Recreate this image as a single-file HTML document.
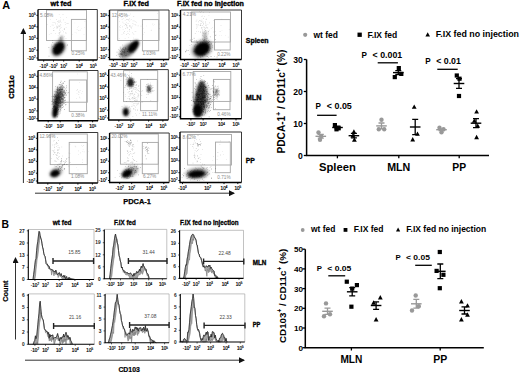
<!DOCTYPE html>
<html><head><meta charset="utf-8"><style>
html,body{margin:0;padding:0;background:#fff;width:520px;height:374px;overflow:hidden}
svg{display:block}
</style></head><body>
<svg width="520" height="374" viewBox="0 0 520 374" style="font-family:'Liberation Sans', sans-serif">
<defs>
<filter id="b1" x="-50%" y="-50%" width="200%" height="200%"><feGaussianBlur stdDeviation="0.6"/></filter>
<filter id="b2" x="-50%" y="-50%" width="200%" height="200%"><feGaussianBlur stdDeviation="1.0"/></filter>
<filter id="b3" x="-50%" y="-50%" width="200%" height="200%"><feGaussianBlur stdDeviation="1.6"/></filter>
<filter id="b4" x="-50%" y="-50%" width="200%" height="200%"><feGaussianBlur stdDeviation="2.4"/></filter>
<marker id="ah" markerWidth="6" markerHeight="6" refX="5" refY="3" orient="auto" markerUnits="userSpaceOnUse"><path d="M0 0L6 3L0 6z" fill="#111"/></marker>
</defs>
<rect width="520" height="374" fill="#fff"/>
<text x="2.2" y="8.8" font-size="10.8" font-weight="bold" fill="#000" text-anchor="start" textLength="7.9" lengthAdjust="spacingAndGlyphs">A</text>
<text x="50.6" y="6.3" font-size="7.1" font-weight="bold" fill="#000" text-anchor="start" textLength="20.8" lengthAdjust="spacingAndGlyphs" stroke="#000" stroke-width="0.35">wt fed</text>
<text x="123.6" y="6.3" font-size="7.1" font-weight="bold" fill="#000" text-anchor="start" textLength="25.2" lengthAdjust="spacingAndGlyphs" stroke="#000" stroke-width="0.35">F.IX fed</text>
<text x="177.1" y="6.3" font-size="7.1" font-weight="bold" fill="#000" text-anchor="start" textLength="66.8" lengthAdjust="spacingAndGlyphs" stroke="#000" stroke-width="0.35">F.IX fed no injection</text>
<text x="245.8" y="43.2" font-size="7.6" font-weight="bold" fill="#000" text-anchor="start" textLength="22.8" lengthAdjust="spacingAndGlyphs" stroke="#000" stroke-width="0.35">Spleen</text>
<text x="245.8" y="99.7" font-size="7.6" font-weight="bold" fill="#000" text-anchor="start" textLength="15.7" lengthAdjust="spacingAndGlyphs" stroke="#000" stroke-width="0.35">MLN</text>
<text x="245.8" y="163.1" font-size="7.6" font-weight="bold" fill="#000" text-anchor="start" textLength="9.1" lengthAdjust="spacingAndGlyphs" stroke="#000" stroke-width="0.35">PP</text>
<text transform="translate(14.3 87) rotate(-90)" font-size="7.7" font-weight="bold" text-anchor="middle" stroke="#000" stroke-width="0.35" textLength="23.3" lengthAdjust="spacingAndGlyphs">CD11c</text>
<line x1="23.4" y1="183" x2="23.4" y2="29" stroke="#333" stroke-width="1" marker-end="url(#ah)"/>
<line x1="35" y1="193.2" x2="234" y2="193.2" stroke="#333" stroke-width="1" marker-end="url(#ah)"/>
<text x="123.2" y="204.2" font-size="7.4" font-weight="bold" fill="#000" text-anchor="start" textLength="27.7" lengthAdjust="spacingAndGlyphs" stroke="#000" stroke-width="0.25">PDCA-1</text>
<rect x="46.5" y="10" width="40" height="30.5" fill="none" stroke="#a6a6a6" stroke-width="0.9"/>
<rect x="71.4" y="19.4" width="14.9" height="31.4" fill="none" stroke="#a6a6a6" stroke-width="0.9"/>
<path d="M59.5 30.1h0.6v0.6h-0.6zM58.1 21.8h0.6v0.6h-0.6zM57.2 21.1h0.6v0.6h-0.6zM59.8 37.4h0.6v0.6h-0.6zM57 23.7h0.6v0.6h-0.6zM61.9 30.5h0.6v0.6h-0.6zM60 21.5h0.6v0.6h-0.6zM59.4 32.9h0.6v0.6h-0.6zM52.8 24.8h0.6v0.6h-0.6zM50 19h0.6v0.6h-0.6zM50.3 26.4h0.6v0.6h-0.6zM53.2 29.9h0.6v0.6h-0.6zM60.3 26.7h0.6v0.6h-0.6zM46.9 24.2h0.6v0.6h-0.6zM59.3 28.8h0.6v0.6h-0.6zM51.8 24.7h0.6v0.6h-0.6zM54.6 22.3h0.6v0.6h-0.6zM64.8 22.3h0.6v0.6h-0.6zM59.3 34.2h0.6v0.6h-0.6zM56.6 27.2h0.6v0.6h-0.6zM60.1 28.4h0.6v0.6h-0.6zM53.4 28.5h0.6v0.6h-0.6zM66.3 17.2h0.6v0.6h-0.6zM63.8 28.8h0.6v0.6h-0.6zM56.3 42h0.6v0.6h-0.6zM63.3 19.6h0.6v0.6h-0.6zM59.9 32h0.6v0.6h-0.6zM58.6 32.8h0.6v0.6h-0.6zM59.2 32.7h0.6v0.6h-0.6zM66.7 23.3h0.6v0.6h-0.6zM60.5 24.8h0.6v0.6h-0.6zM60.1 19.7h0.6v0.6h-0.6zM56.6 26.6h0.6v0.6h-0.6zM64 36h0.6v0.6h-0.6zM52.9 22.4h0.6v0.6h-0.6zM62.7 14.1h0.6v0.6h-0.6zM57.2 27.3h0.6v0.6h-0.6zM65.8 32.8h0.6v0.6h-0.6zM57.9 25.4h0.6v0.6h-0.6zM58.2 38.7h0.6v0.6h-0.6zM57.4 25.9h0.6v0.6h-0.6zM61.3 27.2h0.6v0.6h-0.6zM58.5 20.2h0.6v0.6h-0.6zM59.4 24.9h0.6v0.6h-0.6zM65.3 32.6h0.6v0.6h-0.6zM59.4 32.7h0.6v0.6h-0.6zM57.8 35.4h0.6v0.6h-0.6zM59.5 32.1h0.6v0.6h-0.6zM53 30.4h0.6v0.6h-0.6zM51.1 13.8h0.6v0.6h-0.6zM58 21.7h0.6v0.6h-0.6zM60.3 43.7h0.6v0.6h-0.6zM55.3 23.6h0.6v0.6h-0.6zM60.5 31.5h0.6v0.6h-0.6zM58.6 26.6h0.6v0.6h-0.6zM63 31.6h0.6v0.6h-0.6zM54.3 27.4h0.6v0.6h-0.6zM59.7 20.6h0.6v0.6h-0.6zM60.8 22h0.6v0.6h-0.6zM64.4 29.3h0.6v0.6h-0.6zM59.9 23.9h0.6v0.6h-0.6zM58.9 14h0.6v0.6h-0.6zM53.8 30.5h0.6v0.6h-0.6zM48.9 33.9h0.6v0.6h-0.6zM50.8 33.3h0.6v0.6h-0.6zM55.3 33.5h0.6v0.6h-0.6zM60.2 17.2h0.6v0.6h-0.6zM65.7 38.1h0.6v0.6h-0.6zM59.2 26.1h0.6v0.6h-0.6zM58.7 21.2h0.6v0.6h-0.6zM65 24.2h0.6v0.6h-0.6zM59.2 22.4h0.6v0.6h-0.6zM56.4 19.1h0.6v0.6h-0.6zM65.8 26.9h0.6v0.6h-0.6zM64.3 28.1h0.6v0.6h-0.6zM56 25.7h0.6v0.6h-0.6zM56.7 28.1h0.6v0.6h-0.6zM57.6 25.9h0.6v0.6h-0.6zM52.6 22.4h0.6v0.6h-0.6zM67.8 23.3h0.6v0.6h-0.6z" fill="#000" fill-opacity="0.22"/>
<path d="M74.8 32h0.6v0.6h-0.6zM84.6 21.3h0.6v0.6h-0.6zM78.2 26.2h0.6v0.6h-0.6zM72 34.4h0.6v0.6h-0.6zM78.9 30.4h0.6v0.6h-0.6zM76 32.7h0.6v0.6h-0.6zM76.8 29.1h0.6v0.6h-0.6zM74.6 22.7h0.6v0.6h-0.6zM84.3 27h0.6v0.6h-0.6zM80.2 29.8h0.6v0.6h-0.6zM77.2 27h0.6v0.6h-0.6zM81.5 28.2h0.6v0.6h-0.6zM78.4 30.1h0.6v0.6h-0.6zM83.7 34.1h0.6v0.6h-0.6z" fill="#000" fill-opacity="0.15"/>
<path d="M58 44.6h0.6v0.6h-0.6zM57.5 53.4h0.6v0.6h-0.6zM60.6 43.7h0.6v0.6h-0.6zM62 47.1h0.6v0.6h-0.6zM63.1 46.5h0.6v0.6h-0.6zM61.4 51.8h0.6v0.6h-0.6zM57.6 52.8h0.6v0.6h-0.6zM62.1 47.5h0.6v0.6h-0.6zM67.3 44.6h0.6v0.6h-0.6zM51 46.7h0.6v0.6h-0.6zM57.9 42.2h0.6v0.6h-0.6zM60.7 48.9h0.6v0.6h-0.6zM48.6 47.3h0.6v0.6h-0.6zM59.3 46.3h0.6v0.6h-0.6zM58 47.8h0.6v0.6h-0.6zM52.2 46.2h0.6v0.6h-0.6zM55.5 45.3h0.6v0.6h-0.6zM55.6 53.2h0.6v0.6h-0.6zM59.4 48.1h0.6v0.6h-0.6zM54.2 48.6h0.6v0.6h-0.6zM53.6 48.1h0.6v0.6h-0.6zM56.9 44.6h0.6v0.6h-0.6zM60.3 46.7h0.6v0.6h-0.6zM60 37.7h0.6v0.6h-0.6zM60.5 44.1h0.6v0.6h-0.6zM54.6 43.8h0.6v0.6h-0.6zM59.3 50.1h0.6v0.6h-0.6zM58.5 47.4h0.6v0.6h-0.6zM60.8 50.5h0.6v0.6h-0.6zM52.5 42.1h0.6v0.6h-0.6zM51.4 44.7h0.6v0.6h-0.6zM48.7 55.8h0.6v0.6h-0.6zM62.1 43h0.6v0.6h-0.6zM53 48.5h0.6v0.6h-0.6zM61.8 43.9h0.6v0.6h-0.6zM58.5 46.7h0.6v0.6h-0.6zM60.8 48.7h0.6v0.6h-0.6zM60.5 45.8h0.6v0.6h-0.6zM57.2 51.3h0.6v0.6h-0.6zM59.7 51.6h0.6v0.6h-0.6zM54.9 50.6h0.6v0.6h-0.6zM54.9 44h0.6v0.6h-0.6zM66.8 45h0.6v0.6h-0.6zM59.4 50.2h0.6v0.6h-0.6zM52.5 40h0.6v0.6h-0.6zM59 46.1h0.6v0.6h-0.6zM55.8 44.3h0.6v0.6h-0.6zM57.3 47.4h0.6v0.6h-0.6zM62.5 44.1h0.6v0.6h-0.6zM62.6 50.5h0.6v0.6h-0.6z" fill="#000" fill-opacity="0.45"/>
<ellipse cx="58.5" cy="48.5" rx="9" ry="6.5" transform="rotate(-55 58.5 48.5)" fill="#000" fill-opacity="0.4" filter="url(#b3)"/>
<ellipse cx="58.5" cy="48.5" rx="7.2" ry="4.8" transform="rotate(-55 58.5 48.5)" fill="#000" fill-opacity="1" filter="url(#b2)"/>
<ellipse cx="61" cy="39" rx="3.5" ry="1.8" transform="rotate(-70 61 39)" fill="#000" fill-opacity="0.4" filter="url(#b2)"/>
<path d="M38 9.5H97.3V60" fill="none" stroke="#222" stroke-width="0.9"/>
<path d="M38 9.5V60H97.3" fill="none" stroke="#000" stroke-width="1.4"/>
<text x="40" y="17" font-size="4.7" font-weight="normal" fill="#8c8c8c" text-anchor="start" >5.08%</text>
<text x="71.4" y="55.1" font-size="4.7" font-weight="normal" fill="#8c8c8c" text-anchor="start" >0.25%</text>
<line x1="36.4" y1="15.3" x2="38" y2="15.3" stroke="#000" stroke-width="0.9"/>
<text x="35.6" y="16.9" font-size="4.7" font-weight="normal" fill="#000" stroke="#000" stroke-width="0.18" text-anchor="end">10<tspan font-size="2.9" dy="-1.7">5</tspan></text>
<line x1="36.4" y1="26.9" x2="38" y2="26.9" stroke="#000" stroke-width="0.9"/>
<text x="35.6" y="28.5" font-size="4.7" font-weight="normal" fill="#000" stroke="#000" stroke-width="0.18" text-anchor="end">10<tspan font-size="2.9" dy="-1.7">4</tspan></text>
<line x1="36.4" y1="38.3" x2="38" y2="38.3" stroke="#000" stroke-width="0.9"/>
<text x="35.6" y="39.9" font-size="4.7" font-weight="normal" fill="#000" stroke="#000" stroke-width="0.18" text-anchor="end">10<tspan font-size="2.9" dy="-1.7">3</tspan></text>
<line x1="36.4" y1="50.2" x2="38" y2="50.2" stroke="#000" stroke-width="0.9"/>
<text x="35.6" y="51.8" font-size="4.7" font-weight="normal" fill="#000" stroke="#000" stroke-width="0.18" text-anchor="end">10<tspan font-size="2.9" dy="-1.7">2</tspan></text>
<line x1="36.4" y1="58" x2="38" y2="58" stroke="#000" stroke-width="0.9"/>
<text x="35.6" y="59.6" font-size="4.7" font-weight="normal" fill="#000" stroke="#000" stroke-width="0.18" text-anchor="end">-10<tspan font-size="2.9" dy="-1.7">2</tspan></text>
<line x1="43.7" y1="60" x2="43.7" y2="61.6" stroke="#000" stroke-width="0.9"/>
<text x="43.7" y="67.6" font-size="4.7" font-weight="normal" fill="#000" stroke="#000" stroke-width="0.18" text-anchor="middle">-10<tspan font-size="2.9" dy="-1.7">3</tspan></text>
<line x1="53.5" y1="60" x2="53.5" y2="61.6" stroke="#000" stroke-width="0.9"/>
<text x="53.5" y="67.6" font-size="4.7" font-weight="normal" fill="#000" stroke="#000" stroke-width="0.18" text-anchor="middle">-10<tspan font-size="2.9" dy="-1.7">2</tspan></text>
<line x1="63.7" y1="60" x2="63.7" y2="61.6" stroke="#000" stroke-width="0.9"/>
<text x="63.7" y="67.6" font-size="4.7" font-weight="normal" fill="#000" stroke="#000" stroke-width="0.18" text-anchor="middle">10<tspan font-size="2.9" dy="-1.7">2</tspan></text>
<line x1="79.2" y1="60" x2="79.2" y2="61.6" stroke="#000" stroke-width="0.9"/>
<text x="79.2" y="67.6" font-size="4.7" font-weight="normal" fill="#000" stroke="#000" stroke-width="0.18" text-anchor="middle">10<tspan font-size="2.9" dy="-1.7">4</tspan></text>
<line x1="93.1" y1="60" x2="93.1" y2="61.6" stroke="#000" stroke-width="0.9"/>
<text x="93.1" y="67.6" font-size="4.7" font-weight="normal" fill="#000" stroke="#000" stroke-width="0.18" text-anchor="middle">10<tspan font-size="2.9" dy="-1.7">5</tspan></text>
<rect x="117.7" y="10.8" width="41.3" height="29.7" fill="none" stroke="#a6a6a6" stroke-width="0.9"/>
<rect x="142.4" y="19.6" width="16.3" height="31.2" fill="none" stroke="#a6a6a6" stroke-width="0.9"/>
<path d="M125.2 24.3h0.6v0.6h-0.6zM118.9 38h0.6v0.6h-0.6zM132.8 33.4h0.6v0.6h-0.6zM131.3 27.8h0.6v0.6h-0.6zM129.1 25.2h0.6v0.6h-0.6zM127 27.4h0.6v0.6h-0.6zM135.6 30.9h0.6v0.6h-0.6zM127.7 22.9h0.6v0.6h-0.6zM124.8 38.2h0.6v0.6h-0.6zM130.5 27.5h0.6v0.6h-0.6zM126.3 19.2h0.6v0.6h-0.6zM127.7 33.1h0.6v0.6h-0.6zM126 25.4h0.6v0.6h-0.6zM126.9 27.8h0.6v0.6h-0.6zM120 25.4h0.6v0.6h-0.6zM123.7 33.2h0.6v0.6h-0.6zM124.1 31h0.6v0.6h-0.6zM135.6 24.8h0.6v0.6h-0.6zM125 28.3h0.6v0.6h-0.6zM128 20h0.6v0.6h-0.6zM130.3 41.1h0.6v0.6h-0.6zM126.7 25.6h0.6v0.6h-0.6zM122.8 29.2h0.6v0.6h-0.6zM121.8 19.3h0.6v0.6h-0.6zM134.4 20.7h0.6v0.6h-0.6zM133.4 37.7h0.6v0.6h-0.6zM129.3 30.9h0.6v0.6h-0.6zM137.8 25.6h0.6v0.6h-0.6zM125 17.5h0.6v0.6h-0.6zM128.2 37.4h0.6v0.6h-0.6zM132.8 20.4h0.6v0.6h-0.6zM123.7 23.5h0.6v0.6h-0.6zM129.5 25.6h0.6v0.6h-0.6zM129.1 29.1h0.6v0.6h-0.6zM126.5 26.7h0.6v0.6h-0.6zM129 26.4h0.6v0.6h-0.6zM130.5 40.1h0.6v0.6h-0.6zM131 27.4h0.6v0.6h-0.6zM119.6 29.7h0.6v0.6h-0.6zM118.3 17.1h0.6v0.6h-0.6zM132.3 31.9h0.6v0.6h-0.6zM127.3 15h0.6v0.6h-0.6zM126.1 22.2h0.6v0.6h-0.6zM131.2 42.8h0.6v0.6h-0.6zM129.1 21.5h0.6v0.6h-0.6zM122.1 26.6h0.6v0.6h-0.6zM127.1 18.9h0.6v0.6h-0.6zM128.6 18.9h0.6v0.6h-0.6zM133.6 34.4h0.6v0.6h-0.6zM133.4 23.7h0.6v0.6h-0.6zM130.6 26.1h0.6v0.6h-0.6zM126.1 24.6h0.6v0.6h-0.6zM121.5 16.9h0.6v0.6h-0.6zM132 25.7h0.6v0.6h-0.6zM129.1 34h0.6v0.6h-0.6zM119.3 21.5h0.6v0.6h-0.6zM128.9 29.7h0.6v0.6h-0.6zM126.1 34.2h0.6v0.6h-0.6zM129.1 18.5h0.6v0.6h-0.6zM123.3 32.6h0.6v0.6h-0.6zM130.3 13.7h0.6v0.6h-0.6zM134.7 31.2h0.6v0.6h-0.6zM134.7 24.3h0.6v0.6h-0.6zM126.5 19.1h0.6v0.6h-0.6zM140.7 25.8h0.6v0.6h-0.6zM135.9 22.5h0.6v0.6h-0.6zM128.8 15.3h0.6v0.6h-0.6zM126.1 33.9h0.6v0.6h-0.6zM121.7 34.5h0.6v0.6h-0.6zM129.7 19.7h0.6v0.6h-0.6zM125.5 23.8h0.6v0.6h-0.6zM127.8 23.2h0.6v0.6h-0.6zM123.9 24.9h0.6v0.6h-0.6zM122.9 18h0.6v0.6h-0.6zM127.8 33.2h0.6v0.6h-0.6zM120.4 27h0.6v0.6h-0.6zM124.8 20.2h0.6v0.6h-0.6zM132.3 23.4h0.6v0.6h-0.6zM135.5 21.5h0.6v0.6h-0.6zM129.9 25.4h0.6v0.6h-0.6zM124.2 31.1h0.6v0.6h-0.6zM127.2 31.2h0.6v0.6h-0.6zM127.8 19.4h0.6v0.6h-0.6zM127.5 27.4h0.6v0.6h-0.6zM132.8 20.7h0.6v0.6h-0.6zM127.8 14.9h0.6v0.6h-0.6zM131.3 19.4h0.6v0.6h-0.6zM119 26.6h0.6v0.6h-0.6zM133.5 16.3h0.6v0.6h-0.6zM122.6 21.8h0.6v0.6h-0.6z" fill="#000" fill-opacity="0.22"/>
<path d="M144.4 32.3h0.6v0.6h-0.6zM146 25.7h0.6v0.6h-0.6zM152.9 25.5h0.6v0.6h-0.6zM152.2 24.2h0.6v0.6h-0.6zM143.9 19h0.6v0.6h-0.6zM159.3 28.1h0.6v0.6h-0.6zM151.2 29.8h0.6v0.6h-0.6zM150.8 30.3h0.6v0.6h-0.6zM159.5 23.8h0.6v0.6h-0.6zM142.2 23.9h0.6v0.6h-0.6zM143.3 34.5h0.6v0.6h-0.6zM154.1 24.2h0.6v0.6h-0.6zM143 27.9h0.6v0.6h-0.6zM157 13.1h0.6v0.6h-0.6zM152.6 23.5h0.6v0.6h-0.6z" fill="#000" fill-opacity="0.15"/>
<path d="M125.3 47.8h0.6v0.6h-0.6zM120.8 49.2h0.6v0.6h-0.6zM122.3 56.7h0.6v0.6h-0.6zM125.5 49.7h0.6v0.6h-0.6zM118.5 49.4h0.6v0.6h-0.6zM122.3 52.6h0.6v0.6h-0.6zM123.1 51.9h0.6v0.6h-0.6zM120 53.8h0.6v0.6h-0.6zM125 54.9h0.6v0.6h-0.6zM129 48.4h0.6v0.6h-0.6zM121.1 53.2h0.6v0.6h-0.6zM120.7 51.5h0.6v0.6h-0.6zM122 49.8h0.6v0.6h-0.6zM125.2 50.7h0.6v0.6h-0.6zM124 51.2h0.6v0.6h-0.6zM120.1 51.2h0.6v0.6h-0.6zM122.1 51.2h0.6v0.6h-0.6zM124.2 51.6h0.6v0.6h-0.6zM119.5 54.5h0.6v0.6h-0.6zM118.7 53h0.6v0.6h-0.6zM120 48h0.6v0.6h-0.6zM124 52.2h0.6v0.6h-0.6zM122.5 51.4h0.6v0.6h-0.6zM121.1 50.5h0.6v0.6h-0.6zM122 51.3h0.6v0.6h-0.6zM122.3 49.2h0.6v0.6h-0.6zM124.4 51.9h0.6v0.6h-0.6zM122.5 51.3h0.6v0.6h-0.6zM123.1 47.4h0.6v0.6h-0.6zM125.2 51.7h0.6v0.6h-0.6zM124.8 52.3h0.6v0.6h-0.6zM121.2 52.6h0.6v0.6h-0.6zM126 51.8h0.6v0.6h-0.6zM122.2 48.4h0.6v0.6h-0.6zM126.6 53.6h0.6v0.6h-0.6zM126.9 50.7h0.6v0.6h-0.6zM120 56.8h0.6v0.6h-0.6zM119.9 46.8h0.6v0.6h-0.6zM122.8 48.1h0.6v0.6h-0.6zM118.8 52.9h0.6v0.6h-0.6zM126.9 49h0.6v0.6h-0.6zM126.5 55.3h0.6v0.6h-0.6zM128.2 49h0.6v0.6h-0.6zM121.2 49.7h0.6v0.6h-0.6zM121.9 54.1h0.6v0.6h-0.6zM124.8 51.5h0.6v0.6h-0.6zM125.5 48.6h0.6v0.6h-0.6zM124.2 53.7h0.6v0.6h-0.6zM126.6 53.3h0.6v0.6h-0.6zM124.3 50.6h0.6v0.6h-0.6zM123.3 49.2h0.6v0.6h-0.6zM119.3 56.1h0.6v0.6h-0.6zM123.7 52.8h0.6v0.6h-0.6zM117.9 54.2h0.6v0.6h-0.6zM120.6 51.2h0.6v0.6h-0.6zM116.2 55.2h0.6v0.6h-0.6zM126.7 51.3h0.6v0.6h-0.6zM121.7 53h0.6v0.6h-0.6zM122.3 44.7h0.6v0.6h-0.6zM123.8 53.4h0.6v0.6h-0.6zM127.7 54.5h0.6v0.6h-0.6zM127.3 50.7h0.6v0.6h-0.6zM125.4 53.2h0.6v0.6h-0.6zM121.8 52.9h0.6v0.6h-0.6zM128.7 54.7h0.6v0.6h-0.6zM123 52.2h0.6v0.6h-0.6zM125.8 54.6h0.6v0.6h-0.6zM125.2 55.2h0.6v0.6h-0.6zM120.3 53.3h0.6v0.6h-0.6zM123.9 54h0.6v0.6h-0.6zM124.8 46.9h0.6v0.6h-0.6zM121.1 54.3h0.6v0.6h-0.6zM119.6 49.9h0.6v0.6h-0.6zM127.3 51.3h0.6v0.6h-0.6zM124.4 50.1h0.6v0.6h-0.6zM126.3 49.7h0.6v0.6h-0.6zM125.7 48.1h0.6v0.6h-0.6zM121.2 53.9h0.6v0.6h-0.6zM122.2 54.7h0.6v0.6h-0.6zM123.1 49.5h0.6v0.6h-0.6zM123.3 51.1h0.6v0.6h-0.6zM125.5 49h0.6v0.6h-0.6zM123.7 55.4h0.6v0.6h-0.6zM132.8 52.4h0.6v0.6h-0.6zM124 52.4h0.6v0.6h-0.6zM128 49h0.6v0.6h-0.6zM120.7 54h0.6v0.6h-0.6zM123.8 49.4h0.6v0.6h-0.6zM116.7 51.8h0.6v0.6h-0.6zM124.6 49.2h0.6v0.6h-0.6z" fill="#000" fill-opacity="0.45"/>
<ellipse cx="128" cy="50.5" rx="10" ry="5.5" transform="rotate(-40 128 50.5)" fill="#000" fill-opacity="0.55" filter="url(#b3)"/>
<ellipse cx="133.5" cy="46.5" rx="7.5" ry="3.8" transform="rotate(-50 133.5 46.5)" fill="#000" fill-opacity="1" filter="url(#b2)"/>
<path d="M109.5 10H169V59.5" fill="none" stroke="#222" stroke-width="0.9"/>
<path d="M109.5 10V59.5H169" fill="none" stroke="#000" stroke-width="1.4"/>
<text x="111.7" y="17" font-size="4.7" font-weight="normal" fill="#8c8c8c" text-anchor="start" >12.45%</text>
<text x="142.4" y="55.1" font-size="4.7" font-weight="normal" fill="#8c8c8c" text-anchor="start" >1.03%</text>
<line x1="107.9" y1="15.7" x2="109.5" y2="15.7" stroke="#000" stroke-width="0.9"/>
<text x="107.1" y="17.3" font-size="4.7" font-weight="normal" fill="#000" stroke="#000" stroke-width="0.18" text-anchor="end">10<tspan font-size="2.9" dy="-1.7">5</tspan></text>
<line x1="107.9" y1="27.1" x2="109.5" y2="27.1" stroke="#000" stroke-width="0.9"/>
<text x="107.1" y="28.7" font-size="4.7" font-weight="normal" fill="#000" stroke="#000" stroke-width="0.18" text-anchor="end">10<tspan font-size="2.9" dy="-1.7">4</tspan></text>
<line x1="107.9" y1="38.2" x2="109.5" y2="38.2" stroke="#000" stroke-width="0.9"/>
<text x="107.1" y="39.8" font-size="4.7" font-weight="normal" fill="#000" stroke="#000" stroke-width="0.18" text-anchor="end">10<tspan font-size="2.9" dy="-1.7">3</tspan></text>
<line x1="107.9" y1="49.8" x2="109.5" y2="49.8" stroke="#000" stroke-width="0.9"/>
<text x="107.1" y="51.4" font-size="4.7" font-weight="normal" fill="#000" stroke="#000" stroke-width="0.18" text-anchor="end">10<tspan font-size="2.9" dy="-1.7">2</tspan></text>
<line x1="107.9" y1="57.5" x2="109.5" y2="57.5" stroke="#000" stroke-width="0.9"/>
<text x="107.1" y="59.1" font-size="4.7" font-weight="normal" fill="#000" stroke="#000" stroke-width="0.18" text-anchor="end">-10<tspan font-size="2.9" dy="-1.7">2</tspan></text>
<line x1="113.4" y1="59.5" x2="113.4" y2="61.1" stroke="#000" stroke-width="0.9"/>
<text x="113.4" y="67.1" font-size="4.7" font-weight="normal" fill="#000" stroke="#000" stroke-width="0.18" text-anchor="middle">-10<tspan font-size="2.9" dy="-1.7">3</tspan></text>
<line x1="123.8" y1="59.5" x2="123.8" y2="61.1" stroke="#000" stroke-width="0.9"/>
<text x="123.8" y="67.1" font-size="4.7" font-weight="normal" fill="#000" stroke="#000" stroke-width="0.18" text-anchor="middle">-10<tspan font-size="2.9" dy="-1.7">2</tspan></text>
<line x1="133.9" y1="59.5" x2="133.9" y2="61.1" stroke="#000" stroke-width="0.9"/>
<text x="133.9" y="67.1" font-size="4.7" font-weight="normal" fill="#000" stroke="#000" stroke-width="0.18" text-anchor="middle">10<tspan font-size="2.9" dy="-1.7">2</tspan></text>
<line x1="150" y1="59.5" x2="150" y2="61.1" stroke="#000" stroke-width="0.9"/>
<text x="150" y="67.1" font-size="4.7" font-weight="normal" fill="#000" stroke="#000" stroke-width="0.18" text-anchor="middle">10<tspan font-size="2.9" dy="-1.7">4</tspan></text>
<line x1="163.6" y1="59.5" x2="163.6" y2="61.1" stroke="#000" stroke-width="0.9"/>
<text x="163.6" y="67.1" font-size="4.7" font-weight="normal" fill="#000" stroke="#000" stroke-width="0.18" text-anchor="middle">10<tspan font-size="2.9" dy="-1.7">5</tspan></text>
<rect x="191.4" y="12" width="39.1" height="30" fill="none" stroke="#a6a6a6" stroke-width="0.9"/>
<rect x="214.5" y="19.6" width="15.7" height="30.4" fill="none" stroke="#a6a6a6" stroke-width="0.9"/>
<path d="M202.4 29.7h0.6v0.6h-0.6zM205.5 25.3h0.6v0.6h-0.6zM205 20.9h0.6v0.6h-0.6zM201.6 19.8h0.6v0.6h-0.6zM207.5 27.8h0.6v0.6h-0.6zM200 25.2h0.6v0.6h-0.6zM202.1 33.6h0.6v0.6h-0.6zM196.6 19.7h0.6v0.6h-0.6zM201.5 48.3h0.6v0.6h-0.6zM206.8 27.1h0.6v0.6h-0.6zM205.8 44.5h0.6v0.6h-0.6zM202.1 25.1h0.6v0.6h-0.6zM207.8 32h0.6v0.6h-0.6zM205.7 23.9h0.6v0.6h-0.6zM210.7 41.7h0.6v0.6h-0.6zM205.3 33.5h0.6v0.6h-0.6zM194.9 33.1h0.6v0.6h-0.6zM202.2 31.5h0.6v0.6h-0.6zM205.7 25.3h0.6v0.6h-0.6zM196.2 30.9h0.6v0.6h-0.6zM200 25.4h0.6v0.6h-0.6zM200.6 25.3h0.6v0.6h-0.6zM193.8 37.7h0.6v0.6h-0.6zM204 36.9h0.6v0.6h-0.6zM210.9 28.2h0.6v0.6h-0.6zM195.8 20.8h0.6v0.6h-0.6zM198.2 24h0.6v0.6h-0.6zM203.3 12h0.6v0.6h-0.6zM204.4 15.9h0.6v0.6h-0.6zM204.2 27.1h0.6v0.6h-0.6zM201.7 27.4h0.6v0.6h-0.6zM200.8 23.1h0.6v0.6h-0.6zM196.3 27.8h0.6v0.6h-0.6zM210.4 43.8h0.6v0.6h-0.6zM208.3 33.6h0.6v0.6h-0.6zM200.3 39.5h0.6v0.6h-0.6zM202.8 27.4h0.6v0.6h-0.6zM201.8 28.7h0.6v0.6h-0.6zM201.3 27.3h0.6v0.6h-0.6zM198.7 25h0.6v0.6h-0.6zM212.1 27.4h0.6v0.6h-0.6zM202 32.3h0.6v0.6h-0.6zM205.8 19.1h0.6v0.6h-0.6zM202.2 35.3h0.6v0.6h-0.6zM204.1 29h0.6v0.6h-0.6zM209.2 22.6h0.6v0.6h-0.6zM203.3 23.8h0.6v0.6h-0.6zM209 12.4h0.6v0.6h-0.6zM200.3 23.8h0.6v0.6h-0.6zM205.7 32.9h0.6v0.6h-0.6zM208.6 15.4h0.6v0.6h-0.6zM206 25.7h0.6v0.6h-0.6zM200.3 32.3h0.6v0.6h-0.6zM199.3 11.4h0.6v0.6h-0.6zM201.5 16h0.6v0.6h-0.6zM200.4 31h0.6v0.6h-0.6zM204.2 40.7h0.6v0.6h-0.6zM202.2 15.7h0.6v0.6h-0.6zM200 20.6h0.6v0.6h-0.6zM198.1 31.5h0.6v0.6h-0.6zM200.4 12.2h0.6v0.6h-0.6zM205.8 27.1h0.6v0.6h-0.6zM204.4 28.8h0.6v0.6h-0.6zM205.5 28.3h0.6v0.6h-0.6zM207.9 31.4h0.6v0.6h-0.6zM204.6 31.3h0.6v0.6h-0.6zM197.2 26.7h0.6v0.6h-0.6zM202 29.7h0.6v0.6h-0.6zM197.6 41.1h0.6v0.6h-0.6zM203.4 18.3h0.6v0.6h-0.6zM196.2 25.7h0.6v0.6h-0.6zM202.6 22.3h0.6v0.6h-0.6zM203.4 22.9h0.6v0.6h-0.6zM205.2 22.2h0.6v0.6h-0.6zM202.8 35.8h0.6v0.6h-0.6zM213.3 19.9h0.6v0.6h-0.6zM201.1 21.3h0.6v0.6h-0.6zM206.1 18.8h0.6v0.6h-0.6zM201.1 27.8h0.6v0.6h-0.6zM199.1 20.3h0.6v0.6h-0.6zM201.1 11.2h0.6v0.6h-0.6zM197.2 24.7h0.6v0.6h-0.6zM203.6 26.5h0.6v0.6h-0.6zM195.9 24.3h0.6v0.6h-0.6zM206.2 32.4h0.6v0.6h-0.6zM202.7 20.9h0.6v0.6h-0.6zM205.5 23.4h0.6v0.6h-0.6zM198.3 21.6h0.6v0.6h-0.6zM208.8 29.8h0.6v0.6h-0.6zM207.6 24.2h0.6v0.6h-0.6z" fill="#000" fill-opacity="0.25"/>
<path d="M206.7 41.6h0.6v0.6h-0.6zM205.8 42.8h0.6v0.6h-0.6zM202.4 50.5h0.6v0.6h-0.6zM208.9 41.1h0.6v0.6h-0.6zM189.1 54h0.6v0.6h-0.6zM202.4 49h0.6v0.6h-0.6zM212.1 44.9h0.6v0.6h-0.6zM204.3 39.5h0.6v0.6h-0.6zM214.3 55.9h0.6v0.6h-0.6zM208.1 46.7h0.6v0.6h-0.6zM208.4 57.2h0.6v0.6h-0.6zM195.2 51.6h0.6v0.6h-0.6zM207.4 50.5h0.6v0.6h-0.6zM199.9 51.8h0.6v0.6h-0.6zM200.4 50.2h0.6v0.6h-0.6zM197.7 43.1h0.6v0.6h-0.6zM204.5 53.1h0.6v0.6h-0.6zM194.6 51.1h0.6v0.6h-0.6zM203.4 40.3h0.6v0.6h-0.6zM200.1 42.3h0.6v0.6h-0.6zM216.8 56h0.6v0.6h-0.6zM215.4 39.3h0.6v0.6h-0.6zM207.5 46.2h0.6v0.6h-0.6zM207.4 56.1h0.6v0.6h-0.6zM205.9 56h0.6v0.6h-0.6zM201.3 44.3h0.6v0.6h-0.6zM206.1 51.2h0.6v0.6h-0.6zM203.7 50.9h0.6v0.6h-0.6zM192 39.5h0.6v0.6h-0.6zM210.3 48.5h0.6v0.6h-0.6zM203.2 48.3h0.6v0.6h-0.6zM207.8 42h0.6v0.6h-0.6zM196.5 50.3h0.6v0.6h-0.6zM206.1 36.5h0.6v0.6h-0.6zM208.3 40.4h0.6v0.6h-0.6zM197.4 42.1h0.6v0.6h-0.6zM202.3 54.8h0.6v0.6h-0.6zM209 41.5h0.6v0.6h-0.6zM207 50.6h0.6v0.6h-0.6zM198.6 52.9h0.6v0.6h-0.6zM200.2 45.8h0.6v0.6h-0.6zM198.8 50.8h0.6v0.6h-0.6zM200.5 45.4h0.6v0.6h-0.6zM202.4 56h0.6v0.6h-0.6zM206.1 52.2h0.6v0.6h-0.6zM212.1 46.8h0.6v0.6h-0.6zM215.3 35.1h0.6v0.6h-0.6zM206.6 43.6h0.6v0.6h-0.6zM220 49.9h0.6v0.6h-0.6zM185.6 51.3h0.6v0.6h-0.6zM209 49.9h0.6v0.6h-0.6zM206.9 45.2h0.6v0.6h-0.6zM207.1 50.1h0.6v0.6h-0.6zM204.5 54.1h0.6v0.6h-0.6zM197.7 57.6h0.6v0.6h-0.6zM197.7 44.8h0.6v0.6h-0.6zM201.9 42.3h0.6v0.6h-0.6zM191 44h0.6v0.6h-0.6zM203.3 51.2h0.6v0.6h-0.6zM208.7 43.7h0.6v0.6h-0.6zM209.3 44.4h0.6v0.6h-0.6zM203.1 51.9h0.6v0.6h-0.6zM208.3 42.5h0.6v0.6h-0.6zM199.8 48.6h0.6v0.6h-0.6zM199.9 43.5h0.6v0.6h-0.6zM207.9 42.3h0.6v0.6h-0.6zM202.7 42.4h0.6v0.6h-0.6zM205.7 49.1h0.6v0.6h-0.6zM209.9 56.2h0.6v0.6h-0.6zM206.7 41.2h0.6v0.6h-0.6zM200.7 52.3h0.6v0.6h-0.6zM202.6 48.5h0.6v0.6h-0.6zM194.6 40.2h0.6v0.6h-0.6zM193.8 37.9h0.6v0.6h-0.6zM202.4 43.2h0.6v0.6h-0.6zM196.4 50.2h0.6v0.6h-0.6zM199.6 40h0.6v0.6h-0.6zM186.7 50h0.6v0.6h-0.6zM185 51.6h0.6v0.6h-0.6zM209.9 36.6h0.6v0.6h-0.6zM202.4 38.8h0.6v0.6h-0.6zM203.1 45.6h0.6v0.6h-0.6zM203.3 51.7h0.6v0.6h-0.6zM214.8 42.5h0.6v0.6h-0.6zM199.9 42.9h0.6v0.6h-0.6zM205.3 44.9h0.6v0.6h-0.6zM207.6 44.9h0.6v0.6h-0.6zM208.1 31.2h0.6v0.6h-0.6zM202.6 54.3h0.6v0.6h-0.6zM197.2 45.8h0.6v0.6h-0.6zM196 42.4h0.6v0.6h-0.6zM206.6 38.2h0.6v0.6h-0.6zM194.7 49.9h0.6v0.6h-0.6zM206.5 40.2h0.6v0.6h-0.6zM199.9 55.9h0.6v0.6h-0.6zM206.9 43.1h0.6v0.6h-0.6zM189.6 44.9h0.6v0.6h-0.6zM190.5 39.7h0.6v0.6h-0.6zM205.3 42.2h0.6v0.6h-0.6zM210.9 56.3h0.6v0.6h-0.6zM206.7 37.8h0.6v0.6h-0.6zM211.5 51h0.6v0.6h-0.6zM194 46.5h0.6v0.6h-0.6zM196.4 40.6h0.6v0.6h-0.6zM205 30.1h0.6v0.6h-0.6zM193.5 51.5h0.6v0.6h-0.6zM200.9 50.3h0.6v0.6h-0.6zM203.2 46.3h0.6v0.6h-0.6zM203.5 32.8h0.6v0.6h-0.6zM199.9 44.8h0.6v0.6h-0.6zM203.6 49.1h0.6v0.6h-0.6zM193.8 48.8h0.6v0.6h-0.6zM208.5 47.1h0.6v0.6h-0.6zM213.6 31.7h0.6v0.6h-0.6zM208.1 46.5h0.6v0.6h-0.6zM198.9 46.5h0.6v0.6h-0.6zM198.9 46.5h0.6v0.6h-0.6zM206 43.5h0.6v0.6h-0.6zM195.3 44h0.6v0.6h-0.6zM199 44.1h0.6v0.6h-0.6zM203.9 54.6h0.6v0.6h-0.6zM206 49.7h0.6v0.6h-0.6zM204.6 47.4h0.6v0.6h-0.6zM200.2 47.4h0.6v0.6h-0.6zM204 39.8h0.6v0.6h-0.6zM211.4 43.3h0.6v0.6h-0.6zM195.3 49h0.6v0.6h-0.6zM197.8 52h0.6v0.6h-0.6zM200.5 57.3h0.6v0.6h-0.6zM189.8 39.8h0.6v0.6h-0.6zM190.9 41h0.6v0.6h-0.6zM204.9 54.2h0.6v0.6h-0.6zM202.5 39h0.6v0.6h-0.6zM204.2 47.2h0.6v0.6h-0.6zM216.7 57h0.6v0.6h-0.6zM211.4 44h0.6v0.6h-0.6zM206.3 50.3h0.6v0.6h-0.6zM194.6 45.4h0.6v0.6h-0.6zM199.5 43.4h0.6v0.6h-0.6zM201.9 49.2h0.6v0.6h-0.6zM215.7 34.7h0.6v0.6h-0.6zM200.7 48.1h0.6v0.6h-0.6zM208.2 52.2h0.6v0.6h-0.6zM196.1 46.2h0.6v0.6h-0.6zM187.9 50.3h0.6v0.6h-0.6zM205.9 46.6h0.6v0.6h-0.6zM193.8 50.6h0.6v0.6h-0.6zM203.7 51h0.6v0.6h-0.6zM197.1 49.6h0.6v0.6h-0.6zM185.9 49.8h0.6v0.6h-0.6zM206.6 30.7h0.6v0.6h-0.6z" fill="#000" fill-opacity="0.45"/>
<path d="M220.3 31.3h0.6v0.6h-0.6zM220.1 25.2h0.6v0.6h-0.6zM221.7 30h0.6v0.6h-0.6zM221.6 18.7h0.6v0.6h-0.6zM221.3 24.9h0.6v0.6h-0.6zM219.3 31.4h0.6v0.6h-0.6zM225.2 35.4h0.6v0.6h-0.6zM219.5 35.5h0.6v0.6h-0.6zM227.9 36.8h0.6v0.6h-0.6zM228.9 29.1h0.6v0.6h-0.6zM221.1 35h0.6v0.6h-0.6zM215.2 31.3h0.6v0.6h-0.6z" fill="#000" fill-opacity="0.15"/>
<ellipse cx="202" cy="49" rx="11" ry="8.5" transform="rotate(-30 202 49)" fill="#000" fill-opacity="0.4" filter="url(#b3)"/>
<ellipse cx="202" cy="49" rx="8.3" ry="6.3" transform="rotate(-35 202 49)" fill="#000" fill-opacity="1" filter="url(#b2)"/>
<ellipse cx="205" cy="37" rx="2" ry="6" transform="rotate(0 205 37)" fill="#000" fill-opacity="0.3" filter="url(#b2)"/>
<path d="M180.5 10H241.5V59.5" fill="none" stroke="#222" stroke-width="0.9"/>
<path d="M180.5 10V59.5H241.5" fill="none" stroke="#000" stroke-width="1.4"/>
<text x="182.7" y="16.4" font-size="4.7" font-weight="normal" fill="#8c8c8c" text-anchor="start" >4.21%</text>
<text x="217.2" y="55.7" font-size="4.7" font-weight="normal" fill="#8c8c8c" text-anchor="start" >0.22%</text>
<line x1="178.9" y1="15.7" x2="180.5" y2="15.7" stroke="#000" stroke-width="0.9"/>
<text x="178.1" y="17.3" font-size="4.7" font-weight="normal" fill="#000" stroke="#000" stroke-width="0.18" text-anchor="end">10<tspan font-size="2.9" dy="-1.7">5</tspan></text>
<line x1="178.9" y1="27.1" x2="180.5" y2="27.1" stroke="#000" stroke-width="0.9"/>
<text x="178.1" y="28.7" font-size="4.7" font-weight="normal" fill="#000" stroke="#000" stroke-width="0.18" text-anchor="end">10<tspan font-size="2.9" dy="-1.7">4</tspan></text>
<line x1="178.9" y1="38.2" x2="180.5" y2="38.2" stroke="#000" stroke-width="0.9"/>
<text x="178.1" y="39.8" font-size="4.7" font-weight="normal" fill="#000" stroke="#000" stroke-width="0.18" text-anchor="end">10<tspan font-size="2.9" dy="-1.7">3</tspan></text>
<line x1="178.9" y1="49.8" x2="180.5" y2="49.8" stroke="#000" stroke-width="0.9"/>
<text x="178.1" y="51.4" font-size="4.7" font-weight="normal" fill="#000" stroke="#000" stroke-width="0.18" text-anchor="end">10<tspan font-size="2.9" dy="-1.7">2</tspan></text>
<line x1="178.9" y1="57.5" x2="180.5" y2="57.5" stroke="#000" stroke-width="0.9"/>
<text x="178.1" y="59.1" font-size="4.7" font-weight="normal" fill="#000" stroke="#000" stroke-width="0.18" text-anchor="end">-10<tspan font-size="2.9" dy="-1.7">2</tspan></text>
<line x1="184.5" y1="59.5" x2="184.5" y2="61.1" stroke="#000" stroke-width="0.9"/>
<text x="184.5" y="67.1" font-size="4.7" font-weight="normal" fill="#000" stroke="#000" stroke-width="0.18" text-anchor="middle">-10<tspan font-size="2.9" dy="-1.7">3</tspan></text>
<line x1="195.1" y1="59.5" x2="195.1" y2="61.1" stroke="#000" stroke-width="0.9"/>
<text x="195.1" y="67.1" font-size="4.7" font-weight="normal" fill="#000" stroke="#000" stroke-width="0.18" text-anchor="middle">-10<tspan font-size="2.9" dy="-1.7">2</tspan></text>
<line x1="205.5" y1="59.5" x2="205.5" y2="61.1" stroke="#000" stroke-width="0.9"/>
<text x="205.5" y="67.1" font-size="4.7" font-weight="normal" fill="#000" stroke="#000" stroke-width="0.18" text-anchor="middle">10<tspan font-size="2.9" dy="-1.7">2</tspan></text>
<line x1="222" y1="59.5" x2="222" y2="61.1" stroke="#000" stroke-width="0.9"/>
<text x="222" y="67.1" font-size="4.7" font-weight="normal" fill="#000" stroke="#000" stroke-width="0.18" text-anchor="middle">10<tspan font-size="2.9" dy="-1.7">4</tspan></text>
<line x1="236" y1="59.5" x2="236" y2="61.1" stroke="#000" stroke-width="0.9"/>
<text x="236" y="67.1" font-size="4.7" font-weight="normal" fill="#000" stroke="#000" stroke-width="0.18" text-anchor="middle">10<tspan font-size="2.9" dy="-1.7">5</tspan></text>
<rect x="52.6" y="71.8" width="34.7" height="30.4" fill="none" stroke="#a6a6a6" stroke-width="0.9"/>
<rect x="69.3" y="80" width="17.3" height="31.4" fill="none" stroke="#a6a6a6" stroke-width="0.9"/>
<path d="M58 95.5h0.6v0.6h-0.6zM55.4 91.6h0.6v0.6h-0.6zM57.8 103.4h0.6v0.6h-0.6zM61.8 98.1h0.6v0.6h-0.6zM59.6 92.9h0.6v0.6h-0.6zM60.4 96.7h0.6v0.6h-0.6zM58.4 109h0.6v0.6h-0.6zM60.8 88.9h0.6v0.6h-0.6zM58.5 88.7h0.6v0.6h-0.6zM54 105.2h0.6v0.6h-0.6zM61.6 88.9h0.6v0.6h-0.6zM59.2 106h0.6v0.6h-0.6zM58.9 93.7h0.6v0.6h-0.6zM57.7 99.5h0.6v0.6h-0.6zM59.2 105.5h0.6v0.6h-0.6zM60.8 105.9h0.6v0.6h-0.6zM61.9 102.8h0.6v0.6h-0.6zM55 96.3h0.6v0.6h-0.6zM60.4 95.9h0.6v0.6h-0.6zM62 96.3h0.6v0.6h-0.6zM54.6 106.2h0.6v0.6h-0.6zM60.5 99.7h0.6v0.6h-0.6zM60.2 105h0.6v0.6h-0.6zM63.1 83.3h0.6v0.6h-0.6zM57.7 94.8h0.6v0.6h-0.6zM56 98.6h0.6v0.6h-0.6zM62.9 95.8h0.6v0.6h-0.6zM53.3 109.6h0.6v0.6h-0.6zM59.4 90.3h0.6v0.6h-0.6zM59.1 100.7h0.6v0.6h-0.6zM56.1 102.4h0.6v0.6h-0.6zM58.9 92.1h0.6v0.6h-0.6zM58.5 102.8h0.6v0.6h-0.6zM56.8 99.6h0.6v0.6h-0.6zM55.1 115.1h0.6v0.6h-0.6zM55.3 106h0.6v0.6h-0.6zM59 97.2h0.6v0.6h-0.6zM59.8 103.8h0.6v0.6h-0.6zM62 100.7h0.6v0.6h-0.6zM58 94.4h0.6v0.6h-0.6zM59.6 101.8h0.6v0.6h-0.6zM62.3 101.4h0.6v0.6h-0.6zM59.9 107.8h0.6v0.6h-0.6zM61.4 89.1h0.6v0.6h-0.6zM57.6 88.6h0.6v0.6h-0.6zM64.5 93.8h0.6v0.6h-0.6zM61.6 102.3h0.6v0.6h-0.6zM62.4 105.1h0.6v0.6h-0.6zM59 96.7h0.6v0.6h-0.6zM59 99.1h0.6v0.6h-0.6zM57.6 97.5h0.6v0.6h-0.6zM65.6 88.6h0.6v0.6h-0.6zM60.9 92.7h0.6v0.6h-0.6zM58.4 103.2h0.6v0.6h-0.6zM57.8 102.7h0.6v0.6h-0.6zM53.2 103.8h0.6v0.6h-0.6zM56.5 101.4h0.6v0.6h-0.6zM62.8 82.4h0.6v0.6h-0.6zM56.6 98.9h0.6v0.6h-0.6zM62.9 100.6h0.6v0.6h-0.6zM61.5 89.6h0.6v0.6h-0.6zM60.6 109.8h0.6v0.6h-0.6zM59.4 96.7h0.6v0.6h-0.6zM53.4 102.4h0.6v0.6h-0.6zM65.5 103.9h0.6v0.6h-0.6zM61.8 102h0.6v0.6h-0.6zM54.6 105.5h0.6v0.6h-0.6zM55.9 96h0.6v0.6h-0.6zM58.6 103.5h0.6v0.6h-0.6zM59.6 100.6h0.6v0.6h-0.6zM58.6 89.7h0.6v0.6h-0.6zM60.1 93.7h0.6v0.6h-0.6zM57.1 89.6h0.6v0.6h-0.6zM60 86.5h0.6v0.6h-0.6zM57.4 87.3h0.6v0.6h-0.6zM59 100.6h0.6v0.6h-0.6zM66.4 90.1h0.6v0.6h-0.6zM56 103.1h0.6v0.6h-0.6zM58.8 95.9h0.6v0.6h-0.6zM64.1 96.9h0.6v0.6h-0.6zM57.5 89.3h0.6v0.6h-0.6zM59.5 100h0.6v0.6h-0.6zM56.5 91.2h0.6v0.6h-0.6zM59.7 101.8h0.6v0.6h-0.6zM56.4 101.4h0.6v0.6h-0.6zM62.9 87.5h0.6v0.6h-0.6zM57.6 100.3h0.6v0.6h-0.6zM60.2 84.7h0.6v0.6h-0.6zM57.3 102.4h0.6v0.6h-0.6zM66.2 85.6h0.6v0.6h-0.6zM67.6 92.7h0.6v0.6h-0.6zM60 106h0.6v0.6h-0.6zM61.5 99.5h0.6v0.6h-0.6zM55 101.1h0.6v0.6h-0.6zM60.3 82.3h0.6v0.6h-0.6zM65.8 103.9h0.6v0.6h-0.6zM65.2 93.5h0.6v0.6h-0.6zM61 108.5h0.6v0.6h-0.6zM63.3 98.8h0.6v0.6h-0.6zM55.9 96.2h0.6v0.6h-0.6zM55.2 86.4h0.6v0.6h-0.6zM60.5 92h0.6v0.6h-0.6zM58.7 97.2h0.6v0.6h-0.6zM62.6 107h0.6v0.6h-0.6zM57.3 105.3h0.6v0.6h-0.6zM57.3 95.5h0.6v0.6h-0.6zM63.1 91h0.6v0.6h-0.6zM59.9 89.8h0.6v0.6h-0.6zM57.2 108h0.6v0.6h-0.6zM56.6 98.9h0.6v0.6h-0.6zM58 90.5h0.6v0.6h-0.6zM53.7 106.1h0.6v0.6h-0.6zM64.8 102.3h0.6v0.6h-0.6zM56.1 101.9h0.6v0.6h-0.6zM57.1 102.7h0.6v0.6h-0.6zM59.4 99.9h0.6v0.6h-0.6zM61.4 94.8h0.6v0.6h-0.6zM60.1 87.3h0.6v0.6h-0.6zM59.6 89.1h0.6v0.6h-0.6zM59.8 92.1h0.6v0.6h-0.6zM58.7 100.8h0.6v0.6h-0.6zM56.2 92.2h0.6v0.6h-0.6zM55.5 102h0.6v0.6h-0.6zM62.6 104.2h0.6v0.6h-0.6zM56.2 106.7h0.6v0.6h-0.6zM52.9 106.2h0.6v0.6h-0.6zM60.8 80.8h0.6v0.6h-0.6zM64.2 109.1h0.6v0.6h-0.6zM56 98.4h0.6v0.6h-0.6zM58.3 98.5h0.6v0.6h-0.6zM55.8 93h0.6v0.6h-0.6zM60 99.6h0.6v0.6h-0.6zM62.2 99.2h0.6v0.6h-0.6zM66.4 95h0.6v0.6h-0.6zM62.2 86.5h0.6v0.6h-0.6zM53.9 105.3h0.6v0.6h-0.6zM55.7 100.7h0.6v0.6h-0.6zM60.2 91.6h0.6v0.6h-0.6zM58.7 94.7h0.6v0.6h-0.6zM56.7 102.3h0.6v0.6h-0.6zM61.5 94.9h0.6v0.6h-0.6zM56.2 99.2h0.6v0.6h-0.6zM57.4 104.2h0.6v0.6h-0.6zM65.2 104.7h0.6v0.6h-0.6zM59.1 96.9h0.6v0.6h-0.6zM57.8 92h0.6v0.6h-0.6zM56.8 95h0.6v0.6h-0.6zM56.9 102.3h0.6v0.6h-0.6zM58.2 96.6h0.6v0.6h-0.6zM53.5 107.3h0.6v0.6h-0.6zM58.1 109.1h0.6v0.6h-0.6zM59.3 107.5h0.6v0.6h-0.6zM57.4 102.2h0.6v0.6h-0.6zM68 92.2h0.6v0.6h-0.6zM60 109h0.6v0.6h-0.6zM59.2 102.9h0.6v0.6h-0.6zM63.4 94.7h0.6v0.6h-0.6zM61.3 92.9h0.6v0.6h-0.6zM57.9 93.8h0.6v0.6h-0.6zM58.4 98.8h0.6v0.6h-0.6zM62.1 89.5h0.6v0.6h-0.6zM63 106.4h0.6v0.6h-0.6zM61.5 96.2h0.6v0.6h-0.6zM58 101.4h0.6v0.6h-0.6zM62.4 87.8h0.6v0.6h-0.6zM57.2 116.6h0.6v0.6h-0.6zM52.5 103.1h0.6v0.6h-0.6zM60.2 97.5h0.6v0.6h-0.6zM64.4 91.5h0.6v0.6h-0.6zM57.5 107.2h0.6v0.6h-0.6zM59 95.3h0.6v0.6h-0.6zM59.9 95.3h0.6v0.6h-0.6zM64.6 93.3h0.6v0.6h-0.6zM63.1 90.7h0.6v0.6h-0.6zM61 97.7h0.6v0.6h-0.6zM51.7 96.4h0.6v0.6h-0.6zM56.6 94.6h0.6v0.6h-0.6zM64.8 92h0.6v0.6h-0.6zM54.1 106.3h0.6v0.6h-0.6zM57.3 107.7h0.6v0.6h-0.6zM61.1 92.7h0.6v0.6h-0.6zM57.2 105.6h0.6v0.6h-0.6zM61.6 98.6h0.6v0.6h-0.6zM59.3 97.3h0.6v0.6h-0.6zM54.8 109.7h0.6v0.6h-0.6zM60.5 91h0.6v0.6h-0.6zM56.7 102.2h0.6v0.6h-0.6zM61 97.5h0.6v0.6h-0.6zM57.1 97.7h0.6v0.6h-0.6zM56 88.9h0.6v0.6h-0.6zM61.9 95.5h0.6v0.6h-0.6zM58.4 105.8h0.6v0.6h-0.6zM60.8 98.5h0.6v0.6h-0.6zM64.1 103.4h0.6v0.6h-0.6zM57 102.4h0.6v0.6h-0.6zM61.3 92.9h0.6v0.6h-0.6zM59.4 97h0.6v0.6h-0.6zM53.7 95.7h0.6v0.6h-0.6zM58.8 95.1h0.6v0.6h-0.6zM54.8 94.8h0.6v0.6h-0.6zM58.8 98.6h0.6v0.6h-0.6zM55 101.3h0.6v0.6h-0.6zM55.9 95.9h0.6v0.6h-0.6zM63.6 94.5h0.6v0.6h-0.6zM56.1 104.4h0.6v0.6h-0.6zM58.3 95.9h0.6v0.6h-0.6zM58.2 104.7h0.6v0.6h-0.6zM53.9 91.5h0.6v0.6h-0.6zM57.6 90.6h0.6v0.6h-0.6zM57.7 92.3h0.6v0.6h-0.6zM61 92.6h0.6v0.6h-0.6zM58.8 100.6h0.6v0.6h-0.6zM56.8 98.4h0.6v0.6h-0.6zM63.2 101h0.6v0.6h-0.6zM57.3 97.2h0.6v0.6h-0.6zM56.1 99.1h0.6v0.6h-0.6zM62.5 93.4h0.6v0.6h-0.6zM56.9 104.8h0.6v0.6h-0.6zM57.4 98.9h0.6v0.6h-0.6zM57.2 92.3h0.6v0.6h-0.6zM54.8 110.9h0.6v0.6h-0.6zM58.6 94.5h0.6v0.6h-0.6zM57.7 96.7h0.6v0.6h-0.6zM60.6 99.5h0.6v0.6h-0.6zM64.4 100.5h0.6v0.6h-0.6zM62.6 100.5h0.6v0.6h-0.6zM62.5 89.6h0.6v0.6h-0.6zM58.7 97.5h0.6v0.6h-0.6zM61.1 84.8h0.6v0.6h-0.6zM61.9 96.2h0.6v0.6h-0.6zM58.1 96.2h0.6v0.6h-0.6zM57.9 100.3h0.6v0.6h-0.6zM56.7 91.6h0.6v0.6h-0.6zM59.6 99.1h0.6v0.6h-0.6zM58.7 94.3h0.6v0.6h-0.6zM56.8 97.2h0.6v0.6h-0.6zM63.6 92.3h0.6v0.6h-0.6zM62.1 104h0.6v0.6h-0.6zM56.7 102.5h0.6v0.6h-0.6zM57.2 86.6h0.6v0.6h-0.6zM56 94.8h0.6v0.6h-0.6zM58.8 94.7h0.6v0.6h-0.6zM62 85.1h0.6v0.6h-0.6zM62.2 89.7h0.6v0.6h-0.6zM57.7 95.1h0.6v0.6h-0.6zM57.6 89h0.6v0.6h-0.6zM56.3 97.3h0.6v0.6h-0.6zM59.9 101.8h0.6v0.6h-0.6zM57.3 92.6h0.6v0.6h-0.6zM55.9 100.2h0.6v0.6h-0.6zM51.8 104.3h0.6v0.6h-0.6zM58.7 93h0.6v0.6h-0.6zM58.6 104.5h0.6v0.6h-0.6zM58.6 104.6h0.6v0.6h-0.6zM57.8 105.5h0.6v0.6h-0.6zM62.5 98.1h0.6v0.6h-0.6zM62.7 99.8h0.6v0.6h-0.6zM60.4 92.5h0.6v0.6h-0.6zM57.2 102.5h0.6v0.6h-0.6zM54.6 101.2h0.6v0.6h-0.6zM59.6 99.9h0.6v0.6h-0.6zM53.1 96.1h0.6v0.6h-0.6zM61.8 93.8h0.6v0.6h-0.6zM62.3 83.6h0.6v0.6h-0.6zM61.7 94.4h0.6v0.6h-0.6zM63.8 87.3h0.6v0.6h-0.6zM61.2 97h0.6v0.6h-0.6zM62.4 92.9h0.6v0.6h-0.6zM54.4 111.2h0.6v0.6h-0.6zM57.6 93.2h0.6v0.6h-0.6zM59.6 91.6h0.6v0.6h-0.6zM60 109.2h0.6v0.6h-0.6zM59.3 87.1h0.6v0.6h-0.6zM60.8 105.4h0.6v0.6h-0.6zM59.8 105.5h0.6v0.6h-0.6zM56.8 96.5h0.6v0.6h-0.6zM57 88.6h0.6v0.6h-0.6zM62.6 94.5h0.6v0.6h-0.6zM65.1 99.8h0.6v0.6h-0.6zM56.2 102.5h0.6v0.6h-0.6zM63.3 102h0.6v0.6h-0.6zM55.2 99.5h0.6v0.6h-0.6zM63.4 95.8h0.6v0.6h-0.6zM55.6 103.7h0.6v0.6h-0.6zM60.8 91.4h0.6v0.6h-0.6zM58.9 93.2h0.6v0.6h-0.6zM59.7 98.8h0.6v0.6h-0.6zM61.2 103h0.6v0.6h-0.6zM54.2 99.6h0.6v0.6h-0.6zM60.9 101.3h0.6v0.6h-0.6zM62.5 95.3h0.6v0.6h-0.6zM55.2 103.1h0.6v0.6h-0.6zM58.9 84.3h0.6v0.6h-0.6zM62.7 94.2h0.6v0.6h-0.6zM60 89.3h0.6v0.6h-0.6zM56.9 90.2h0.6v0.6h-0.6zM57.5 100h0.6v0.6h-0.6zM51.7 101.2h0.6v0.6h-0.6zM57.1 90.8h0.6v0.6h-0.6zM61 97.9h0.6v0.6h-0.6zM52.4 108.3h0.6v0.6h-0.6zM56.3 99h0.6v0.6h-0.6zM57.7 106.7h0.6v0.6h-0.6zM56.5 103.8h0.6v0.6h-0.6zM55.5 104.4h0.6v0.6h-0.6zM57.4 95.4h0.6v0.6h-0.6zM63.8 101h0.6v0.6h-0.6zM56.4 111.7h0.6v0.6h-0.6zM61 93.3h0.6v0.6h-0.6zM62.5 91.3h0.6v0.6h-0.6zM60.5 106h0.6v0.6h-0.6zM58.2 93.9h0.6v0.6h-0.6zM59.5 98.2h0.6v0.6h-0.6zM55.6 100.9h0.6v0.6h-0.6zM54 94.2h0.6v0.6h-0.6zM58.2 96.1h0.6v0.6h-0.6zM61.4 90.7h0.6v0.6h-0.6zM60.8 97.3h0.6v0.6h-0.6zM59 89.3h0.6v0.6h-0.6zM55.3 99.5h0.6v0.6h-0.6zM56.3 97.8h0.6v0.6h-0.6zM60.6 104.9h0.6v0.6h-0.6zM63.7 97.1h0.6v0.6h-0.6zM54.7 103.6h0.6v0.6h-0.6zM58.4 105h0.6v0.6h-0.6zM57.5 105.3h0.6v0.6h-0.6zM60.4 102.8h0.6v0.6h-0.6zM59.9 100.7h0.6v0.6h-0.6zM59.3 99.5h0.6v0.6h-0.6zM62.4 95.5h0.6v0.6h-0.6zM63.9 98.4h0.6v0.6h-0.6zM61.8 98h0.6v0.6h-0.6zM55.7 110.2h0.6v0.6h-0.6zM59.8 90.1h0.6v0.6h-0.6zM57.5 95.7h0.6v0.6h-0.6zM64.6 100.5h0.6v0.6h-0.6zM62.9 92.5h0.6v0.6h-0.6zM59.1 102.3h0.6v0.6h-0.6zM64.8 94.8h0.6v0.6h-0.6zM60.3 100.2h0.6v0.6h-0.6zM56.2 97.3h0.6v0.6h-0.6zM61.3 83.7h0.6v0.6h-0.6zM59.9 101.6h0.6v0.6h-0.6zM59.5 89.6h0.6v0.6h-0.6zM62.7 100.5h0.6v0.6h-0.6zM60 107.1h0.6v0.6h-0.6zM56.5 102.6h0.6v0.6h-0.6zM58.4 97.5h0.6v0.6h-0.6zM58.8 97.9h0.6v0.6h-0.6zM61.9 99.4h0.6v0.6h-0.6zM58.9 96.2h0.6v0.6h-0.6zM61.1 92.8h0.6v0.6h-0.6zM57.7 97.4h0.6v0.6h-0.6zM57.6 97h0.6v0.6h-0.6zM54.7 109.8h0.6v0.6h-0.6zM62.1 101.5h0.6v0.6h-0.6zM56 111.3h0.6v0.6h-0.6zM60 97.7h0.6v0.6h-0.6zM59.4 100h0.6v0.6h-0.6zM62.9 98.7h0.6v0.6h-0.6zM65.9 93.9h0.6v0.6h-0.6zM62.2 92.3h0.6v0.6h-0.6zM64.4 97.1h0.6v0.6h-0.6zM57.6 103.6h0.6v0.6h-0.6zM63.9 92h0.6v0.6h-0.6zM59.9 89.3h0.6v0.6h-0.6zM59.5 97.5h0.6v0.6h-0.6zM58.9 93.6h0.6v0.6h-0.6zM58.9 93.2h0.6v0.6h-0.6zM58.5 107.5h0.6v0.6h-0.6zM53.9 96.2h0.6v0.6h-0.6zM57.2 100.7h0.6v0.6h-0.6zM56.6 96.6h0.6v0.6h-0.6zM55.3 101.6h0.6v0.6h-0.6zM59.5 97.1h0.6v0.6h-0.6zM60.3 96.7h0.6v0.6h-0.6zM54 100.7h0.6v0.6h-0.6zM60 97.2h0.6v0.6h-0.6zM60.1 106h0.6v0.6h-0.6zM57 92.6h0.6v0.6h-0.6zM61.4 107.5h0.6v0.6h-0.6zM58.5 90.4h0.6v0.6h-0.6zM57.9 94.6h0.6v0.6h-0.6zM54.6 97.3h0.6v0.6h-0.6zM57.1 89.9h0.6v0.6h-0.6zM62.4 94.4h0.6v0.6h-0.6zM58 101.8h0.6v0.6h-0.6zM61.7 96.4h0.6v0.6h-0.6zM60.2 93h0.6v0.6h-0.6zM62.9 103h0.6v0.6h-0.6zM56 97.4h0.6v0.6h-0.6zM60.3 101.3h0.6v0.6h-0.6zM62.2 107.4h0.6v0.6h-0.6zM57.6 97.1h0.6v0.6h-0.6zM55.2 98.8h0.6v0.6h-0.6zM55.9 114.5h0.6v0.6h-0.6zM62 85.4h0.6v0.6h-0.6zM57 98.3h0.6v0.6h-0.6zM56.7 92h0.6v0.6h-0.6zM57.6 99.9h0.6v0.6h-0.6zM59.7 92.5h0.6v0.6h-0.6zM61.9 95.2h0.6v0.6h-0.6zM59.4 89.3h0.6v0.6h-0.6zM56 101.5h0.6v0.6h-0.6zM54.7 96.6h0.6v0.6h-0.6zM61.5 96.1h0.6v0.6h-0.6zM61.1 91.4h0.6v0.6h-0.6zM61.2 105.4h0.6v0.6h-0.6zM61.9 87.5h0.6v0.6h-0.6zM54.9 103.3h0.6v0.6h-0.6zM63.3 100.8h0.6v0.6h-0.6zM63.2 95h0.6v0.6h-0.6zM58.5 97.9h0.6v0.6h-0.6zM62.1 89h0.6v0.6h-0.6zM59.9 106.6h0.6v0.6h-0.6zM57.6 89.1h0.6v0.6h-0.6zM60.8 94.2h0.6v0.6h-0.6zM51.5 101.5h0.6v0.6h-0.6zM60 95.2h0.6v0.6h-0.6zM64.6 100.1h0.6v0.6h-0.6zM56.8 98.2h0.6v0.6h-0.6zM57.1 92.8h0.6v0.6h-0.6zM60.8 94.9h0.6v0.6h-0.6zM55.6 107.9h0.6v0.6h-0.6zM60.3 103.4h0.6v0.6h-0.6zM59.8 101.2h0.6v0.6h-0.6zM63 98.7h0.6v0.6h-0.6zM65.3 93.3h0.6v0.6h-0.6zM60.1 89.5h0.6v0.6h-0.6zM57.4 100.9h0.6v0.6h-0.6zM63.8 94.8h0.6v0.6h-0.6zM59.5 95.8h0.6v0.6h-0.6zM58.5 90.4h0.6v0.6h-0.6zM61.4 87.5h0.6v0.6h-0.6zM59.3 98.2h0.6v0.6h-0.6zM58.5 91.5h0.6v0.6h-0.6zM52.8 108.5h0.6v0.6h-0.6zM53.3 106.7h0.6v0.6h-0.6zM61.1 96.1h0.6v0.6h-0.6zM54.5 103.6h0.6v0.6h-0.6zM64.9 93.3h0.6v0.6h-0.6zM56.8 104.2h0.6v0.6h-0.6zM57.3 110.3h0.6v0.6h-0.6zM56.7 101h0.6v0.6h-0.6zM52.9 110h0.6v0.6h-0.6zM59.8 84.2h0.6v0.6h-0.6zM58.8 97.1h0.6v0.6h-0.6zM64.7 97.1h0.6v0.6h-0.6zM58.2 101.6h0.6v0.6h-0.6zM63.4 98.5h0.6v0.6h-0.6zM61.2 101.7h0.6v0.6h-0.6zM58.1 98.3h0.6v0.6h-0.6zM60.3 92.5h0.6v0.6h-0.6zM64.1 90.3h0.6v0.6h-0.6zM61 104.5h0.6v0.6h-0.6zM59.7 93.3h0.6v0.6h-0.6zM57.8 100.7h0.6v0.6h-0.6zM60.7 100.2h0.6v0.6h-0.6zM62.4 95.2h0.6v0.6h-0.6zM61.7 88.6h0.6v0.6h-0.6zM60.9 99.4h0.6v0.6h-0.6zM56.4 104.8h0.6v0.6h-0.6zM64.5 81.3h0.6v0.6h-0.6zM61 89.2h0.6v0.6h-0.6zM58.7 113.7h0.6v0.6h-0.6zM57.5 98.2h0.6v0.6h-0.6zM57.9 100h0.6v0.6h-0.6zM59.1 106.2h0.6v0.6h-0.6zM54.3 107h0.6v0.6h-0.6zM56.1 99.1h0.6v0.6h-0.6zM61.3 103h0.6v0.6h-0.6zM57.3 93.2h0.6v0.6h-0.6zM57.8 97.4h0.6v0.6h-0.6zM63.8 90.8h0.6v0.6h-0.6zM59.5 102h0.6v0.6h-0.6zM59.9 101.2h0.6v0.6h-0.6zM62.5 101.8h0.6v0.6h-0.6zM60.6 101.9h0.6v0.6h-0.6zM66.4 87.5h0.6v0.6h-0.6zM62.8 97.2h0.6v0.6h-0.6zM59.5 92h0.6v0.6h-0.6zM54.4 94.6h0.6v0.6h-0.6zM56.5 100.6h0.6v0.6h-0.6zM53.1 105.8h0.6v0.6h-0.6zM60.1 96.7h0.6v0.6h-0.6zM58.1 92.8h0.6v0.6h-0.6zM56.6 94h0.6v0.6h-0.6zM59.2 96.9h0.6v0.6h-0.6zM55.5 95.6h0.6v0.6h-0.6zM56.3 98.4h0.6v0.6h-0.6zM63.3 102.9h0.6v0.6h-0.6zM60.2 88h0.6v0.6h-0.6zM57.3 86.9h0.6v0.6h-0.6zM62 93.8h0.6v0.6h-0.6zM60 94.3h0.6v0.6h-0.6zM57.4 106.6h0.6v0.6h-0.6zM57.6 95.5h0.6v0.6h-0.6zM55.7 102.8h0.6v0.6h-0.6zM57.7 90.5h0.6v0.6h-0.6zM57 88.7h0.6v0.6h-0.6zM57 113.9h0.6v0.6h-0.6zM55 103.2h0.6v0.6h-0.6zM61.1 91.5h0.6v0.6h-0.6zM58.5 96.4h0.6v0.6h-0.6zM54.6 109.3h0.6v0.6h-0.6zM53.3 99.2h0.6v0.6h-0.6zM60.7 94.7h0.6v0.6h-0.6zM58.3 103.4h0.6v0.6h-0.6zM58.9 100.6h0.6v0.6h-0.6zM63.5 86.1h0.6v0.6h-0.6zM60.1 112.7h0.6v0.6h-0.6zM60.4 104.7h0.6v0.6h-0.6zM55.3 96.5h0.6v0.6h-0.6zM57.5 94h0.6v0.6h-0.6zM62.7 93.7h0.6v0.6h-0.6zM61.1 86.3h0.6v0.6h-0.6zM58.5 98.5h0.6v0.6h-0.6zM58 93.2h0.6v0.6h-0.6zM65.7 91.8h0.6v0.6h-0.6zM57.2 92.5h0.6v0.6h-0.6zM59.6 111.4h0.6v0.6h-0.6zM60.8 93.8h0.6v0.6h-0.6zM56.5 104.2h0.6v0.6h-0.6zM54.6 106.3h0.6v0.6h-0.6zM62.8 99.3h0.6v0.6h-0.6zM59.8 102.9h0.6v0.6h-0.6zM64.6 92.5h0.6v0.6h-0.6zM62.7 96.4h0.6v0.6h-0.6zM56.8 98.2h0.6v0.6h-0.6zM59.7 91.9h0.6v0.6h-0.6zM55.8 91.4h0.6v0.6h-0.6zM60.4 110.7h0.6v0.6h-0.6zM59.3 105.6h0.6v0.6h-0.6zM57.7 97.2h0.6v0.6h-0.6zM61.2 91.6h0.6v0.6h-0.6zM56.2 98h0.6v0.6h-0.6zM59.5 91.4h0.6v0.6h-0.6zM60.4 96.6h0.6v0.6h-0.6zM61.8 98.6h0.6v0.6h-0.6zM58 98.6h0.6v0.6h-0.6zM59.4 93.8h0.6v0.6h-0.6zM56.9 102.3h0.6v0.6h-0.6zM59.1 106.2h0.6v0.6h-0.6zM54.9 94.6h0.6v0.6h-0.6zM57.6 98.8h0.6v0.6h-0.6zM58.4 94.6h0.6v0.6h-0.6zM60.9 99.5h0.6v0.6h-0.6zM54.1 105.4h0.6v0.6h-0.6zM62.5 95.1h0.6v0.6h-0.6zM62.2 94h0.6v0.6h-0.6z" fill="#000" fill-opacity="0.55"/>
<path d="M82.4 90.9h0.6v0.6h-0.6zM76.6 90.1h0.6v0.6h-0.6zM76.7 93h0.6v0.6h-0.6zM79.5 92.2h0.6v0.6h-0.6zM77.3 73.7h0.6v0.6h-0.6zM79.3 82.5h0.6v0.6h-0.6zM79.7 97.7h0.6v0.6h-0.6zM79.8 90.1h0.6v0.6h-0.6zM78.5 91.3h0.6v0.6h-0.6zM77.4 89.1h0.6v0.6h-0.6zM76.2 97.9h0.6v0.6h-0.6zM79 96.8h0.6v0.6h-0.6zM78.2 92.4h0.6v0.6h-0.6zM78.5 94.3h0.6v0.6h-0.6zM81.5 93.2h0.6v0.6h-0.6z" fill="#000" fill-opacity="0.2"/>
<ellipse cx="58.5" cy="98" rx="4.5" ry="12" transform="rotate(12 58.5 98)" fill="#000" fill-opacity="0.5" filter="url(#b3)"/>
<ellipse cx="56.5" cy="102" rx="2.5" ry="8" transform="rotate(12 56.5 102)" fill="#000" fill-opacity="0.6" filter="url(#b2)"/>
<ellipse cx="55.3" cy="112" rx="3" ry="6" transform="rotate(10 55.3 112)" fill="#000" fill-opacity="1" filter="url(#b2)"/>
<path d="M38 70.5H98V120.7" fill="none" stroke="#222" stroke-width="0.9"/>
<path d="M38 70.5V120.7H98" fill="none" stroke="#000" stroke-width="1.4"/>
<text x="39.4" y="76.6" font-size="4.7" font-weight="normal" fill="#8c8c8c" text-anchor="start" >4.86%</text>
<text x="71.3" y="116.7" font-size="4.7" font-weight="normal" fill="#8c8c8c" text-anchor="start" >0.38%</text>
<line x1="36.4" y1="76.3" x2="38" y2="76.3" stroke="#000" stroke-width="0.9"/>
<text x="35.6" y="77.9" font-size="4.7" font-weight="normal" fill="#000" stroke="#000" stroke-width="0.18" text-anchor="end">10<tspan font-size="2.9" dy="-1.7">5</tspan></text>
<line x1="36.4" y1="87.8" x2="38" y2="87.8" stroke="#000" stroke-width="0.9"/>
<text x="35.6" y="89.4" font-size="4.7" font-weight="normal" fill="#000" stroke="#000" stroke-width="0.18" text-anchor="end">10<tspan font-size="2.9" dy="-1.7">4</tspan></text>
<line x1="36.4" y1="99.1" x2="38" y2="99.1" stroke="#000" stroke-width="0.9"/>
<text x="35.6" y="100.7" font-size="4.7" font-weight="normal" fill="#000" stroke="#000" stroke-width="0.18" text-anchor="end">10<tspan font-size="2.9" dy="-1.7">3</tspan></text>
<line x1="36.4" y1="110.9" x2="38" y2="110.9" stroke="#000" stroke-width="0.9"/>
<text x="35.6" y="112.5" font-size="4.7" font-weight="normal" fill="#000" stroke="#000" stroke-width="0.18" text-anchor="end">10<tspan font-size="2.9" dy="-1.7">2</tspan></text>
<line x1="36.4" y1="118.7" x2="38" y2="118.7" stroke="#000" stroke-width="0.9"/>
<text x="35.6" y="120.3" font-size="4.7" font-weight="normal" fill="#000" stroke="#000" stroke-width="0.18" text-anchor="end">-10<tspan font-size="2.9" dy="-1.7">2</tspan></text>
<line x1="48.2" y1="120.7" x2="48.2" y2="122.3" stroke="#000" stroke-width="0.9"/>
<text x="48.2" y="128.3" font-size="4.7" font-weight="normal" fill="#000" stroke="#000" stroke-width="0.18" text-anchor="middle">-10<tspan font-size="2.9" dy="-1.7">2</tspan></text>
<line x1="60.2" y1="120.7" x2="60.2" y2="122.3" stroke="#000" stroke-width="0.9"/>
<text x="60.2" y="128.3" font-size="4.7" font-weight="normal" fill="#000" stroke="#000" stroke-width="0.18" text-anchor="middle">10<tspan font-size="2.9" dy="-1.7">2</tspan></text>
<line x1="78.2" y1="120.7" x2="78.2" y2="122.3" stroke="#000" stroke-width="0.9"/>
<text x="78.2" y="128.3" font-size="4.7" font-weight="normal" fill="#000" stroke="#000" stroke-width="0.18" text-anchor="middle">10<tspan font-size="2.9" dy="-1.7">4</tspan></text>
<line x1="92.6" y1="120.7" x2="92.6" y2="122.3" stroke="#000" stroke-width="0.9"/>
<text x="92.6" y="128.3" font-size="4.7" font-weight="normal" fill="#000" stroke="#000" stroke-width="0.18" text-anchor="middle">10<tspan font-size="2.9" dy="-1.7">5</tspan></text>
<rect x="123.6" y="70.6" width="34.1" height="31" fill="none" stroke="#a6a6a6" stroke-width="0.9"/>
<rect x="140.6" y="79.4" width="16.7" height="31.3" fill="none" stroke="#a6a6a6" stroke-width="0.9"/>
<path d="M128.4 79.7h0.6v0.6h-0.6zM134.9 81.5h0.6v0.6h-0.6zM129.5 87.8h0.6v0.6h-0.6zM133.3 84.4h0.6v0.6h-0.6zM129.2 91h0.6v0.6h-0.6zM131.4 84.5h0.6v0.6h-0.6zM129.8 77.4h0.6v0.6h-0.6zM126.6 84h0.6v0.6h-0.6zM131.4 81.6h0.6v0.6h-0.6zM127 77.3h0.6v0.6h-0.6zM129.4 77.3h0.6v0.6h-0.6zM132.8 86.6h0.6v0.6h-0.6zM138.2 85.7h0.6v0.6h-0.6zM128.6 79.4h0.6v0.6h-0.6zM120.6 80.4h0.6v0.6h-0.6zM129.8 86h0.6v0.6h-0.6zM132 84.6h0.6v0.6h-0.6zM130.9 84.9h0.6v0.6h-0.6zM134.4 78.7h0.6v0.6h-0.6zM129 77.5h0.6v0.6h-0.6zM134.8 87.2h0.6v0.6h-0.6zM132.4 78.2h0.6v0.6h-0.6zM130.8 81.7h0.6v0.6h-0.6zM130.5 81.8h0.6v0.6h-0.6zM131.8 81.1h0.6v0.6h-0.6zM132.7 83.4h0.6v0.6h-0.6zM129.5 82.1h0.6v0.6h-0.6zM129.1 85.4h0.6v0.6h-0.6zM129.5 83.6h0.6v0.6h-0.6zM129.2 77.2h0.6v0.6h-0.6zM132.8 78.7h0.6v0.6h-0.6zM132.2 84h0.6v0.6h-0.6zM125.7 79.1h0.6v0.6h-0.6zM128.9 79.5h0.6v0.6h-0.6zM127 85.2h0.6v0.6h-0.6zM129.6 83.9h0.6v0.6h-0.6zM129.1 83.6h0.6v0.6h-0.6zM128.2 82.4h0.6v0.6h-0.6zM131.9 82.7h0.6v0.6h-0.6zM129 78.6h0.6v0.6h-0.6zM130.8 83.7h0.6v0.6h-0.6zM129.6 79.7h0.6v0.6h-0.6zM131.8 91.4h0.6v0.6h-0.6zM129.5 83.7h0.6v0.6h-0.6zM131.4 73.3h0.6v0.6h-0.6zM130.6 80h0.6v0.6h-0.6zM134.2 81.6h0.6v0.6h-0.6zM128.1 81.7h0.6v0.6h-0.6zM130.8 80.5h0.6v0.6h-0.6zM130.2 77.6h0.6v0.6h-0.6zM129.7 85.3h0.6v0.6h-0.6zM135.8 85h0.6v0.6h-0.6zM131.1 86.8h0.6v0.6h-0.6zM133.2 88.5h0.6v0.6h-0.6zM133.3 82.1h0.6v0.6h-0.6zM131 83.1h0.6v0.6h-0.6zM131.1 83.2h0.6v0.6h-0.6zM128.1 74.9h0.6v0.6h-0.6zM128.4 75.2h0.6v0.6h-0.6zM130.5 82.5h0.6v0.6h-0.6zM125.6 85h0.6v0.6h-0.6zM132.7 82.8h0.6v0.6h-0.6zM135 89.2h0.6v0.6h-0.6zM126.9 86.2h0.6v0.6h-0.6zM131.5 84h0.6v0.6h-0.6zM132.9 79.9h0.6v0.6h-0.6zM128.6 79.5h0.6v0.6h-0.6zM128.2 82.1h0.6v0.6h-0.6zM126.2 78.7h0.6v0.6h-0.6zM131.9 82.2h0.6v0.6h-0.6zM131.4 75.7h0.6v0.6h-0.6zM128.1 80.5h0.6v0.6h-0.6zM130.4 80.4h0.6v0.6h-0.6zM132.9 82.3h0.6v0.6h-0.6zM130.3 82.5h0.6v0.6h-0.6zM132.3 80.8h0.6v0.6h-0.6zM133.4 84.2h0.6v0.6h-0.6zM130.7 82.7h0.6v0.6h-0.6zM131.8 86.2h0.6v0.6h-0.6zM132.9 83.9h0.6v0.6h-0.6zM132.8 82.9h0.6v0.6h-0.6zM133.8 82.4h0.6v0.6h-0.6zM124.5 87.3h0.6v0.6h-0.6zM130.6 78.3h0.6v0.6h-0.6zM129.7 79.3h0.6v0.6h-0.6zM136.2 84.3h0.6v0.6h-0.6zM125.9 84.5h0.6v0.6h-0.6zM129.2 89.4h0.6v0.6h-0.6zM127.4 74.4h0.6v0.6h-0.6zM130.5 81.2h0.6v0.6h-0.6zM129.1 74.8h0.6v0.6h-0.6zM131.5 88.5h0.6v0.6h-0.6zM125 86.7h0.6v0.6h-0.6zM128.7 91h0.6v0.6h-0.6zM131.5 81.8h0.6v0.6h-0.6zM133.4 84.4h0.6v0.6h-0.6zM128.6 85.1h0.6v0.6h-0.6zM128.9 76.1h0.6v0.6h-0.6zM136 81.2h0.6v0.6h-0.6zM128.6 83.7h0.6v0.6h-0.6zM125.9 77.6h0.6v0.6h-0.6zM128.9 80.6h0.6v0.6h-0.6zM130.5 86.5h0.6v0.6h-0.6zM129 84.3h0.6v0.6h-0.6zM132 78.6h0.6v0.6h-0.6zM130.9 79.1h0.6v0.6h-0.6zM133.3 84.1h0.6v0.6h-0.6zM130.3 77.7h0.6v0.6h-0.6zM130.6 79.7h0.6v0.6h-0.6zM132.3 82.1h0.6v0.6h-0.6zM128 85.8h0.6v0.6h-0.6zM132.3 80.4h0.6v0.6h-0.6zM133.6 81.4h0.6v0.6h-0.6zM129.4 82.9h0.6v0.6h-0.6zM128.2 80.9h0.6v0.6h-0.6zM129.9 88h0.6v0.6h-0.6zM134.5 81.6h0.6v0.6h-0.6zM134.8 82.3h0.6v0.6h-0.6zM131.4 85.7h0.6v0.6h-0.6zM131.1 91.2h0.6v0.6h-0.6zM131 78.2h0.6v0.6h-0.6zM134 81h0.6v0.6h-0.6zM129.4 71.7h0.6v0.6h-0.6zM133.1 85.4h0.6v0.6h-0.6zM132.5 86h0.6v0.6h-0.6zM135 82.3h0.6v0.6h-0.6zM132.9 79.8h0.6v0.6h-0.6zM129.3 86.3h0.6v0.6h-0.6zM131.4 77.7h0.6v0.6h-0.6zM131.3 81.8h0.6v0.6h-0.6zM128 84.1h0.6v0.6h-0.6zM129.2 76.8h0.6v0.6h-0.6zM127.2 88.9h0.6v0.6h-0.6zM126.1 83.3h0.6v0.6h-0.6zM132 84.8h0.6v0.6h-0.6zM126.9 81.3h0.6v0.6h-0.6zM130.7 85.4h0.6v0.6h-0.6zM128.5 78.3h0.6v0.6h-0.6zM133.1 86.5h0.6v0.6h-0.6zM131.3 80.3h0.6v0.6h-0.6zM131.4 82.9h0.6v0.6h-0.6zM132.6 78h0.6v0.6h-0.6zM130.6 81.9h0.6v0.6h-0.6zM127.2 83.3h0.6v0.6h-0.6zM130.4 81h0.6v0.6h-0.6zM131.4 77.4h0.6v0.6h-0.6zM130.1 84.1h0.6v0.6h-0.6zM131.1 86.4h0.6v0.6h-0.6zM126.9 77.1h0.6v0.6h-0.6zM131 84.1h0.6v0.6h-0.6z" fill="#000" fill-opacity="0.35"/>
<path d="M152.8 91.2h0.6v0.6h-0.6zM147.4 91.8h0.6v0.6h-0.6zM147.5 83.8h0.6v0.6h-0.6zM153.7 90.1h0.6v0.6h-0.6zM150.3 91h0.6v0.6h-0.6zM152.3 90h0.6v0.6h-0.6zM151.2 85.4h0.6v0.6h-0.6zM146.5 94h0.6v0.6h-0.6zM151.7 90.8h0.6v0.6h-0.6zM149.4 89.6h0.6v0.6h-0.6zM147.8 94.4h0.6v0.6h-0.6zM150.2 90.8h0.6v0.6h-0.6zM149.7 92.7h0.6v0.6h-0.6zM149.9 91.6h0.6v0.6h-0.6zM146.9 90.8h0.6v0.6h-0.6zM152.9 87.2h0.6v0.6h-0.6zM148.8 92.1h0.6v0.6h-0.6zM150.7 91.2h0.6v0.6h-0.6zM146.1 90.8h0.6v0.6h-0.6zM146.9 86.1h0.6v0.6h-0.6zM150 88h0.6v0.6h-0.6zM150.5 100h0.6v0.6h-0.6zM150.4 91.5h0.6v0.6h-0.6zM147.4 86.7h0.6v0.6h-0.6zM147.1 87.1h0.6v0.6h-0.6zM147 86.7h0.6v0.6h-0.6zM148.6 85.5h0.6v0.6h-0.6zM146.4 84.2h0.6v0.6h-0.6zM149.8 89.2h0.6v0.6h-0.6zM150.8 92.7h0.6v0.6h-0.6zM148.4 91.3h0.6v0.6h-0.6zM146.4 97h0.6v0.6h-0.6zM151.2 88.2h0.6v0.6h-0.6zM146.9 90.3h0.6v0.6h-0.6zM145.6 86.3h0.6v0.6h-0.6zM150.3 89.3h0.6v0.6h-0.6zM148.1 92.3h0.6v0.6h-0.6zM147.1 90h0.6v0.6h-0.6zM148.1 86h0.6v0.6h-0.6zM149.8 85.5h0.6v0.6h-0.6zM152.4 87h0.6v0.6h-0.6zM152.6 85.2h0.6v0.6h-0.6zM150.1 84.8h0.6v0.6h-0.6zM146.6 89.6h0.6v0.6h-0.6zM150.2 84.5h0.6v0.6h-0.6zM151.1 86.2h0.6v0.6h-0.6zM149.2 90.3h0.6v0.6h-0.6zM150.1 82.7h0.6v0.6h-0.6zM151.9 91h0.6v0.6h-0.6zM148.2 85.4h0.6v0.6h-0.6zM146 84.2h0.6v0.6h-0.6zM150 87.8h0.6v0.6h-0.6zM147 87.2h0.6v0.6h-0.6zM151.8 87.8h0.6v0.6h-0.6zM147.9 93.7h0.6v0.6h-0.6zM149.8 89.2h0.6v0.6h-0.6zM147.9 83.6h0.6v0.6h-0.6zM146.9 87.3h0.6v0.6h-0.6zM148.6 90.2h0.6v0.6h-0.6zM150 89.8h0.6v0.6h-0.6z" fill="#000" fill-opacity="0.35"/>
<path d="M135.4 91.2h0.6v0.6h-0.6zM125.3 93.9h0.6v0.6h-0.6zM130.3 93.6h0.6v0.6h-0.6zM133.9 88.8h0.6v0.6h-0.6zM128.8 98.3h0.6v0.6h-0.6zM134.5 94.3h0.6v0.6h-0.6zM135.3 98.4h0.6v0.6h-0.6zM128.9 99.7h0.6v0.6h-0.6zM141.5 95.3h0.6v0.6h-0.6zM135.4 113h0.6v0.6h-0.6zM140.2 93.7h0.6v0.6h-0.6zM140.8 102.4h0.6v0.6h-0.6zM132.4 97.8h0.6v0.6h-0.6zM135.3 100.9h0.6v0.6h-0.6zM130.3 111.3h0.6v0.6h-0.6zM131.8 90.3h0.6v0.6h-0.6zM135 106.8h0.6v0.6h-0.6zM139 91.3h0.6v0.6h-0.6zM136.5 105h0.6v0.6h-0.6zM141.9 90.2h0.6v0.6h-0.6zM134.3 97.7h0.6v0.6h-0.6zM127.9 92.6h0.6v0.6h-0.6zM138.2 96.6h0.6v0.6h-0.6zM128.8 107.2h0.6v0.6h-0.6zM135.4 109.4h0.6v0.6h-0.6zM130 98.9h0.6v0.6h-0.6zM138.1 94.9h0.6v0.6h-0.6zM128.8 106.8h0.6v0.6h-0.6zM141 90.9h0.6v0.6h-0.6zM125 85.3h0.6v0.6h-0.6zM129.2 98.1h0.6v0.6h-0.6zM135.7 99.1h0.6v0.6h-0.6zM130 100.9h0.6v0.6h-0.6zM129.3 98.9h0.6v0.6h-0.6zM137.5 93.2h0.6v0.6h-0.6zM129.8 95.4h0.6v0.6h-0.6zM127.7 92.4h0.6v0.6h-0.6zM128.7 107.3h0.6v0.6h-0.6zM132.6 92.7h0.6v0.6h-0.6zM129.6 88.6h0.6v0.6h-0.6zM133.1 98h0.6v0.6h-0.6zM138.5 95.2h0.6v0.6h-0.6zM136.8 103h0.6v0.6h-0.6zM136.1 82.2h0.6v0.6h-0.6zM126.8 105.7h0.6v0.6h-0.6zM138.2 102.8h0.6v0.6h-0.6zM136.6 96.9h0.6v0.6h-0.6zM132.6 93.9h0.6v0.6h-0.6zM136.3 103.7h0.6v0.6h-0.6zM132.6 96.9h0.6v0.6h-0.6zM134.7 103.3h0.6v0.6h-0.6zM127 114.6h0.6v0.6h-0.6zM134 100.3h0.6v0.6h-0.6zM137.2 110.1h0.6v0.6h-0.6zM131.8 104.7h0.6v0.6h-0.6zM129.8 93.6h0.6v0.6h-0.6zM122.2 109.2h0.6v0.6h-0.6zM124.5 104.7h0.6v0.6h-0.6zM131.3 90.7h0.6v0.6h-0.6zM131.8 102.2h0.6v0.6h-0.6zM132.6 116.1h0.6v0.6h-0.6zM133 108.1h0.6v0.6h-0.6zM129.5 105.9h0.6v0.6h-0.6zM134.3 96h0.6v0.6h-0.6zM132.7 99.4h0.6v0.6h-0.6zM133.1 103.7h0.6v0.6h-0.6zM132.2 93.1h0.6v0.6h-0.6zM138.6 85.5h0.6v0.6h-0.6zM128.1 113.3h0.6v0.6h-0.6zM123.4 92h0.6v0.6h-0.6zM138.3 85.9h0.6v0.6h-0.6zM147.3 78.9h0.6v0.6h-0.6zM136.2 114.8h0.6v0.6h-0.6zM137 98.7h0.6v0.6h-0.6zM135.8 92.3h0.6v0.6h-0.6zM137.9 90.6h0.6v0.6h-0.6zM130.4 108.6h0.6v0.6h-0.6zM129.2 96h0.6v0.6h-0.6zM135.7 88.2h0.6v0.6h-0.6zM137.1 103.8h0.6v0.6h-0.6zM127.1 98.5h0.6v0.6h-0.6zM131 93.6h0.6v0.6h-0.6zM134.4 93.8h0.6v0.6h-0.6zM137.9 94.4h0.6v0.6h-0.6zM136.9 100.3h0.6v0.6h-0.6zM137.2 95.8h0.6v0.6h-0.6zM132.8 89.4h0.6v0.6h-0.6zM133.8 108.7h0.6v0.6h-0.6zM139.3 112.9h0.6v0.6h-0.6zM134.3 98.3h0.6v0.6h-0.6zM134.6 100h0.6v0.6h-0.6zM137.3 109.4h0.6v0.6h-0.6zM130.8 93.3h0.6v0.6h-0.6zM137.9 103.7h0.6v0.6h-0.6zM130.2 110.4h0.6v0.6h-0.6zM131.9 97.3h0.6v0.6h-0.6zM134.2 82.3h0.6v0.6h-0.6zM138.3 89.9h0.6v0.6h-0.6zM131.9 93h0.6v0.6h-0.6zM136 99.9h0.6v0.6h-0.6zM135.7 85.1h0.6v0.6h-0.6zM135 86.9h0.6v0.6h-0.6zM133.6 103.5h0.6v0.6h-0.6zM129.7 118.1h0.6v0.6h-0.6zM134.1 105.6h0.6v0.6h-0.6zM133.9 98.4h0.6v0.6h-0.6zM135.1 110.4h0.6v0.6h-0.6zM126.2 108.4h0.6v0.6h-0.6zM133.5 108.9h0.6v0.6h-0.6zM136.8 89.3h0.6v0.6h-0.6zM125.5 115.4h0.6v0.6h-0.6zM136.2 87.6h0.6v0.6h-0.6zM134.9 97h0.6v0.6h-0.6zM129.3 78.4h0.6v0.6h-0.6zM126.3 101.3h0.6v0.6h-0.6zM133.2 97.8h0.6v0.6h-0.6zM133.2 105.5h0.6v0.6h-0.6zM125.2 95.9h0.6v0.6h-0.6zM131.7 88.5h0.6v0.6h-0.6zM131 98.5h0.6v0.6h-0.6zM134.2 86.9h0.6v0.6h-0.6zM127.9 117.5h0.6v0.6h-0.6zM131.5 84.3h0.6v0.6h-0.6zM133.2 105.5h0.6v0.6h-0.6zM136.6 90.4h0.6v0.6h-0.6zM138.2 93.7h0.6v0.6h-0.6zM129.5 93.8h0.6v0.6h-0.6zM131.5 106.3h0.6v0.6h-0.6zM135.5 100.2h0.6v0.6h-0.6zM136.5 101.4h0.6v0.6h-0.6zM138.7 88.2h0.6v0.6h-0.6zM125.6 105.8h0.6v0.6h-0.6zM128 96.4h0.6v0.6h-0.6zM133.4 95.6h0.6v0.6h-0.6zM129 112h0.6v0.6h-0.6zM121.7 106.1h0.6v0.6h-0.6zM142 101.8h0.6v0.6h-0.6zM131.8 106.4h0.6v0.6h-0.6zM142.1 90.7h0.6v0.6h-0.6z" fill="#000" fill-opacity="0.25"/>
<ellipse cx="130.5" cy="82.5" rx="3.3" ry="4.3" transform="rotate(0 130.5 82.5)" fill="#000" fill-opacity="0.85" filter="url(#b2)"/>
<ellipse cx="149" cy="88.8" rx="1.7" ry="3.3" transform="rotate(0 149 88.8)" fill="#000" fill-opacity="0.85" filter="url(#b2)"/>
<ellipse cx="125.8" cy="112" rx="3.6" ry="5" transform="rotate(0 125.8 112)" fill="#000" fill-opacity="0.35" filter="url(#b3)"/>
<ellipse cx="125.8" cy="112" rx="2.6" ry="3.8" transform="rotate(0 125.8 112)" fill="#000" fill-opacity="1" filter="url(#b2)"/>
<path d="M108.7 69.6H168.3V120" fill="none" stroke="#222" stroke-width="0.9"/>
<path d="M108.7 69.6V120H168.3" fill="none" stroke="#000" stroke-width="1.4"/>
<text x="110.5" y="77" font-size="4.7" font-weight="normal" fill="#8c8c8c" text-anchor="start" >43.46%</text>
<text x="142" y="115.8" font-size="4.7" font-weight="normal" fill="#8c8c8c" text-anchor="start" >11.11%</text>
<line x1="107.1" y1="75.4" x2="108.7" y2="75.4" stroke="#000" stroke-width="0.9"/>
<text x="106.3" y="77" font-size="4.7" font-weight="normal" fill="#000" stroke="#000" stroke-width="0.18" text-anchor="end">10<tspan font-size="2.9" dy="-1.7">5</tspan></text>
<line x1="107.1" y1="87" x2="108.7" y2="87" stroke="#000" stroke-width="0.9"/>
<text x="106.3" y="88.6" font-size="4.7" font-weight="normal" fill="#000" stroke="#000" stroke-width="0.18" text-anchor="end">10<tspan font-size="2.9" dy="-1.7">4</tspan></text>
<line x1="107.1" y1="98.3" x2="108.7" y2="98.3" stroke="#000" stroke-width="0.9"/>
<text x="106.3" y="99.9" font-size="4.7" font-weight="normal" fill="#000" stroke="#000" stroke-width="0.18" text-anchor="end">10<tspan font-size="2.9" dy="-1.7">3</tspan></text>
<line x1="107.1" y1="110.2" x2="108.7" y2="110.2" stroke="#000" stroke-width="0.9"/>
<text x="106.3" y="111.8" font-size="4.7" font-weight="normal" fill="#000" stroke="#000" stroke-width="0.18" text-anchor="end">10<tspan font-size="2.9" dy="-1.7">2</tspan></text>
<line x1="107.1" y1="118" x2="108.7" y2="118" stroke="#000" stroke-width="0.9"/>
<text x="106.3" y="119.6" font-size="4.7" font-weight="normal" fill="#000" stroke="#000" stroke-width="0.18" text-anchor="end">-10<tspan font-size="2.9" dy="-1.7">2</tspan></text>
<line x1="118.8" y1="120" x2="118.8" y2="121.6" stroke="#000" stroke-width="0.9"/>
<text x="118.8" y="127.6" font-size="4.7" font-weight="normal" fill="#000" stroke="#000" stroke-width="0.18" text-anchor="middle">-10<tspan font-size="2.9" dy="-1.7">2</tspan></text>
<line x1="130.8" y1="120" x2="130.8" y2="121.6" stroke="#000" stroke-width="0.9"/>
<text x="130.8" y="127.6" font-size="4.7" font-weight="normal" fill="#000" stroke="#000" stroke-width="0.18" text-anchor="middle">10<tspan font-size="2.9" dy="-1.7">2</tspan></text>
<line x1="148.6" y1="120" x2="148.6" y2="121.6" stroke="#000" stroke-width="0.9"/>
<text x="148.6" y="127.6" font-size="4.7" font-weight="normal" fill="#000" stroke="#000" stroke-width="0.18" text-anchor="middle">10<tspan font-size="2.9" dy="-1.7">4</tspan></text>
<line x1="162.9" y1="120" x2="162.9" y2="121.6" stroke="#000" stroke-width="0.9"/>
<text x="162.9" y="127.6" font-size="4.7" font-weight="normal" fill="#000" stroke="#000" stroke-width="0.18" text-anchor="middle">10<tspan font-size="2.9" dy="-1.7">5</tspan></text>
<rect x="193.2" y="71.5" width="37.6" height="29.9" fill="none" stroke="#a6a6a6" stroke-width="0.9"/>
<rect x="213.4" y="79.4" width="16.6" height="30.3" fill="none" stroke="#a6a6a6" stroke-width="0.9"/>
<path d="M205.4 97.5h0.6v0.6h-0.6zM206.8 100.4h0.6v0.6h-0.6zM207.6 95.8h0.6v0.6h-0.6zM205.6 93.7h0.6v0.6h-0.6zM202.8 97.7h0.6v0.6h-0.6zM205.3 89.6h0.6v0.6h-0.6zM210.6 98.4h0.6v0.6h-0.6zM199.4 107.4h0.6v0.6h-0.6zM202 102.8h0.6v0.6h-0.6zM204.8 101h0.6v0.6h-0.6zM206 94.5h0.6v0.6h-0.6zM203.7 115.2h0.6v0.6h-0.6zM197.2 98.8h0.6v0.6h-0.6zM207.3 90.7h0.6v0.6h-0.6zM198.7 115.8h0.6v0.6h-0.6zM202.3 115.5h0.6v0.6h-0.6zM206.8 99.8h0.6v0.6h-0.6zM206.2 104.2h0.6v0.6h-0.6zM208.8 102.8h0.6v0.6h-0.6zM205.4 100.4h0.6v0.6h-0.6zM209.1 105.9h0.6v0.6h-0.6zM201.9 93.6h0.6v0.6h-0.6zM206.6 94.1h0.6v0.6h-0.6zM204.4 91.3h0.6v0.6h-0.6zM203.8 102.3h0.6v0.6h-0.6zM208.5 99.4h0.6v0.6h-0.6zM212.3 99h0.6v0.6h-0.6zM215.4 108h0.6v0.6h-0.6zM207.1 95.2h0.6v0.6h-0.6zM195.3 96.9h0.6v0.6h-0.6zM204.3 114.4h0.6v0.6h-0.6zM198.9 113.8h0.6v0.6h-0.6zM203.6 104.7h0.6v0.6h-0.6zM196 99.3h0.6v0.6h-0.6zM203.3 104.3h0.6v0.6h-0.6zM206.1 89.9h0.6v0.6h-0.6zM207.8 104.8h0.6v0.6h-0.6zM206.4 107.2h0.6v0.6h-0.6zM208.9 99.2h0.6v0.6h-0.6zM201.2 87.5h0.6v0.6h-0.6zM209.2 105.1h0.6v0.6h-0.6zM205.7 95.6h0.6v0.6h-0.6zM205.1 99.2h0.6v0.6h-0.6zM204.3 93.3h0.6v0.6h-0.6zM212.4 101.5h0.6v0.6h-0.6zM203.8 88.4h0.6v0.6h-0.6zM202 104.5h0.6v0.6h-0.6zM207.8 97.5h0.6v0.6h-0.6zM205.4 96.6h0.6v0.6h-0.6zM200.2 109h0.6v0.6h-0.6zM202.5 97.7h0.6v0.6h-0.6zM208.2 97.3h0.6v0.6h-0.6zM200.8 91h0.6v0.6h-0.6zM205.1 101.8h0.6v0.6h-0.6zM204 107h0.6v0.6h-0.6zM208.2 101.9h0.6v0.6h-0.6zM205.3 97h0.6v0.6h-0.6zM206.3 106.5h0.6v0.6h-0.6zM204.9 102.6h0.6v0.6h-0.6zM204.9 87.7h0.6v0.6h-0.6zM201 104.8h0.6v0.6h-0.6zM205.4 111.8h0.6v0.6h-0.6zM204.6 105.9h0.6v0.6h-0.6zM208.9 107.3h0.6v0.6h-0.6zM203 97.3h0.6v0.6h-0.6zM206.1 91.2h0.6v0.6h-0.6zM205.9 107.3h0.6v0.6h-0.6zM201.9 114.6h0.6v0.6h-0.6zM204.1 97.3h0.6v0.6h-0.6zM204.7 93.3h0.6v0.6h-0.6zM206.4 99.3h0.6v0.6h-0.6zM210.4 104.3h0.6v0.6h-0.6zM207 97.4h0.6v0.6h-0.6zM200.1 97.9h0.6v0.6h-0.6zM201.4 106.3h0.6v0.6h-0.6zM203.7 112.3h0.6v0.6h-0.6zM207 105.9h0.6v0.6h-0.6zM205.7 100.7h0.6v0.6h-0.6zM206.6 106.6h0.6v0.6h-0.6zM202.2 102.7h0.6v0.6h-0.6zM214.2 99.1h0.6v0.6h-0.6zM204.6 93.4h0.6v0.6h-0.6zM199.1 108h0.6v0.6h-0.6zM205 101.4h0.6v0.6h-0.6zM201.2 107.1h0.6v0.6h-0.6zM206.9 102.4h0.6v0.6h-0.6zM206.7 99h0.6v0.6h-0.6zM210.1 104.4h0.6v0.6h-0.6zM205.3 109.1h0.6v0.6h-0.6zM207.8 103h0.6v0.6h-0.6zM204.9 113.1h0.6v0.6h-0.6zM206.8 98.5h0.6v0.6h-0.6zM202.3 96h0.6v0.6h-0.6zM201.3 99.6h0.6v0.6h-0.6zM207.3 82.8h0.6v0.6h-0.6zM204.6 104.2h0.6v0.6h-0.6zM206.3 91.5h0.6v0.6h-0.6zM209.9 93.9h0.6v0.6h-0.6zM201.5 90h0.6v0.6h-0.6zM204.3 106.8h0.6v0.6h-0.6zM208.9 101h0.6v0.6h-0.6zM201.3 93.4h0.6v0.6h-0.6zM202 97.3h0.6v0.6h-0.6zM198.7 99.4h0.6v0.6h-0.6zM207.4 98h0.6v0.6h-0.6zM207.3 91.7h0.6v0.6h-0.6zM200.4 93.5h0.6v0.6h-0.6zM208.3 107.6h0.6v0.6h-0.6zM202.6 108.5h0.6v0.6h-0.6zM202.8 111h0.6v0.6h-0.6zM207 95.6h0.6v0.6h-0.6zM208.3 93.1h0.6v0.6h-0.6zM202.8 87.2h0.6v0.6h-0.6zM205.9 98.7h0.6v0.6h-0.6zM205 95.7h0.6v0.6h-0.6zM210.3 96.1h0.6v0.6h-0.6zM201.6 108.7h0.6v0.6h-0.6zM209.7 102.1h0.6v0.6h-0.6zM199.4 93.7h0.6v0.6h-0.6zM207.1 99.3h0.6v0.6h-0.6zM211.4 88.6h0.6v0.6h-0.6zM207.8 94.2h0.6v0.6h-0.6zM209.7 98.8h0.6v0.6h-0.6zM209 94.2h0.6v0.6h-0.6zM200.9 89.7h0.6v0.6h-0.6zM203.6 90.6h0.6v0.6h-0.6zM208.3 110h0.6v0.6h-0.6zM206.7 90.8h0.6v0.6h-0.6zM205.1 93.5h0.6v0.6h-0.6zM209.8 102h0.6v0.6h-0.6zM207 96h0.6v0.6h-0.6zM198.5 92.2h0.6v0.6h-0.6zM200.8 101.6h0.6v0.6h-0.6zM205.9 92.6h0.6v0.6h-0.6zM202.6 111.4h0.6v0.6h-0.6zM202.3 91.4h0.6v0.6h-0.6zM204.7 93.4h0.6v0.6h-0.6zM203.1 103.1h0.6v0.6h-0.6zM212.3 85.3h0.6v0.6h-0.6zM204.9 99.3h0.6v0.6h-0.6zM204.8 97.5h0.6v0.6h-0.6zM203.1 106.9h0.6v0.6h-0.6zM203.5 97.8h0.6v0.6h-0.6zM204.9 99.9h0.6v0.6h-0.6zM203.7 106.9h0.6v0.6h-0.6zM204.8 100.4h0.6v0.6h-0.6zM205.5 91h0.6v0.6h-0.6zM202.8 90.4h0.6v0.6h-0.6zM206.2 93.4h0.6v0.6h-0.6zM201.1 100.6h0.6v0.6h-0.6zM208.1 85.1h0.6v0.6h-0.6zM210.9 99.8h0.6v0.6h-0.6zM203.9 107.5h0.6v0.6h-0.6zM205.7 94.2h0.6v0.6h-0.6zM213.4 91.1h0.6v0.6h-0.6zM204.1 105.7h0.6v0.6h-0.6zM201.3 97.9h0.6v0.6h-0.6zM201.9 98.3h0.6v0.6h-0.6zM207.2 99.8h0.6v0.6h-0.6zM200.5 101.9h0.6v0.6h-0.6zM205.1 102.6h0.6v0.6h-0.6zM208.2 107.4h0.6v0.6h-0.6zM206.2 101.6h0.6v0.6h-0.6zM201.3 97.6h0.6v0.6h-0.6zM206 95.9h0.6v0.6h-0.6zM205.9 92.5h0.6v0.6h-0.6zM208.8 116.6h0.6v0.6h-0.6zM203.4 102.1h0.6v0.6h-0.6zM203.3 109h0.6v0.6h-0.6zM206.5 99.7h0.6v0.6h-0.6zM204.1 99.9h0.6v0.6h-0.6zM201 104.1h0.6v0.6h-0.6zM202.1 103h0.6v0.6h-0.6zM204.7 107.8h0.6v0.6h-0.6zM204.2 107.1h0.6v0.6h-0.6zM201.4 103.6h0.6v0.6h-0.6zM204.1 100.5h0.6v0.6h-0.6zM204.6 106.5h0.6v0.6h-0.6zM197.7 101h0.6v0.6h-0.6zM198.9 108.2h0.6v0.6h-0.6zM198.8 90.4h0.6v0.6h-0.6zM198 111.6h0.6v0.6h-0.6zM200.4 99.5h0.6v0.6h-0.6zM204.4 84.5h0.6v0.6h-0.6zM203.4 104.2h0.6v0.6h-0.6zM203.7 106.4h0.6v0.6h-0.6zM203.7 98.9h0.6v0.6h-0.6zM203.4 101.6h0.6v0.6h-0.6zM211.4 102.5h0.6v0.6h-0.6zM206.1 94.1h0.6v0.6h-0.6zM201.3 110.4h0.6v0.6h-0.6zM201.8 91.4h0.6v0.6h-0.6zM205 95.6h0.6v0.6h-0.6zM213.5 80.7h0.6v0.6h-0.6zM205.8 104.8h0.6v0.6h-0.6zM201.5 93.5h0.6v0.6h-0.6zM205.4 112.1h0.6v0.6h-0.6zM202.9 86.1h0.6v0.6h-0.6zM207.3 111.4h0.6v0.6h-0.6zM205.4 81.3h0.6v0.6h-0.6zM210.2 97.9h0.6v0.6h-0.6zM208.9 99h0.6v0.6h-0.6zM204 95.3h0.6v0.6h-0.6zM209.1 110.9h0.6v0.6h-0.6zM198.2 90.9h0.6v0.6h-0.6zM211.5 96.6h0.6v0.6h-0.6zM200.3 98.6h0.6v0.6h-0.6zM204.7 98.2h0.6v0.6h-0.6zM203.5 96.4h0.6v0.6h-0.6zM203.2 101.5h0.6v0.6h-0.6zM202.4 96.4h0.6v0.6h-0.6zM203.6 109.4h0.6v0.6h-0.6zM206.4 98.2h0.6v0.6h-0.6zM206.6 102.4h0.6v0.6h-0.6zM208.4 103.4h0.6v0.6h-0.6zM210.3 110.3h0.6v0.6h-0.6zM205.1 95.7h0.6v0.6h-0.6zM207.7 103.4h0.6v0.6h-0.6zM205.7 87.2h0.6v0.6h-0.6zM198.4 101.2h0.6v0.6h-0.6zM207.1 105.6h0.6v0.6h-0.6zM199.8 106.9h0.6v0.6h-0.6zM202.9 101.9h0.6v0.6h-0.6zM207 92.7h0.6v0.6h-0.6zM204.4 82.3h0.6v0.6h-0.6zM203.1 84.4h0.6v0.6h-0.6zM206.5 99.6h0.6v0.6h-0.6zM207.9 102.1h0.6v0.6h-0.6zM202.5 101.6h0.6v0.6h-0.6zM203.2 103.7h0.6v0.6h-0.6zM206.8 91.2h0.6v0.6h-0.6zM205 99.4h0.6v0.6h-0.6zM203.3 106h0.6v0.6h-0.6zM211.2 96.6h0.6v0.6h-0.6zM205.3 81h0.6v0.6h-0.6zM204.9 95.5h0.6v0.6h-0.6zM197.3 100.6h0.6v0.6h-0.6zM207.6 93.3h0.6v0.6h-0.6zM204.4 91.2h0.6v0.6h-0.6zM208.7 87.1h0.6v0.6h-0.6zM202.5 114.5h0.6v0.6h-0.6zM204.9 102.7h0.6v0.6h-0.6zM205.3 89.6h0.6v0.6h-0.6zM204.6 102.2h0.6v0.6h-0.6zM201.2 101.4h0.6v0.6h-0.6zM208.6 107.9h0.6v0.6h-0.6zM200.2 90.7h0.6v0.6h-0.6zM198.6 107h0.6v0.6h-0.6zM206.6 104.8h0.6v0.6h-0.6zM202.8 89.4h0.6v0.6h-0.6zM205.2 99.8h0.6v0.6h-0.6zM201.9 99.9h0.6v0.6h-0.6zM207.1 101h0.6v0.6h-0.6zM202.8 81.8h0.6v0.6h-0.6zM204 100.2h0.6v0.6h-0.6zM204.4 95.5h0.6v0.6h-0.6zM202.1 104.5h0.6v0.6h-0.6zM204.7 100h0.6v0.6h-0.6zM202 93.8h0.6v0.6h-0.6zM206.3 91h0.6v0.6h-0.6zM200.8 96h0.6v0.6h-0.6zM209.1 100.9h0.6v0.6h-0.6zM210.2 98.4h0.6v0.6h-0.6zM204.9 87.8h0.6v0.6h-0.6zM202 110.3h0.6v0.6h-0.6zM205.6 104.9h0.6v0.6h-0.6zM207.5 99.1h0.6v0.6h-0.6zM204.2 99.9h0.6v0.6h-0.6zM207 102.9h0.6v0.6h-0.6zM206.6 100.4h0.6v0.6h-0.6zM202.5 96.7h0.6v0.6h-0.6zM201 106.7h0.6v0.6h-0.6zM197.8 96.6h0.6v0.6h-0.6zM213.6 97h0.6v0.6h-0.6zM201.1 98.5h0.6v0.6h-0.6zM209.6 98.1h0.6v0.6h-0.6zM207.1 100h0.6v0.6h-0.6zM205.6 94.7h0.6v0.6h-0.6zM203 101.9h0.6v0.6h-0.6zM205.9 105.3h0.6v0.6h-0.6zM206.5 87.6h0.6v0.6h-0.6zM207.1 96.7h0.6v0.6h-0.6zM205 87.1h0.6v0.6h-0.6zM203.5 93h0.6v0.6h-0.6zM205.9 87.4h0.6v0.6h-0.6zM205.1 100h0.6v0.6h-0.6zM201.5 93.7h0.6v0.6h-0.6zM201.4 106h0.6v0.6h-0.6zM196.4 95.5h0.6v0.6h-0.6zM199.5 95.1h0.6v0.6h-0.6zM208.4 94.2h0.6v0.6h-0.6zM206.1 92.3h0.6v0.6h-0.6zM211.1 106.9h0.6v0.6h-0.6zM209.9 88.8h0.6v0.6h-0.6zM200.4 107.3h0.6v0.6h-0.6zM204.5 96.9h0.6v0.6h-0.6z" fill="#000" fill-opacity="0.5"/>
<path d="M201.5 87.8h0.6v0.6h-0.6zM201.8 99.4h0.6v0.6h-0.6zM201.5 93.1h0.6v0.6h-0.6zM201.6 92.8h0.6v0.6h-0.6zM201.5 109.4h0.6v0.6h-0.6zM201.8 103.9h0.6v0.6h-0.6zM203.5 74.9h0.6v0.6h-0.6zM202.2 96.8h0.6v0.6h-0.6zM200 96.5h0.6v0.6h-0.6zM195.8 93.8h0.6v0.6h-0.6zM200.4 111.9h0.6v0.6h-0.6zM198.3 90.7h0.6v0.6h-0.6zM204.5 91.5h0.6v0.6h-0.6zM205.7 100h0.6v0.6h-0.6zM196.1 107.6h0.6v0.6h-0.6zM205.7 86.6h0.6v0.6h-0.6zM204.4 96.9h0.6v0.6h-0.6zM204.2 96h0.6v0.6h-0.6zM194.4 103.1h0.6v0.6h-0.6zM204.1 105.7h0.6v0.6h-0.6zM199.2 94.3h0.6v0.6h-0.6zM199.3 91.5h0.6v0.6h-0.6zM200.7 76.1h0.6v0.6h-0.6zM200.1 98.8h0.6v0.6h-0.6zM206.6 106.5h0.6v0.6h-0.6zM197.6 103.9h0.6v0.6h-0.6zM196.3 93.3h0.6v0.6h-0.6zM192.8 111.4h0.6v0.6h-0.6zM202.2 88.6h0.6v0.6h-0.6zM198.6 107.5h0.6v0.6h-0.6zM200.7 102.6h0.6v0.6h-0.6zM197.4 93.1h0.6v0.6h-0.6zM199.1 107.3h0.6v0.6h-0.6zM197.9 88.7h0.6v0.6h-0.6zM203.6 91h0.6v0.6h-0.6zM202.5 101.5h0.6v0.6h-0.6zM200.8 114.9h0.6v0.6h-0.6zM200.9 106.1h0.6v0.6h-0.6zM197.3 92.5h0.6v0.6h-0.6zM200.2 112.9h0.6v0.6h-0.6zM200.3 100.9h0.6v0.6h-0.6zM202.5 99.4h0.6v0.6h-0.6zM200.1 89.6h0.6v0.6h-0.6zM203.3 89.6h0.6v0.6h-0.6zM202.1 86.4h0.6v0.6h-0.6zM203.6 90.1h0.6v0.6h-0.6zM203.3 85h0.6v0.6h-0.6zM197.3 109.4h0.6v0.6h-0.6zM197 99.4h0.6v0.6h-0.6zM199.9 78.2h0.6v0.6h-0.6zM200.1 103h0.6v0.6h-0.6zM195.7 103.9h0.6v0.6h-0.6zM197.9 89.8h0.6v0.6h-0.6zM200.1 92.9h0.6v0.6h-0.6zM207.6 85.7h0.6v0.6h-0.6zM200.9 108.1h0.6v0.6h-0.6zM194.9 82.9h0.6v0.6h-0.6zM201.6 94.8h0.6v0.6h-0.6zM199.8 109.3h0.6v0.6h-0.6zM199.2 89.4h0.6v0.6h-0.6zM191.2 100.1h0.6v0.6h-0.6zM196.5 101.6h0.6v0.6h-0.6zM201.3 86.6h0.6v0.6h-0.6zM203.8 109.2h0.6v0.6h-0.6zM203 88.6h0.6v0.6h-0.6zM198.7 94h0.6v0.6h-0.6zM199.1 88.8h0.6v0.6h-0.6zM200.6 101.2h0.6v0.6h-0.6zM201 94.6h0.6v0.6h-0.6zM203.2 101h0.6v0.6h-0.6zM191.8 92.5h0.6v0.6h-0.6zM198.6 107.6h0.6v0.6h-0.6zM198.8 96.7h0.6v0.6h-0.6zM197 104.8h0.6v0.6h-0.6zM198.6 93.5h0.6v0.6h-0.6zM196.8 103.8h0.6v0.6h-0.6zM199.2 83.8h0.6v0.6h-0.6zM201.9 92.9h0.6v0.6h-0.6zM200.3 102.4h0.6v0.6h-0.6zM202.3 108.7h0.6v0.6h-0.6zM197.9 97.4h0.6v0.6h-0.6zM194.3 113.7h0.6v0.6h-0.6zM199.7 111.6h0.6v0.6h-0.6zM200.2 80.5h0.6v0.6h-0.6zM204 100.2h0.6v0.6h-0.6zM199.9 99.5h0.6v0.6h-0.6zM201 103.9h0.6v0.6h-0.6zM193.9 108.3h0.6v0.6h-0.6zM198.3 94.7h0.6v0.6h-0.6zM203.9 107.7h0.6v0.6h-0.6zM199.9 82.3h0.6v0.6h-0.6zM199.6 103.9h0.6v0.6h-0.6zM200.2 87.8h0.6v0.6h-0.6zM198.1 87.5h0.6v0.6h-0.6zM199.5 106.4h0.6v0.6h-0.6zM203.1 92.7h0.6v0.6h-0.6zM199.8 104h0.6v0.6h-0.6zM198.1 97.5h0.6v0.6h-0.6zM205.7 101.4h0.6v0.6h-0.6zM202.5 95.3h0.6v0.6h-0.6zM201 83.6h0.6v0.6h-0.6zM198.5 109.7h0.6v0.6h-0.6zM204.8 110.3h0.6v0.6h-0.6zM201.5 99.7h0.6v0.6h-0.6zM197.8 97.4h0.6v0.6h-0.6zM201.9 92.1h0.6v0.6h-0.6zM203.1 90.4h0.6v0.6h-0.6zM195 89.5h0.6v0.6h-0.6zM195.6 86.3h0.6v0.6h-0.6zM203 97.5h0.6v0.6h-0.6zM199.2 109.4h0.6v0.6h-0.6zM203.7 94.8h0.6v0.6h-0.6zM203.2 102.8h0.6v0.6h-0.6zM199.2 103h0.6v0.6h-0.6zM195.9 91.6h0.6v0.6h-0.6zM198.7 104.4h0.6v0.6h-0.6zM198.5 97.8h0.6v0.6h-0.6zM201.3 111.9h0.6v0.6h-0.6zM200.8 110.6h0.6v0.6h-0.6zM198.5 96.1h0.6v0.6h-0.6zM200.7 96.4h0.6v0.6h-0.6zM196.7 113.7h0.6v0.6h-0.6zM199.7 90.3h0.6v0.6h-0.6zM199.5 115.6h0.6v0.6h-0.6zM198.8 110.1h0.6v0.6h-0.6zM198.6 94.5h0.6v0.6h-0.6zM197.6 97.5h0.6v0.6h-0.6zM205.9 89.1h0.6v0.6h-0.6zM205.2 90.4h0.6v0.6h-0.6zM198.1 106.4h0.6v0.6h-0.6zM201.2 101.7h0.6v0.6h-0.6zM194.3 101.8h0.6v0.6h-0.6zM198.7 100.6h0.6v0.6h-0.6zM196.4 94.4h0.6v0.6h-0.6zM194.9 107.5h0.6v0.6h-0.6zM198.3 104h0.6v0.6h-0.6zM197.8 94.3h0.6v0.6h-0.6zM204.1 90.6h0.6v0.6h-0.6zM193.8 102.2h0.6v0.6h-0.6zM196.4 94.8h0.6v0.6h-0.6zM202.9 91.9h0.6v0.6h-0.6zM202.7 93.1h0.6v0.6h-0.6zM202.9 111.3h0.6v0.6h-0.6zM198.3 97h0.6v0.6h-0.6zM196.9 100.6h0.6v0.6h-0.6zM204.1 86.3h0.6v0.6h-0.6zM203.3 87.4h0.6v0.6h-0.6zM198.3 82.7h0.6v0.6h-0.6zM205.7 100.1h0.6v0.6h-0.6zM200.8 93h0.6v0.6h-0.6zM204.3 80.4h0.6v0.6h-0.6zM198.3 99.1h0.6v0.6h-0.6zM202.1 91.9h0.6v0.6h-0.6zM198.8 107.6h0.6v0.6h-0.6zM199.8 102.4h0.6v0.6h-0.6zM198.2 101.7h0.6v0.6h-0.6zM198.5 112.1h0.6v0.6h-0.6zM201.9 97h0.6v0.6h-0.6zM191.6 104.8h0.6v0.6h-0.6zM202.5 91h0.6v0.6h-0.6zM194.4 88.2h0.6v0.6h-0.6zM203.1 89.7h0.6v0.6h-0.6zM198 100.9h0.6v0.6h-0.6zM203.2 99.2h0.6v0.6h-0.6zM199.6 94.1h0.6v0.6h-0.6zM203.5 109h0.6v0.6h-0.6zM200.3 86.5h0.6v0.6h-0.6zM196.7 104h0.6v0.6h-0.6zM196.6 106.8h0.6v0.6h-0.6zM200.4 101.7h0.6v0.6h-0.6zM201.1 103.6h0.6v0.6h-0.6zM197.2 95.9h0.6v0.6h-0.6zM207.4 88.8h0.6v0.6h-0.6zM197.2 108.4h0.6v0.6h-0.6zM199.7 91.7h0.6v0.6h-0.6zM195.1 103.5h0.6v0.6h-0.6zM201.4 111.8h0.6v0.6h-0.6zM198.8 108.4h0.6v0.6h-0.6zM196.3 100.2h0.6v0.6h-0.6zM197.3 100.4h0.6v0.6h-0.6zM200.9 108.8h0.6v0.6h-0.6zM195.5 110.1h0.6v0.6h-0.6zM198.9 89.7h0.6v0.6h-0.6zM200.1 85.8h0.6v0.6h-0.6zM199.3 101.6h0.6v0.6h-0.6zM198.5 103.8h0.6v0.6h-0.6zM198.6 99h0.6v0.6h-0.6zM195.2 99h0.6v0.6h-0.6zM197.3 94.7h0.6v0.6h-0.6zM199.1 100.7h0.6v0.6h-0.6zM195.8 84.6h0.6v0.6h-0.6zM198.2 103.2h0.6v0.6h-0.6zM199.9 107.1h0.6v0.6h-0.6zM203 103.8h0.6v0.6h-0.6zM200.2 89.7h0.6v0.6h-0.6zM197 94.6h0.6v0.6h-0.6zM200.1 101h0.6v0.6h-0.6zM199.6 97.6h0.6v0.6h-0.6zM201.2 101h0.6v0.6h-0.6zM200.1 101.8h0.6v0.6h-0.6zM198.7 89.6h0.6v0.6h-0.6zM200.6 102.9h0.6v0.6h-0.6zM199.2 95.2h0.6v0.6h-0.6zM206.9 92.8h0.6v0.6h-0.6zM198.6 101.3h0.6v0.6h-0.6zM196 99.7h0.6v0.6h-0.6zM204.1 107.8h0.6v0.6h-0.6zM200.9 104.5h0.6v0.6h-0.6zM199.1 107.6h0.6v0.6h-0.6zM199.4 95.2h0.6v0.6h-0.6zM199.1 107.1h0.6v0.6h-0.6zM200 105.1h0.6v0.6h-0.6zM192.5 109.2h0.6v0.6h-0.6zM205.4 111.6h0.6v0.6h-0.6zM199.2 91.3h0.6v0.6h-0.6zM201.1 90.2h0.6v0.6h-0.6zM202.1 94.5h0.6v0.6h-0.6zM201.3 111.5h0.6v0.6h-0.6zM193.2 101.1h0.6v0.6h-0.6zM198.5 86.2h0.6v0.6h-0.6zM197.8 96.9h0.6v0.6h-0.6zM203.8 85.6h0.6v0.6h-0.6zM201.1 117.4h0.6v0.6h-0.6zM200.9 104.1h0.6v0.6h-0.6zM200.4 88.5h0.6v0.6h-0.6zM200.8 102.6h0.6v0.6h-0.6zM201.3 103h0.6v0.6h-0.6zM205.2 87.3h0.6v0.6h-0.6zM196.4 95.3h0.6v0.6h-0.6zM197 105.1h0.6v0.6h-0.6zM197.2 114.5h0.6v0.6h-0.6zM203.4 106.3h0.6v0.6h-0.6zM197.9 104.4h0.6v0.6h-0.6zM202.8 89.6h0.6v0.6h-0.6zM200 105.4h0.6v0.6h-0.6zM198.9 113.1h0.6v0.6h-0.6zM203.8 91.9h0.6v0.6h-0.6zM200.5 91.5h0.6v0.6h-0.6zM201.9 91.4h0.6v0.6h-0.6zM202 102.7h0.6v0.6h-0.6zM202.5 98h0.6v0.6h-0.6zM193.8 114.5h0.6v0.6h-0.6zM197.9 111.3h0.6v0.6h-0.6zM200.3 105.2h0.6v0.6h-0.6zM204.7 102.5h0.6v0.6h-0.6zM204.8 86.1h0.6v0.6h-0.6zM202.3 97.1h0.6v0.6h-0.6zM199.1 99h0.6v0.6h-0.6zM199.2 113.9h0.6v0.6h-0.6zM193.9 98.9h0.6v0.6h-0.6zM196.4 109.3h0.6v0.6h-0.6zM197.9 103h0.6v0.6h-0.6zM197.8 104.9h0.6v0.6h-0.6zM202.8 95.7h0.6v0.6h-0.6zM200.8 86.3h0.6v0.6h-0.6zM199.7 106.8h0.6v0.6h-0.6zM197 108.9h0.6v0.6h-0.6zM194.8 81.9h0.6v0.6h-0.6zM195.7 94.3h0.6v0.6h-0.6zM199.6 98.3h0.6v0.6h-0.6zM198.7 105.5h0.6v0.6h-0.6zM199.1 87.5h0.6v0.6h-0.6zM192.6 96.8h0.6v0.6h-0.6zM203.5 103.7h0.6v0.6h-0.6zM197 98.8h0.6v0.6h-0.6zM201.1 110.1h0.6v0.6h-0.6zM196.2 105.6h0.6v0.6h-0.6zM199.4 109h0.6v0.6h-0.6zM203.9 96.3h0.6v0.6h-0.6zM194.9 102.2h0.6v0.6h-0.6zM204.3 105.6h0.6v0.6h-0.6zM195.7 106.8h0.6v0.6h-0.6zM197.8 99.3h0.6v0.6h-0.6zM198.6 112.6h0.6v0.6h-0.6zM197.1 94h0.6v0.6h-0.6zM194.4 103h0.6v0.6h-0.6zM197.8 102.7h0.6v0.6h-0.6zM196.6 95.5h0.6v0.6h-0.6zM202.7 97.7h0.6v0.6h-0.6zM201 103.9h0.6v0.6h-0.6zM199.7 84.9h0.6v0.6h-0.6zM202.3 100.8h0.6v0.6h-0.6zM204 81.2h0.6v0.6h-0.6zM196.2 79.4h0.6v0.6h-0.6zM196.1 108.1h0.6v0.6h-0.6zM201.2 98.8h0.6v0.6h-0.6zM199.3 105.9h0.6v0.6h-0.6zM198.3 102.5h0.6v0.6h-0.6zM201.6 79.4h0.6v0.6h-0.6zM197.3 111.1h0.6v0.6h-0.6zM198.4 97.6h0.6v0.6h-0.6zM198.1 94.5h0.6v0.6h-0.6zM203.1 96.9h0.6v0.6h-0.6z" fill="#000" fill-opacity="0.6"/>
<path d="M214 81.6h0.6v0.6h-0.6zM214.9 85.6h0.6v0.6h-0.6zM212.2 95.3h0.6v0.6h-0.6zM217.8 85.8h0.6v0.6h-0.6zM218.1 94.1h0.6v0.6h-0.6zM214.5 95.1h0.6v0.6h-0.6zM212.6 88.3h0.6v0.6h-0.6zM213 88.6h0.6v0.6h-0.6zM218.1 87.8h0.6v0.6h-0.6zM213.7 89.2h0.6v0.6h-0.6zM216.6 91.3h0.6v0.6h-0.6zM218.1 90h0.6v0.6h-0.6zM213.4 90.7h0.6v0.6h-0.6zM216.3 89.2h0.6v0.6h-0.6zM216.8 98.8h0.6v0.6h-0.6zM214.9 92.6h0.6v0.6h-0.6zM219.2 90.2h0.6v0.6h-0.6zM214.3 88.6h0.6v0.6h-0.6zM217 94.3h0.6v0.6h-0.6zM215.8 92.6h0.6v0.6h-0.6zM219 95.5h0.6v0.6h-0.6zM213.1 92.4h0.6v0.6h-0.6zM216.4 94.9h0.6v0.6h-0.6zM215.7 90.2h0.6v0.6h-0.6zM215.1 86.2h0.6v0.6h-0.6zM216.1 90.3h0.6v0.6h-0.6zM217.2 88.8h0.6v0.6h-0.6zM215.2 89h0.6v0.6h-0.6zM213.8 94.8h0.6v0.6h-0.6zM215.1 93.9h0.6v0.6h-0.6zM213.7 92.7h0.6v0.6h-0.6zM212.4 90.7h0.6v0.6h-0.6zM215 94.4h0.6v0.6h-0.6zM216.5 91.7h0.6v0.6h-0.6zM218 93h0.6v0.6h-0.6zM217.3 95h0.6v0.6h-0.6zM216 91.3h0.6v0.6h-0.6zM216.8 90.9h0.6v0.6h-0.6zM217 96.2h0.6v0.6h-0.6zM218 91h0.6v0.6h-0.6zM213.3 92.1h0.6v0.6h-0.6zM215.8 96.2h0.6v0.6h-0.6zM215.3 91.6h0.6v0.6h-0.6zM217.7 90.7h0.6v0.6h-0.6zM215.7 98.3h0.6v0.6h-0.6zM219.4 94.5h0.6v0.6h-0.6zM216.7 89h0.6v0.6h-0.6zM217.3 92.5h0.6v0.6h-0.6zM216.6 90.5h0.6v0.6h-0.6zM216.1 91.7h0.6v0.6h-0.6zM216.8 97.3h0.6v0.6h-0.6zM216.9 86.5h0.6v0.6h-0.6zM214 86.8h0.6v0.6h-0.6zM214.4 94.3h0.6v0.6h-0.6zM217 90.2h0.6v0.6h-0.6zM216.7 89.7h0.6v0.6h-0.6zM213 87.4h0.6v0.6h-0.6zM214.2 97.3h0.6v0.6h-0.6zM213.2 96.7h0.6v0.6h-0.6zM219 91.7h0.6v0.6h-0.6z" fill="#000" fill-opacity="0.4"/>
<ellipse cx="202" cy="99" rx="8" ry="17" transform="rotate(0 202 99)" fill="#000" fill-opacity="0.25" filter="url(#b3)"/>
<path d="M200 81L203.5 81L205.5 87L206 96L205 106L203 113L200.5 117L195 117L193.2 112L194 104L195.5 95L197.5 87Z" fill="#000" fill-opacity="0.72" filter="url(#b2)"/>
<ellipse cx="197.5" cy="110.5" rx="4" ry="6" transform="rotate(0 197.5 110.5)" fill="#000" fill-opacity="1" filter="url(#b2)"/>
<ellipse cx="216.2" cy="92.5" rx="2.2" ry="4" transform="rotate(0 216.2 92.5)" fill="#000" fill-opacity="0.35" filter="url(#b2)"/>
<path d="M180.5 69.4H241.5V118.8" fill="none" stroke="#222" stroke-width="0.9"/>
<path d="M180.5 69.4V118.8H241.5" fill="none" stroke="#000" stroke-width="1.4"/>
<text x="182.5" y="76" font-size="4.7" font-weight="normal" fill="#8c8c8c" text-anchor="start" >6.77%</text>
<text x="217.3" y="115.6" font-size="4.7" font-weight="normal" fill="#8c8c8c" text-anchor="start" >0.46%</text>
<line x1="178.9" y1="75.1" x2="180.5" y2="75.1" stroke="#000" stroke-width="0.9"/>
<text x="178.1" y="76.7" font-size="4.7" font-weight="normal" fill="#000" stroke="#000" stroke-width="0.18" text-anchor="end">10<tspan font-size="2.9" dy="-1.7">5</tspan></text>
<line x1="178.9" y1="86.4" x2="180.5" y2="86.4" stroke="#000" stroke-width="0.9"/>
<text x="178.1" y="88" font-size="4.7" font-weight="normal" fill="#000" stroke="#000" stroke-width="0.18" text-anchor="end">10<tspan font-size="2.9" dy="-1.7">4</tspan></text>
<line x1="178.9" y1="97.6" x2="180.5" y2="97.6" stroke="#000" stroke-width="0.9"/>
<text x="178.1" y="99.2" font-size="4.7" font-weight="normal" fill="#000" stroke="#000" stroke-width="0.18" text-anchor="end">10<tspan font-size="2.9" dy="-1.7">3</tspan></text>
<line x1="178.9" y1="109.2" x2="180.5" y2="109.2" stroke="#000" stroke-width="0.9"/>
<text x="178.1" y="110.8" font-size="4.7" font-weight="normal" fill="#000" stroke="#000" stroke-width="0.18" text-anchor="end">10<tspan font-size="2.9" dy="-1.7">2</tspan></text>
<line x1="178.9" y1="116.8" x2="180.5" y2="116.8" stroke="#000" stroke-width="0.9"/>
<text x="178.1" y="118.4" font-size="4.7" font-weight="normal" fill="#000" stroke="#000" stroke-width="0.18" text-anchor="end">-10<tspan font-size="2.9" dy="-1.7">2</tspan></text>
<line x1="190.9" y1="118.8" x2="190.9" y2="120.4" stroke="#000" stroke-width="0.9"/>
<text x="190.9" y="126.4" font-size="4.7" font-weight="normal" fill="#000" stroke="#000" stroke-width="0.18" text-anchor="middle">-10<tspan font-size="2.9" dy="-1.7">2</tspan></text>
<line x1="203.1" y1="118.8" x2="203.1" y2="120.4" stroke="#000" stroke-width="0.9"/>
<text x="203.1" y="126.4" font-size="4.7" font-weight="normal" fill="#000" stroke="#000" stroke-width="0.18" text-anchor="middle">10<tspan font-size="2.9" dy="-1.7">2</tspan></text>
<line x1="221.4" y1="118.8" x2="221.4" y2="120.4" stroke="#000" stroke-width="0.9"/>
<text x="221.4" y="126.4" font-size="4.7" font-weight="normal" fill="#000" stroke="#000" stroke-width="0.18" text-anchor="middle">10<tspan font-size="2.9" dy="-1.7">4</tspan></text>
<line x1="236" y1="118.8" x2="236" y2="120.4" stroke="#000" stroke-width="0.9"/>
<text x="236" y="126.4" font-size="4.7" font-weight="normal" fill="#000" stroke="#000" stroke-width="0.18" text-anchor="middle">10<tspan font-size="2.9" dy="-1.7">5</tspan></text>
<rect x="50.2" y="134" width="37.1" height="30.6" fill="none" stroke="#a6a6a6" stroke-width="0.9"/>
<rect x="69.2" y="142.4" width="18.1" height="31.3" fill="none" stroke="#a6a6a6" stroke-width="0.9"/>
<path d="M56.3 146.4h0.6v0.6h-0.6zM56.3 155.3h0.6v0.6h-0.6zM56.4 157.6h0.6v0.6h-0.6zM59.3 153h0.6v0.6h-0.6zM57.2 150.2h0.6v0.6h-0.6zM57.2 142.9h0.6v0.6h-0.6zM57.4 152.1h0.6v0.6h-0.6zM54.2 165.7h0.6v0.6h-0.6zM53.9 144.6h0.6v0.6h-0.6zM57.1 137.1h0.6v0.6h-0.6zM54.4 140h0.6v0.6h-0.6zM54 149.7h0.6v0.6h-0.6zM57.2 158.3h0.6v0.6h-0.6zM58.4 158.9h0.6v0.6h-0.6zM57.8 147.4h0.6v0.6h-0.6zM59.1 147.2h0.6v0.6h-0.6zM54.8 161.3h0.6v0.6h-0.6zM58.3 152.2h0.6v0.6h-0.6zM58.2 156.8h0.6v0.6h-0.6zM53 150h0.6v0.6h-0.6zM53.4 151.5h0.6v0.6h-0.6zM54.7 160.1h0.6v0.6h-0.6zM57.7 144.9h0.6v0.6h-0.6zM56.3 142.1h0.6v0.6h-0.6zM56.5 154.4h0.6v0.6h-0.6zM57 137.1h0.6v0.6h-0.6zM55.5 154.2h0.6v0.6h-0.6zM57.1 158.7h0.6v0.6h-0.6zM53.1 154.3h0.6v0.6h-0.6zM54.7 152h0.6v0.6h-0.6zM57.4 155.4h0.6v0.6h-0.6zM54.9 151.9h0.6v0.6h-0.6zM53.4 140.7h0.6v0.6h-0.6zM57.7 150.2h0.6v0.6h-0.6zM52.3 144.7h0.6v0.6h-0.6zM56.4 161.5h0.6v0.6h-0.6zM59 156.2h0.6v0.6h-0.6zM51.9 149.9h0.6v0.6h-0.6zM57.5 153.3h0.6v0.6h-0.6zM57.4 149h0.6v0.6h-0.6zM60.7 160.9h0.6v0.6h-0.6zM56.1 143.7h0.6v0.6h-0.6zM61.5 146.7h0.6v0.6h-0.6zM59.3 164h0.6v0.6h-0.6zM54 152.6h0.6v0.6h-0.6zM55.5 154.2h0.6v0.6h-0.6zM57.2 164.2h0.6v0.6h-0.6zM57.8 150.5h0.6v0.6h-0.6zM59.2 148.7h0.6v0.6h-0.6zM55.4 166.3h0.6v0.6h-0.6zM54.3 147.2h0.6v0.6h-0.6zM56.5 143.2h0.6v0.6h-0.6zM51.1 158h0.6v0.6h-0.6zM54.4 146.8h0.6v0.6h-0.6zM55.4 143.7h0.6v0.6h-0.6zM53.7 151.7h0.6v0.6h-0.6zM62.3 155.7h0.6v0.6h-0.6zM58.2 140.1h0.6v0.6h-0.6zM56.3 142.3h0.6v0.6h-0.6zM58.3 149h0.6v0.6h-0.6z" fill="#000" fill-opacity="0.3"/>
<path d="M61.7 164.9h0.6v0.6h-0.6zM57.7 165.2h0.6v0.6h-0.6zM61.3 161.4h0.6v0.6h-0.6zM57.9 168.8h0.6v0.6h-0.6zM60.1 167.9h0.6v0.6h-0.6zM65 162h0.6v0.6h-0.6zM62.3 164.5h0.6v0.6h-0.6zM61.4 159.8h0.6v0.6h-0.6zM61.4 162.7h0.6v0.6h-0.6zM58.2 169.4h0.6v0.6h-0.6zM61.5 167.2h0.6v0.6h-0.6zM61.4 158.3h0.6v0.6h-0.6zM64.5 167.9h0.6v0.6h-0.6zM66.5 164h0.6v0.6h-0.6zM59.8 162.9h0.6v0.6h-0.6zM59.6 169.9h0.6v0.6h-0.6zM63.4 160.9h0.6v0.6h-0.6zM61.4 166.4h0.6v0.6h-0.6zM56.1 170.7h0.6v0.6h-0.6zM69.8 162.4h0.6v0.6h-0.6zM64.2 167.9h0.6v0.6h-0.6zM59 165.9h0.6v0.6h-0.6zM56.7 174.1h0.6v0.6h-0.6zM64.2 169.4h0.6v0.6h-0.6zM63 164.2h0.6v0.6h-0.6zM58.8 173.3h0.6v0.6h-0.6zM60.4 166.2h0.6v0.6h-0.6zM56.8 173.9h0.6v0.6h-0.6zM63.7 160.9h0.6v0.6h-0.6zM62.6 165.3h0.6v0.6h-0.6zM64.7 161.9h0.6v0.6h-0.6zM66.4 158.9h0.6v0.6h-0.6zM59.3 166.6h0.6v0.6h-0.6zM53.2 172.8h0.6v0.6h-0.6zM65.1 162h0.6v0.6h-0.6zM59.9 168.4h0.6v0.6h-0.6zM55.5 171.7h0.6v0.6h-0.6zM64.3 164.2h0.6v0.6h-0.6zM60.9 169h0.6v0.6h-0.6zM66.5 158.1h0.6v0.6h-0.6zM61.5 160.6h0.6v0.6h-0.6zM57 172.7h0.6v0.6h-0.6zM62.2 165.2h0.6v0.6h-0.6zM59.6 166.7h0.6v0.6h-0.6zM66.7 164.5h0.6v0.6h-0.6zM58.6 163.7h0.6v0.6h-0.6zM66.4 161.5h0.6v0.6h-0.6zM64 163h0.6v0.6h-0.6zM68.6 157.2h0.6v0.6h-0.6zM60.4 161h0.6v0.6h-0.6zM59 166.2h0.6v0.6h-0.6zM62.2 165.7h0.6v0.6h-0.6zM62.3 169.9h0.6v0.6h-0.6zM58 168.2h0.6v0.6h-0.6zM60.5 162.7h0.6v0.6h-0.6zM64.4 164h0.6v0.6h-0.6zM63.9 168.6h0.6v0.6h-0.6zM62.4 165.2h0.6v0.6h-0.6zM56.4 166.3h0.6v0.6h-0.6zM59.5 166.9h0.6v0.6h-0.6zM61.6 167.7h0.6v0.6h-0.6zM53.1 171.9h0.6v0.6h-0.6zM58.5 173.1h0.6v0.6h-0.6zM59.3 166.4h0.6v0.6h-0.6zM60 170.1h0.6v0.6h-0.6zM60.9 166.8h0.6v0.6h-0.6zM57.7 173.6h0.6v0.6h-0.6zM63.8 164.5h0.6v0.6h-0.6zM65.1 160.6h0.6v0.6h-0.6zM62.4 166.6h0.6v0.6h-0.6z" fill="#000" fill-opacity="0.45"/>
<path d="M80.3 152.6h0.6v0.6h-0.6zM78 150.6h0.6v0.6h-0.6zM82 162.1h0.6v0.6h-0.6zM77.7 169.7h0.6v0.6h-0.6zM68.5 152.7h0.6v0.6h-0.6zM88 151.2h0.6v0.6h-0.6zM68.1 165.8h0.6v0.6h-0.6zM81 145h0.6v0.6h-0.6zM82.4 146.4h0.6v0.6h-0.6zM69.7 153.4h0.6v0.6h-0.6zM74.8 145.8h0.6v0.6h-0.6zM75.5 146.6h0.6v0.6h-0.6zM78.1 154.4h0.6v0.6h-0.6zM82.2 151h0.6v0.6h-0.6zM69.7 144h0.6v0.6h-0.6zM76.2 166.9h0.6v0.6h-0.6zM82.8 149.5h0.6v0.6h-0.6zM83.4 145.3h0.6v0.6h-0.6zM83.8 151.6h0.6v0.6h-0.6zM82.3 159.6h0.6v0.6h-0.6z" fill="#000" fill-opacity="0.18"/>
<ellipse cx="56" cy="172.5" rx="7" ry="4.5" transform="rotate(-30 56 172.5)" fill="#000" fill-opacity="0.35" filter="url(#b3)"/>
<ellipse cx="55" cy="173.3" rx="4.8" ry="3.4" transform="rotate(-20 55 173.3)" fill="#000" fill-opacity="1" filter="url(#b2)"/>
<path d="M37.5 132.5H97.8V183" fill="none" stroke="#222" stroke-width="0.9"/>
<path d="M37.5 132.5V183H97.8" fill="none" stroke="#000" stroke-width="1.4"/>
<text x="39.5" y="137.7" font-size="4.7" font-weight="normal" fill="#8c8c8c" text-anchor="start" >12.96%</text>
<text x="71" y="177.9" font-size="4.7" font-weight="normal" fill="#8c8c8c" text-anchor="start" >1.08%</text>
<line x1="35.9" y1="138.3" x2="37.5" y2="138.3" stroke="#000" stroke-width="0.9"/>
<text x="35.1" y="139.9" font-size="4.7" font-weight="normal" fill="#000" stroke="#000" stroke-width="0.18" text-anchor="end">10<tspan font-size="2.9" dy="-1.7">5</tspan></text>
<line x1="35.9" y1="149.9" x2="37.5" y2="149.9" stroke="#000" stroke-width="0.9"/>
<text x="35.1" y="151.5" font-size="4.7" font-weight="normal" fill="#000" stroke="#000" stroke-width="0.18" text-anchor="end">10<tspan font-size="2.9" dy="-1.7">4</tspan></text>
<line x1="35.9" y1="161.3" x2="37.5" y2="161.3" stroke="#000" stroke-width="0.9"/>
<text x="35.1" y="162.9" font-size="4.7" font-weight="normal" fill="#000" stroke="#000" stroke-width="0.18" text-anchor="end">10<tspan font-size="2.9" dy="-1.7">3</tspan></text>
<line x1="35.9" y1="173.2" x2="37.5" y2="173.2" stroke="#000" stroke-width="0.9"/>
<text x="35.1" y="174.8" font-size="4.7" font-weight="normal" fill="#000" stroke="#000" stroke-width="0.18" text-anchor="end">10<tspan font-size="2.9" dy="-1.7">2</tspan></text>
<line x1="35.9" y1="181" x2="37.5" y2="181" stroke="#000" stroke-width="0.9"/>
<text x="35.1" y="182.6" font-size="4.7" font-weight="normal" fill="#000" stroke="#000" stroke-width="0.18" text-anchor="end">-10<tspan font-size="2.9" dy="-1.7">2</tspan></text>
<line x1="47.8" y1="183" x2="47.8" y2="184.6" stroke="#000" stroke-width="0.9"/>
<text x="47.8" y="190.6" font-size="4.7" font-weight="normal" fill="#000" stroke="#000" stroke-width="0.18" text-anchor="middle">-10<tspan font-size="2.9" dy="-1.7">2</tspan></text>
<line x1="59.8" y1="183" x2="59.8" y2="184.6" stroke="#000" stroke-width="0.9"/>
<text x="59.8" y="190.6" font-size="4.7" font-weight="normal" fill="#000" stroke="#000" stroke-width="0.18" text-anchor="middle">10<tspan font-size="2.9" dy="-1.7">2</tspan></text>
<line x1="77.9" y1="183" x2="77.9" y2="184.6" stroke="#000" stroke-width="0.9"/>
<text x="77.9" y="190.6" font-size="4.7" font-weight="normal" fill="#000" stroke="#000" stroke-width="0.18" text-anchor="middle">10<tspan font-size="2.9" dy="-1.7">4</tspan></text>
<line x1="92.4" y1="183" x2="92.4" y2="184.6" stroke="#000" stroke-width="0.9"/>
<text x="92.4" y="190.6" font-size="4.7" font-weight="normal" fill="#000" stroke="#000" stroke-width="0.18" text-anchor="middle">10<tspan font-size="2.9" dy="-1.7">5</tspan></text>
<rect x="120.4" y="134" width="37.9" height="30.2" fill="none" stroke="#a6a6a6" stroke-width="0.9"/>
<rect x="142.3" y="142.4" width="16" height="31.3" fill="none" stroke="#a6a6a6" stroke-width="0.9"/>
<path d="M129.1 142.8h0.6v0.6h-0.6zM127.6 142.2h0.6v0.6h-0.6zM131.9 148.5h0.6v0.6h-0.6zM131.1 142.5h0.6v0.6h-0.6zM127.7 143.9h0.6v0.6h-0.6zM126.4 141.1h0.6v0.6h-0.6zM130.4 140.5h0.6v0.6h-0.6zM132.8 144h0.6v0.6h-0.6zM128.6 141.5h0.6v0.6h-0.6zM127.1 140.2h0.6v0.6h-0.6zM130.6 143.3h0.6v0.6h-0.6zM130.4 142.7h0.6v0.6h-0.6zM128.6 142.9h0.6v0.6h-0.6zM126.8 142.3h0.6v0.6h-0.6zM132.7 144.3h0.6v0.6h-0.6zM128.8 141.8h0.6v0.6h-0.6zM132.5 145h0.6v0.6h-0.6zM126.7 141.7h0.6v0.6h-0.6zM130.2 144.2h0.6v0.6h-0.6zM128 143.3h0.6v0.6h-0.6zM129.1 145.9h0.6v0.6h-0.6zM130.6 142.1h0.6v0.6h-0.6zM129 143.9h0.6v0.6h-0.6zM131.1 140.7h0.6v0.6h-0.6zM130.1 140.3h0.6v0.6h-0.6z" fill="#000" fill-opacity="0.5"/>
<path d="M128.6 145.6h0.6v0.6h-0.6zM126.9 149.9h0.6v0.6h-0.6zM127.9 158.4h0.6v0.6h-0.6zM133.3 153h0.6v0.6h-0.6zM127.5 160.3h0.6v0.6h-0.6zM124.8 141.1h0.6v0.6h-0.6zM133.1 159.3h0.6v0.6h-0.6zM133.8 153.2h0.6v0.6h-0.6zM127.1 151.1h0.6v0.6h-0.6zM132.6 149.3h0.6v0.6h-0.6zM128.8 144.9h0.6v0.6h-0.6zM127.4 160.6h0.6v0.6h-0.6zM132.2 146.5h0.6v0.6h-0.6zM127.6 150.7h0.6v0.6h-0.6zM132.5 146.5h0.6v0.6h-0.6zM130.4 139.6h0.6v0.6h-0.6zM127.1 157.6h0.6v0.6h-0.6zM133.6 146.6h0.6v0.6h-0.6zM128.5 160.3h0.6v0.6h-0.6zM129.7 150.9h0.6v0.6h-0.6zM132.4 156.1h0.6v0.6h-0.6zM134.2 160.3h0.6v0.6h-0.6zM129.1 153.9h0.6v0.6h-0.6zM130.7 145.2h0.6v0.6h-0.6zM127.9 161.5h0.6v0.6h-0.6zM126.1 161.7h0.6v0.6h-0.6zM131.7 153.7h0.6v0.6h-0.6zM132.5 158h0.6v0.6h-0.6zM134.5 151.9h0.6v0.6h-0.6zM130.2 153h0.6v0.6h-0.6zM136.5 161.3h0.6v0.6h-0.6zM128.1 152.4h0.6v0.6h-0.6zM128.7 154.8h0.6v0.6h-0.6zM131.5 170.8h0.6v0.6h-0.6zM125.4 161.9h0.6v0.6h-0.6zM132.2 149.8h0.6v0.6h-0.6zM130.4 151.2h0.6v0.6h-0.6zM131 161.8h0.6v0.6h-0.6zM126.3 163.9h0.6v0.6h-0.6zM129.8 165.3h0.6v0.6h-0.6zM132.1 163.4h0.6v0.6h-0.6zM132.6 162.4h0.6v0.6h-0.6zM131.1 148.9h0.6v0.6h-0.6zM132.9 159.7h0.6v0.6h-0.6zM137.2 140.7h0.6v0.6h-0.6zM130.3 162.2h0.6v0.6h-0.6zM127.1 153.2h0.6v0.6h-0.6zM137.3 164.7h0.6v0.6h-0.6zM128.3 164.8h0.6v0.6h-0.6zM134.5 160.2h0.6v0.6h-0.6z" fill="#000" fill-opacity="0.3"/>
<path d="M146.9 150.8h0.6v0.6h-0.6zM145.4 147.8h0.6v0.6h-0.6zM147.3 150.4h0.6v0.6h-0.6zM148.7 148.5h0.6v0.6h-0.6zM143.6 148.5h0.6v0.6h-0.6zM146.8 151.4h0.6v0.6h-0.6zM146.5 146.6h0.6v0.6h-0.6zM148.3 147.2h0.6v0.6h-0.6zM147.3 148.7h0.6v0.6h-0.6zM145 155.6h0.6v0.6h-0.6zM143.5 146.5h0.6v0.6h-0.6zM147 148.5h0.6v0.6h-0.6zM147.4 149.5h0.6v0.6h-0.6zM145.9 158.6h0.6v0.6h-0.6zM146.2 149.3h0.6v0.6h-0.6zM145.2 146.9h0.6v0.6h-0.6zM147.3 152.2h0.6v0.6h-0.6zM146.5 147.1h0.6v0.6h-0.6zM147.3 143.1h0.6v0.6h-0.6zM146.1 148.9h0.6v0.6h-0.6zM145.5 150.5h0.6v0.6h-0.6zM145.7 146.7h0.6v0.6h-0.6zM148.6 152.9h0.6v0.6h-0.6zM147.9 150.1h0.6v0.6h-0.6zM147.6 153.1h0.6v0.6h-0.6z" fill="#000" fill-opacity="0.45"/>
<path d="M138.2 174.6h0.6v0.6h-0.6zM128.8 172.7h0.6v0.6h-0.6zM123.9 162.5h0.6v0.6h-0.6zM123.4 175h0.6v0.6h-0.6zM131.3 168.4h0.6v0.6h-0.6zM136.3 172h0.6v0.6h-0.6zM129.8 176.2h0.6v0.6h-0.6zM137.7 168.3h0.6v0.6h-0.6zM127.4 177.8h0.6v0.6h-0.6zM128.2 170.9h0.6v0.6h-0.6zM129.2 169.8h0.6v0.6h-0.6zM135.3 170.8h0.6v0.6h-0.6zM135.6 170h0.6v0.6h-0.6zM125.8 173.1h0.6v0.6h-0.6zM132.7 168.3h0.6v0.6h-0.6zM141.8 163.6h0.6v0.6h-0.6zM128.7 176h0.6v0.6h-0.6zM132.7 169.6h0.6v0.6h-0.6zM129.1 173.2h0.6v0.6h-0.6zM134.3 171.4h0.6v0.6h-0.6zM128.8 173.4h0.6v0.6h-0.6zM134.3 171.4h0.6v0.6h-0.6zM114.8 176.9h0.6v0.6h-0.6zM125.8 172.8h0.6v0.6h-0.6zM131.7 173.4h0.6v0.6h-0.6zM132 169.6h0.6v0.6h-0.6zM132.2 176h0.6v0.6h-0.6zM127.3 173.8h0.6v0.6h-0.6zM136.8 168.5h0.6v0.6h-0.6zM121.2 177.6h0.6v0.6h-0.6zM127.7 172.2h0.6v0.6h-0.6zM134.8 170.1h0.6v0.6h-0.6zM129.7 174.5h0.6v0.6h-0.6zM131.5 170.7h0.6v0.6h-0.6zM131.2 171.4h0.6v0.6h-0.6zM127.3 171.2h0.6v0.6h-0.6zM128.2 169h0.6v0.6h-0.6zM126 178h0.6v0.6h-0.6zM128.4 172h0.6v0.6h-0.6zM129 171.9h0.6v0.6h-0.6zM129.7 171.6h0.6v0.6h-0.6zM127.4 175.9h0.6v0.6h-0.6zM128.1 175.9h0.6v0.6h-0.6zM119.6 173.5h0.6v0.6h-0.6zM133.6 168.6h0.6v0.6h-0.6zM127.2 174.2h0.6v0.6h-0.6zM125.1 174.3h0.6v0.6h-0.6zM119.2 175.9h0.6v0.6h-0.6zM127.5 174.5h0.6v0.6h-0.6zM132 167.1h0.6v0.6h-0.6zM135.6 165.9h0.6v0.6h-0.6zM117 170.5h0.6v0.6h-0.6zM136 167.4h0.6v0.6h-0.6zM125.6 171.2h0.6v0.6h-0.6zM126.8 177.7h0.6v0.6h-0.6zM131.8 176.4h0.6v0.6h-0.6zM125.1 165.9h0.6v0.6h-0.6zM132.6 168.4h0.6v0.6h-0.6zM130.8 176.2h0.6v0.6h-0.6zM130.1 175.2h0.6v0.6h-0.6zM128.4 169.6h0.6v0.6h-0.6zM130.8 168.7h0.6v0.6h-0.6zM136.3 170.9h0.6v0.6h-0.6zM130.7 172.9h0.6v0.6h-0.6zM131.5 169.4h0.6v0.6h-0.6zM133 168.7h0.6v0.6h-0.6zM130.7 167.5h0.6v0.6h-0.6zM130.6 172.3h0.6v0.6h-0.6zM125.5 172.4h0.6v0.6h-0.6zM128.3 174.7h0.6v0.6h-0.6zM127.1 174.4h0.6v0.6h-0.6zM136.7 168.6h0.6v0.6h-0.6zM122.7 175.9h0.6v0.6h-0.6zM133.6 168.2h0.6v0.6h-0.6zM135.3 170.3h0.6v0.6h-0.6zM131 169.8h0.6v0.6h-0.6zM126.9 172.1h0.6v0.6h-0.6zM130.6 172.7h0.6v0.6h-0.6zM130.9 169.7h0.6v0.6h-0.6zM130.4 172.3h0.6v0.6h-0.6zM121.4 173.6h0.6v0.6h-0.6zM125.8 173h0.6v0.6h-0.6zM128 171.5h0.6v0.6h-0.6zM126.8 175.4h0.6v0.6h-0.6zM128.3 166.5h0.6v0.6h-0.6zM128 168.5h0.6v0.6h-0.6zM136.3 166.1h0.6v0.6h-0.6zM128 172.7h0.6v0.6h-0.6zM128.6 171.9h0.6v0.6h-0.6zM136.6 168.2h0.6v0.6h-0.6zM134.9 172.3h0.6v0.6h-0.6zM127.9 178.3h0.6v0.6h-0.6zM134 172.3h0.6v0.6h-0.6zM127.1 175.8h0.6v0.6h-0.6zM130.6 169.1h0.6v0.6h-0.6zM140.3 167.3h0.6v0.6h-0.6zM128.9 172.6h0.6v0.6h-0.6zM135.2 172.2h0.6v0.6h-0.6zM134 173.2h0.6v0.6h-0.6zM134.1 164.6h0.6v0.6h-0.6zM126.1 170.3h0.6v0.6h-0.6zM132.2 175h0.6v0.6h-0.6zM130.9 167.2h0.6v0.6h-0.6zM129.9 174.9h0.6v0.6h-0.6zM127.2 172.6h0.6v0.6h-0.6zM128.2 166h0.6v0.6h-0.6zM133.5 170.4h0.6v0.6h-0.6zM130.6 167.5h0.6v0.6h-0.6zM125.4 171.9h0.6v0.6h-0.6zM130.8 171.1h0.6v0.6h-0.6zM132.9 175.8h0.6v0.6h-0.6zM134.2 166.4h0.6v0.6h-0.6zM129.4 177.6h0.6v0.6h-0.6zM130.3 175.9h0.6v0.6h-0.6zM135.7 166.1h0.6v0.6h-0.6zM128.6 172.4h0.6v0.6h-0.6zM124.4 171.1h0.6v0.6h-0.6zM129.2 174.7h0.6v0.6h-0.6zM127.4 172.1h0.6v0.6h-0.6zM125.6 169.1h0.6v0.6h-0.6zM132.5 161.7h0.6v0.6h-0.6zM127.6 174.6h0.6v0.6h-0.6zM124.5 176.6h0.6v0.6h-0.6zM133.7 166.1h0.6v0.6h-0.6zM128.9 168.1h0.6v0.6h-0.6zM131.9 170.5h0.6v0.6h-0.6zM132.6 174.5h0.6v0.6h-0.6zM133.7 173.8h0.6v0.6h-0.6zM130.6 166.8h0.6v0.6h-0.6zM131.5 172.1h0.6v0.6h-0.6z" fill="#000" fill-opacity="0.45"/>
<ellipse cx="130" cy="172" rx="9" ry="5" transform="rotate(-25 130 172)" fill="#000" fill-opacity="0.35" filter="url(#b3)"/>
<ellipse cx="127" cy="173.5" rx="5.5" ry="3.5" transform="rotate(-30 127 173.5)" fill="#000" fill-opacity="1" filter="url(#b2)"/>
<path d="M109.6 133H169.2V182.5" fill="none" stroke="#222" stroke-width="0.9"/>
<path d="M109.6 133V182.5H169.2" fill="none" stroke="#000" stroke-width="1.4"/>
<text x="111.5" y="137.7" font-size="4.7" font-weight="normal" fill="#8c8c8c" text-anchor="start" >20.02%</text>
<text x="143" y="177.9" font-size="4.7" font-weight="normal" fill="#8c8c8c" text-anchor="start" >6.27%</text>
<line x1="108" y1="138.7" x2="109.6" y2="138.7" stroke="#000" stroke-width="0.9"/>
<text x="107.2" y="140.3" font-size="4.7" font-weight="normal" fill="#000" stroke="#000" stroke-width="0.18" text-anchor="end">10<tspan font-size="2.9" dy="-1.7">5</tspan></text>
<line x1="108" y1="150.1" x2="109.6" y2="150.1" stroke="#000" stroke-width="0.9"/>
<text x="107.2" y="151.7" font-size="4.7" font-weight="normal" fill="#000" stroke="#000" stroke-width="0.18" text-anchor="end">10<tspan font-size="2.9" dy="-1.7">4</tspan></text>
<line x1="108" y1="161.2" x2="109.6" y2="161.2" stroke="#000" stroke-width="0.9"/>
<text x="107.2" y="162.8" font-size="4.7" font-weight="normal" fill="#000" stroke="#000" stroke-width="0.18" text-anchor="end">10<tspan font-size="2.9" dy="-1.7">3</tspan></text>
<line x1="108" y1="172.8" x2="109.6" y2="172.8" stroke="#000" stroke-width="0.9"/>
<text x="107.2" y="174.4" font-size="4.7" font-weight="normal" fill="#000" stroke="#000" stroke-width="0.18" text-anchor="end">10<tspan font-size="2.9" dy="-1.7">2</tspan></text>
<line x1="108" y1="180.5" x2="109.6" y2="180.5" stroke="#000" stroke-width="0.9"/>
<text x="107.2" y="182.1" font-size="4.7" font-weight="normal" fill="#000" stroke="#000" stroke-width="0.18" text-anchor="end">-10<tspan font-size="2.9" dy="-1.7">2</tspan></text>
<line x1="119.7" y1="182.5" x2="119.7" y2="184.1" stroke="#000" stroke-width="0.9"/>
<text x="119.7" y="190.1" font-size="4.7" font-weight="normal" fill="#000" stroke="#000" stroke-width="0.18" text-anchor="middle">-10<tspan font-size="2.9" dy="-1.7">2</tspan></text>
<line x1="131.7" y1="182.5" x2="131.7" y2="184.1" stroke="#000" stroke-width="0.9"/>
<text x="131.7" y="190.1" font-size="4.7" font-weight="normal" fill="#000" stroke="#000" stroke-width="0.18" text-anchor="middle">10<tspan font-size="2.9" dy="-1.7">2</tspan></text>
<line x1="149.5" y1="182.5" x2="149.5" y2="184.1" stroke="#000" stroke-width="0.9"/>
<text x="149.5" y="190.1" font-size="4.7" font-weight="normal" fill="#000" stroke="#000" stroke-width="0.18" text-anchor="middle">10<tspan font-size="2.9" dy="-1.7">4</tspan></text>
<line x1="163.8" y1="182.5" x2="163.8" y2="184.1" stroke="#000" stroke-width="0.9"/>
<text x="163.8" y="190.1" font-size="4.7" font-weight="normal" fill="#000" stroke="#000" stroke-width="0.18" text-anchor="middle">10<tspan font-size="2.9" dy="-1.7">5</tspan></text>
<rect x="187.6" y="134.5" width="43.9" height="30.5" fill="none" stroke="#a6a6a6" stroke-width="0.9"/>
<rect x="215.5" y="142.1" width="14.8" height="30.6" fill="none" stroke="#a6a6a6" stroke-width="0.9"/>
<path d="M192.7 162.8h0.6v0.6h-0.6zM197.3 155.1h0.6v0.6h-0.6zM194.4 152.7h0.6v0.6h-0.6zM198 149.5h0.6v0.6h-0.6zM197.3 135.2h0.6v0.6h-0.6zM201.1 143.2h0.6v0.6h-0.6zM190.5 144.5h0.6v0.6h-0.6zM194.6 156.5h0.6v0.6h-0.6zM194.3 154.4h0.6v0.6h-0.6zM194.2 169.8h0.6v0.6h-0.6zM198.7 167.8h0.6v0.6h-0.6zM194 157.5h0.6v0.6h-0.6zM194.2 156.8h0.6v0.6h-0.6zM199.1 139.4h0.6v0.6h-0.6zM193.6 142.8h0.6v0.6h-0.6zM192.5 146.3h0.6v0.6h-0.6zM194.2 140.6h0.6v0.6h-0.6zM197.3 156.5h0.6v0.6h-0.6zM193.1 147.7h0.6v0.6h-0.6zM197.1 150.3h0.6v0.6h-0.6zM194.9 158.6h0.6v0.6h-0.6zM199.6 157.5h0.6v0.6h-0.6zM196.4 168h0.6v0.6h-0.6zM202.3 148.9h0.6v0.6h-0.6zM196.7 161.6h0.6v0.6h-0.6zM194.6 155.3h0.6v0.6h-0.6zM197.2 146.5h0.6v0.6h-0.6zM196.3 139.5h0.6v0.6h-0.6zM195.4 136.1h0.6v0.6h-0.6zM203.9 164.1h0.6v0.6h-0.6zM200.7 154.5h0.6v0.6h-0.6zM200 162.2h0.6v0.6h-0.6zM200.1 159.4h0.6v0.6h-0.6zM194.3 155.5h0.6v0.6h-0.6zM195.4 142.6h0.6v0.6h-0.6zM193.6 155.5h0.6v0.6h-0.6zM200.2 141.1h0.6v0.6h-0.6zM202.3 163.8h0.6v0.6h-0.6zM195.9 148.3h0.6v0.6h-0.6zM196.8 159.9h0.6v0.6h-0.6zM195.9 143.2h0.6v0.6h-0.6zM198 135.5h0.6v0.6h-0.6zM197.4 161.3h0.6v0.6h-0.6zM197.9 158.3h0.6v0.6h-0.6zM198.5 157.8h0.6v0.6h-0.6zM197.4 145.4h0.6v0.6h-0.6zM196.3 151.4h0.6v0.6h-0.6zM200.8 165h0.6v0.6h-0.6zM198.3 146h0.6v0.6h-0.6zM194.8 150.5h0.6v0.6h-0.6z" fill="#000" fill-opacity="0.3"/>
<path d="M199.6 144.3h0.6v0.6h-0.6zM197.4 143.2h0.6v0.6h-0.6zM198.8 144.3h0.6v0.6h-0.6zM197.4 144.1h0.6v0.6h-0.6zM200 143.8h0.6v0.6h-0.6zM200 145.2h0.6v0.6h-0.6zM197.6 144.9h0.6v0.6h-0.6zM197.3 143.2h0.6v0.6h-0.6zM197.1 143.1h0.6v0.6h-0.6zM198.3 144h0.6v0.6h-0.6zM198.4 144.8h0.6v0.6h-0.6zM192.8 144.3h0.6v0.6h-0.6z" fill="#000" fill-opacity="0.5"/>
<path d="M213 156.3h0.6v0.6h-0.6zM217.6 155.8h0.6v0.6h-0.6zM228.8 141.3h0.6v0.6h-0.6zM223 154.4h0.6v0.6h-0.6zM212.5 160.2h0.6v0.6h-0.6zM222.2 150.9h0.6v0.6h-0.6zM218.4 180.7h0.6v0.6h-0.6zM220 140.6h0.6v0.6h-0.6zM217.3 152.1h0.6v0.6h-0.6zM220.1 154.4h0.6v0.6h-0.6zM216.8 159.3h0.6v0.6h-0.6zM219.6 144.1h0.6v0.6h-0.6zM217.9 151.9h0.6v0.6h-0.6zM226.2 158.9h0.6v0.6h-0.6zM220.3 155.2h0.6v0.6h-0.6z" fill="#000" fill-opacity="0.2"/>
<path d="M199.3 180.5h0.6v0.6h-0.6zM192.2 175.6h0.6v0.6h-0.6zM202.5 169.7h0.6v0.6h-0.6zM198.6 173.9h0.6v0.6h-0.6zM193.4 175.8h0.6v0.6h-0.6zM205.5 176.7h0.6v0.6h-0.6zM195.5 174.3h0.6v0.6h-0.6zM215.4 168h0.6v0.6h-0.6zM199 176.4h0.6v0.6h-0.6zM198.4 175.7h0.6v0.6h-0.6zM198.6 176h0.6v0.6h-0.6zM207.2 171.8h0.6v0.6h-0.6zM198.6 173.2h0.6v0.6h-0.6zM193.8 173.7h0.6v0.6h-0.6zM188.2 176.9h0.6v0.6h-0.6zM211.1 178.3h0.6v0.6h-0.6zM206.9 169.2h0.6v0.6h-0.6zM208.9 169.9h0.6v0.6h-0.6zM197.1 180h0.6v0.6h-0.6zM188.7 177.2h0.6v0.6h-0.6zM199.2 172.8h0.6v0.6h-0.6zM190.1 175.6h0.6v0.6h-0.6zM193.6 177.5h0.6v0.6h-0.6zM206.3 167.8h0.6v0.6h-0.6zM192.9 172.7h0.6v0.6h-0.6zM187.2 170.4h0.6v0.6h-0.6zM197.6 172.7h0.6v0.6h-0.6zM183.7 172.8h0.6v0.6h-0.6zM200.8 168.9h0.6v0.6h-0.6zM190.1 179.7h0.6v0.6h-0.6zM207 166.9h0.6v0.6h-0.6zM186.3 175.8h0.6v0.6h-0.6zM187.4 173.4h0.6v0.6h-0.6zM193.6 175.8h0.6v0.6h-0.6zM187.5 177.9h0.6v0.6h-0.6zM195.2 167.7h0.6v0.6h-0.6zM201.1 175.6h0.6v0.6h-0.6zM194.9 172.5h0.6v0.6h-0.6zM200.9 177.4h0.6v0.6h-0.6zM198.4 175.3h0.6v0.6h-0.6zM196.5 172.2h0.6v0.6h-0.6zM189.8 175h0.6v0.6h-0.6zM194.5 172.9h0.6v0.6h-0.6zM204.6 174.6h0.6v0.6h-0.6zM203.5 167.4h0.6v0.6h-0.6zM201.3 171.1h0.6v0.6h-0.6zM190.3 171.1h0.6v0.6h-0.6zM206.9 175.5h0.6v0.6h-0.6zM190.9 170h0.6v0.6h-0.6zM197 171.9h0.6v0.6h-0.6zM209.8 167.2h0.6v0.6h-0.6zM182.3 173.9h0.6v0.6h-0.6zM197.1 174h0.6v0.6h-0.6zM203.6 180.2h0.6v0.6h-0.6zM194.1 171.8h0.6v0.6h-0.6zM183.1 175.6h0.6v0.6h-0.6zM203.7 172h0.6v0.6h-0.6zM206.4 172.8h0.6v0.6h-0.6zM209.2 173.6h0.6v0.6h-0.6zM188.4 172h0.6v0.6h-0.6zM184.2 168.5h0.6v0.6h-0.6zM199.4 176.3h0.6v0.6h-0.6zM212.6 171.9h0.6v0.6h-0.6zM194.8 169.8h0.6v0.6h-0.6zM205 174.2h0.6v0.6h-0.6zM192.5 176.3h0.6v0.6h-0.6zM200.9 166.6h0.6v0.6h-0.6zM203 173.5h0.6v0.6h-0.6zM193.8 172.3h0.6v0.6h-0.6zM211.4 177.6h0.6v0.6h-0.6zM211.2 168.2h0.6v0.6h-0.6zM192.1 177.1h0.6v0.6h-0.6zM187.1 171.8h0.6v0.6h-0.6zM183.2 181.2h0.6v0.6h-0.6zM205.6 174.4h0.6v0.6h-0.6zM198.6 171.9h0.6v0.6h-0.6zM194 175.9h0.6v0.6h-0.6zM191.7 178.3h0.6v0.6h-0.6zM192.8 170.8h0.6v0.6h-0.6zM207.3 172.1h0.6v0.6h-0.6zM201.3 171.7h0.6v0.6h-0.6zM186.6 178.2h0.6v0.6h-0.6zM184.1 168.1h0.6v0.6h-0.6zM199.6 174.8h0.6v0.6h-0.6zM197.5 169.2h0.6v0.6h-0.6zM203.6 167.8h0.6v0.6h-0.6zM193.1 171.1h0.6v0.6h-0.6zM194.3 176.7h0.6v0.6h-0.6zM192.1 175.9h0.6v0.6h-0.6zM202 167.1h0.6v0.6h-0.6zM187.6 173h0.6v0.6h-0.6zM192.4 175h0.6v0.6h-0.6zM181.8 177.4h0.6v0.6h-0.6zM202.9 172.4h0.6v0.6h-0.6zM186 174.5h0.6v0.6h-0.6zM192.9 175.9h0.6v0.6h-0.6zM196.5 176.1h0.6v0.6h-0.6zM194 178.8h0.6v0.6h-0.6zM200.5 167.9h0.6v0.6h-0.6zM202.5 168.7h0.6v0.6h-0.6zM197.5 170.2h0.6v0.6h-0.6zM193.5 174.4h0.6v0.6h-0.6zM196 172.2h0.6v0.6h-0.6zM214.2 172h0.6v0.6h-0.6zM189.6 177.4h0.6v0.6h-0.6zM203.9 177.2h0.6v0.6h-0.6zM211 169h0.6v0.6h-0.6zM205.8 176.7h0.6v0.6h-0.6zM197.1 174.4h0.6v0.6h-0.6zM210.7 166h0.6v0.6h-0.6zM192.8 174.9h0.6v0.6h-0.6zM202.1 178.8h0.6v0.6h-0.6zM183 174.9h0.6v0.6h-0.6zM203.5 168.3h0.6v0.6h-0.6zM197.3 180.1h0.6v0.6h-0.6zM207.7 174.5h0.6v0.6h-0.6z" fill="#000" fill-opacity="0.45"/>
<ellipse cx="197" cy="173.5" rx="11.5" ry="5.5" transform="rotate(-5 197 173.5)" fill="#000" fill-opacity="0.45" filter="url(#b3)"/>
<ellipse cx="196.5" cy="174" rx="8.5" ry="3.6" transform="rotate(-5 196.5 174)" fill="#000" fill-opacity="1" filter="url(#b2)"/>
<path d="M180 132H241.5V182.5" fill="none" stroke="#222" stroke-width="0.9"/>
<path d="M180 132V182.5H241.5" fill="none" stroke="#000" stroke-width="1.4"/>
<text x="182.5" y="138.5" font-size="4.7" font-weight="normal" fill="#8c8c8c" text-anchor="start" >8.62%</text>
<text x="217.3" y="179" font-size="4.7" font-weight="normal" fill="#8c8c8c" text-anchor="start" >0.71%</text>
<line x1="178.4" y1="137.8" x2="180" y2="137.8" stroke="#000" stroke-width="0.9"/>
<text x="177.6" y="139.4" font-size="4.7" font-weight="normal" fill="#000" stroke="#000" stroke-width="0.18" text-anchor="end">10<tspan font-size="2.9" dy="-1.7">5</tspan></text>
<line x1="178.4" y1="149.4" x2="180" y2="149.4" stroke="#000" stroke-width="0.9"/>
<text x="177.6" y="151" font-size="4.7" font-weight="normal" fill="#000" stroke="#000" stroke-width="0.18" text-anchor="end">10<tspan font-size="2.9" dy="-1.7">4</tspan></text>
<line x1="178.4" y1="160.8" x2="180" y2="160.8" stroke="#000" stroke-width="0.9"/>
<text x="177.6" y="162.4" font-size="4.7" font-weight="normal" fill="#000" stroke="#000" stroke-width="0.18" text-anchor="end">10<tspan font-size="2.9" dy="-1.7">3</tspan></text>
<line x1="178.4" y1="172.7" x2="180" y2="172.7" stroke="#000" stroke-width="0.9"/>
<text x="177.6" y="174.3" font-size="4.7" font-weight="normal" fill="#000" stroke="#000" stroke-width="0.18" text-anchor="end">10<tspan font-size="2.9" dy="-1.7">2</tspan></text>
<line x1="178.4" y1="180.5" x2="180" y2="180.5" stroke="#000" stroke-width="0.9"/>
<text x="177.6" y="182.1" font-size="4.7" font-weight="normal" fill="#000" stroke="#000" stroke-width="0.18" text-anchor="end">-10<tspan font-size="2.9" dy="-1.7">2</tspan></text>
<line x1="182.5" y1="182.5" x2="182.5" y2="184.1" stroke="#000" stroke-width="0.9"/>
<text x="182.5" y="190.1" font-size="4.7" font-weight="normal" fill="#000" stroke="#000" stroke-width="0.18" text-anchor="middle">-10<tspan font-size="2.9" dy="-1.7">3</tspan></text>
<line x1="207.6" y1="182.5" x2="207.6" y2="184.1" stroke="#000" stroke-width="0.9"/>
<text x="207.6" y="190.1" font-size="4.7" font-weight="normal" fill="#000" stroke="#000" stroke-width="0.18" text-anchor="middle">10<tspan font-size="2.9" dy="-1.7">2</tspan></text>
<line x1="224" y1="182.5" x2="224" y2="184.1" stroke="#000" stroke-width="0.9"/>
<text x="224" y="190.1" font-size="4.7" font-weight="normal" fill="#000" stroke="#000" stroke-width="0.18" text-anchor="middle">10<tspan font-size="2.9" dy="-1.7">4</tspan></text>
<line x1="237.8" y1="182.5" x2="237.8" y2="184.1" stroke="#000" stroke-width="0.9"/>
<text x="237.8" y="190.1" font-size="4.7" font-weight="normal" fill="#000" stroke="#000" stroke-width="0.18" text-anchor="middle">10<tspan font-size="2.9" dy="-1.7">5</tspan></text>
<text x="1.6" y="227.5" font-size="10.8" font-weight="bold" fill="#000" text-anchor="start" textLength="7.5" lengthAdjust="spacingAndGlyphs">B</text>
<text transform="translate(7.6 291.2) rotate(-90)" font-size="7.4" font-weight="bold" text-anchor="middle" stroke="#000" stroke-width="0.2" textLength="21.3" lengthAdjust="spacingAndGlyphs">Count</text>
<line x1="15.5" y1="339.5" x2="15.5" y2="258" stroke="#333" stroke-width="1" marker-end="url(#ah)"/>
<line x1="25" y1="360.2" x2="244" y2="360.2" stroke="#333" stroke-width="1" marker-end="url(#ah)"/>
<text x="118.4" y="372.1" font-size="7.2" font-weight="bold" fill="#000" text-anchor="start" textLength="21.4" lengthAdjust="spacingAndGlyphs" stroke="#000" stroke-width="0.2">CD103</text>
<text x="52.7" y="225" font-size="6.5" font-weight="bold" fill="#000" text-anchor="start" textLength="18.8" lengthAdjust="spacingAndGlyphs" stroke="#000" stroke-width="0.28">wt fed</text>
<text x="114" y="224.8" font-size="6.4" font-weight="bold" fill="#000" text-anchor="start" textLength="21.7" lengthAdjust="spacingAndGlyphs" stroke="#000" stroke-width="0.28">F.IX fed</text>
<text x="180" y="224.6" font-size="6.4" font-weight="bold" fill="#000" text-anchor="start" textLength="58.6" lengthAdjust="spacingAndGlyphs" stroke="#000" stroke-width="0.28">F.IX fed no injection</text>
<text x="252.7" y="265.4" font-size="7.3" font-weight="bold" fill="#000" text-anchor="start" textLength="13.6" lengthAdjust="spacingAndGlyphs" stroke="#000" stroke-width="0.35">MLN</text>
<text x="252.8" y="326.8" font-size="7" font-weight="bold" fill="#000" text-anchor="start" textLength="7.6" lengthAdjust="spacingAndGlyphs" stroke="#000" stroke-width="0.35">PP</text>
<path d="M28.3 229.5H94V279.5" fill="none" stroke="#999" stroke-width="0.6"/>
<path d="M33 279.5 L33.6 274.6 L34.2 270.3 L34.8 264.8 L35.4 260.3 L36 258.6 L36.6 250.5 L37.2 245 L37.8 241.4 L38.4 236.1 L39 231.3 L39.6 231.9 L40.2 235.8 L40.8 238.2 L41.4 239.8 L42 243.7 L42.6 247.2 L43.2 249.1 L43.8 253.5 L44.4 255.5 L45 256.1 L45.6 259.7 L46.2 263.7 L46.8 264.5 L47.4 264.1 L48 266.3 L48.6 265.9 L49.2 266.3 L49.8 268.9 L50.4 268.9 L51 269.6 L51.6 269.4 L52.2 270.2 L52.8 269.7 L53.4 271.1 L54 271.8 L54.6 271.2 L55.2 272.4 L55.8 270.1 L56.4 271.4 L57 273.9 L57.6 274.6 L58.2 273.4 L58.8 273.3 L59.4 272.6 L60 274.6 L60.6 275.4 L61.2 273.6 L61.8 276 L62.4 276.4 L63 276.7 L63.6 275.4 L64.2 277.3 L64.8 275.5 L65.4 278.7 L66 277.6 L66.6 276.5 L67.2 279.2 L67.8 279.3 L68.4 277.6 L69 279.5 L69.6 277.5 L70.2 278.6 L70.8 278.7 L71.4 278.8 L72 278.9 L72.6 279.1 L73.2 279.2 L73.8 279.3 L74.4 279.4 L75 279.5 L75 279.5 L74.4 279.4 L73.8 279.3 L73.2 279.2 L72.6 279.1 L72 278.9 L71.4 278.8 L70.8 278.7 L70.2 278.6 L69.6 279.5 L69 279.5 L68.4 279.5 L67.8 279.5 L67.2 279.3 L66.6 278.9 L66 279.5 L65.4 279.5 L64.8 279.5 L64.2 278.8 L63.6 279.5 L63 278.7 L62.4 279.3 L61.8 278.2 L61.2 276.7 L60.6 276.4 L60 276.5 L59.4 275.4 L58.8 274.5 L58.2 277.6 L57.6 274.6 L57 274.9 L56.4 274.1 L55.8 274 L55.2 274.4 L54.6 273.1 L54 275.9 L53.4 274.3 L52.8 271.2 L52.2 271.1 L51.6 275.1 L51 269.8 L50.4 270.2 L49.8 269.2 L49.2 267.3 L48.6 268.8 L48 266.3 L47.4 264.1 L46.8 264.5 L46.2 263.7 L45.6 259.7 L45 256.1 L44.4 255.5 L43.8 253.5 L43.2 249.7 L42.6 247.2 L42 243.7 L41.4 239.8 L40.8 238.2 L40.2 235.8 L39.6 240.5 L39 245.1 L38.4 251.1 L37.8 255.9 L37.2 258.8 L36.6 264.3 L36 270.1 L35.4 276.3 L34.8 279.5 L34.2 279.5 L33.6 279.5 L33 279.5z" fill="#888" fill-opacity="0.75" stroke="#666" stroke-width="0.5"/>
<path d="M33 279.5 L33.6 274.6 L34.2 270.3 L34.8 264.8 L35.4 260.3 L36 258.6 L36.6 250.5 L37.2 245 L37.8 241.4 L38.4 236.1 L39 231.3 L39.6 231.9 L40.2 235.8 L40.8 238.2 L41.4 239.8 L42 243.7 L42.6 247.2 L43.2 249.1 L43.8 253.5 L44.4 255.5 L45 256.1 L45.6 259.7 L46.2 263.7 L46.8 264.5 L47.4 264.1 L48 266.3 L48.6 265.9 L49.2 266.3 L49.8 268.9 L50.4 268.9 L51 269.6 L51.6 269.4 L52.2 270.2 L52.8 269.7 L53.4 271.1 L54 271.8 L54.6 271.2 L55.2 272.4 L55.8 270.1 L56.4 271.4 L57 273.9 L57.6 274.6 L58.2 273.4 L58.8 273.3 L59.4 272.6 L60 274.6 L60.6 275.4 L61.2 273.6 L61.8 276 L62.4 276.4 L63 276.7 L63.6 275.4 L64.2 277.3 L64.8 275.5 L65.4 278.7 L66 277.6 L66.6 276.5 L67.2 279.2 L67.8 279.3 L68.4 277.6 L69 279.5 L69.6 277.5 L70.2 278.6 L70.8 278.7 L71.4 278.8 L72 278.9 L72.6 279.1 L73.2 279.2 L73.8 279.3 L74.4 279.4 L75 279.5" fill="none" stroke="#222" stroke-width="0.7" stroke-linejoin="round"/>
<path d="M28.3 229.5V279.5H94" fill="none" stroke="#000" stroke-width="1.1"/>
<line x1="26.8" y1="230.8" x2="28.3" y2="230.8" stroke="#111" stroke-width="0.7"/>
<text x="24.7" y="232.5" font-size="4.8" font-weight="bold" fill="#222" text-anchor="end" >27</text>
<line x1="26.8" y1="243" x2="28.3" y2="243" stroke="#111" stroke-width="0.7"/>
<text x="24.7" y="244.7" font-size="4.8" font-weight="bold" fill="#222" text-anchor="end" >20</text>
<line x1="26.8" y1="255.2" x2="28.3" y2="255.2" stroke="#111" stroke-width="0.7"/>
<text x="24.7" y="256.9" font-size="4.8" font-weight="bold" fill="#222" text-anchor="end" >13</text>
<line x1="26.8" y1="267.3" x2="28.3" y2="267.3" stroke="#111" stroke-width="0.7"/>
<text x="24.7" y="269" font-size="4.8" font-weight="bold" fill="#222" text-anchor="end" >7</text>
<line x1="26.8" y1="279.5" x2="28.3" y2="279.5" stroke="#111" stroke-width="0.7"/>
<text x="24.7" y="281.2" font-size="4.8" font-weight="bold" fill="#222" text-anchor="end" >0</text>
<line x1="34.9" y1="279.5" x2="34.9" y2="281" stroke="#111" stroke-width="0.7"/>
<text x="34.9" y="287.1" font-size="4.6" font-weight="normal" fill="#000" stroke="#000" stroke-width="0.18" text-anchor="middle">-10<tspan font-size="2.9" dy="-1.7">2</tspan></text>
<line x1="45.4" y1="279.5" x2="45.4" y2="281" stroke="#111" stroke-width="0.7"/>
<text x="45.4" y="287.1" font-size="4.6" font-weight="normal" fill="#000" stroke="#000" stroke-width="0.18" text-anchor="middle">10<tspan font-size="2.9" dy="-1.7">2</tspan></text>
<line x1="59.2" y1="279.5" x2="59.2" y2="281" stroke="#111" stroke-width="0.7"/>
<text x="59.2" y="287.1" font-size="4.6" font-weight="normal" fill="#000" stroke="#000" stroke-width="0.18" text-anchor="middle">10<tspan font-size="2.9" dy="-1.7">3</tspan></text>
<line x1="74.9" y1="279.5" x2="74.9" y2="281" stroke="#111" stroke-width="0.7"/>
<text x="74.9" y="287.1" font-size="4.6" font-weight="normal" fill="#000" stroke="#000" stroke-width="0.18" text-anchor="middle">10<tspan font-size="2.9" dy="-1.7">4</tspan></text>
<line x1="89.4" y1="279.5" x2="89.4" y2="281" stroke="#111" stroke-width="0.7"/>
<text x="89.4" y="287.1" font-size="4.6" font-weight="normal" fill="#000" stroke="#000" stroke-width="0.18" text-anchor="middle">10<tspan font-size="2.9" dy="-1.7">5</tspan></text>
<path d="M53 261H93.6M53 258V264M93.6 258V264" stroke="#222" stroke-width="1.4" fill="none"/>
<text x="74.3" y="254.4" font-size="4.9" font-weight="normal" fill="#444" text-anchor="middle" >15.85</text>
<path d="M104.3 229.4H166.8V278.8" fill="none" stroke="#999" stroke-width="0.6"/>
<path d="M109.5 278.8 L110.1 274.3 L110.7 268.6 L111.3 263.2 L111.9 258.7 L112.5 254.7 L113.1 247.8 L113.7 245.1 L114.3 240.2 L114.9 236.1 L115.5 234 L116.1 237 L116.7 238.8 L117.3 242.6 L117.9 245 L118.5 250.6 L119.1 255.5 L119.7 257.6 L120.3 261 L120.9 262.8 L121.5 268 L122.1 267 L122.7 269.8 L123.3 270.3 L123.9 270.1 L124.5 272.4 L125.1 271.7 L125.7 272.2 L126.3 272.8 L126.9 272.6 L127.5 272.6 L128.1 273.7 L128.7 273.1 L129.3 273.9 L129.9 273.4 L130.5 272.9 L131.1 274 L131.7 274.5 L132.3 275.1 L132.9 276.4 L133.5 273.7 L134.1 275.7 L134.7 273.4 L135.3 274 L135.9 274 L136.5 271.7 L137.1 271.5 L137.7 272.9 L138.3 272.1 L138.9 270.9 L139.5 269.2 L140.1 271.2 L140.7 267.8 L141.3 266.1 L141.9 267.7 L142.5 265.6 L143.1 263.6 L143.7 266.4 L144.3 266.6 L144.9 268.4 L145.5 269.2 L146.1 269.2 L146.7 272.8 L147.3 273.5 L147.9 273.9 L148.5 275.7 L149.1 278 L149.1 278 L148.5 278.8 L147.9 275.2 L147.3 275.9 L146.7 274.1 L146.1 270 L145.5 271.2 L144.9 268.4 L144.3 270.3 L143.7 270.6 L143.1 272.6 L142.5 274.3 L141.9 273.8 L141.3 271.2 L140.7 273.4 L140.1 274.7 L139.5 274.7 L138.9 274.8 L138.3 275.2 L137.7 277 L137.1 278.8 L136.5 277.5 L135.9 278.4 L135.3 278.2 L134.7 277.3 L134.1 277.6 L133.5 278.3 L132.9 277.4 L132.3 278.8 L131.7 278.7 L131.1 278.1 L130.5 278.2 L129.9 278.8 L129.3 277.2 L128.7 275.3 L128.1 275.6 L127.5 274.8 L126.9 274.6 L126.3 275 L125.7 274.7 L125.1 273.6 L124.5 273.1 L123.9 271.5 L123.3 272.3 L122.7 269.8 L122.1 267 L121.5 268 L120.9 262.8 L120.3 261 L119.7 257.6 L119.1 255.5 L118.5 250.6 L117.9 245 L117.3 242.6 L116.7 238.8 L116.1 242.4 L115.5 245.3 L114.9 249.1 L114.3 257 L113.7 260 L113.1 265 L112.5 269.1 L111.9 276 L111.3 277.5 L110.7 278.8 L110.1 278.8 L109.5 278.8z" fill="#888" fill-opacity="0.75" stroke="#666" stroke-width="0.5"/>
<path d="M109.5 278.8 L110.1 274.3 L110.7 268.6 L111.3 263.2 L111.9 258.7 L112.5 254.7 L113.1 247.8 L113.7 245.1 L114.3 240.2 L114.9 236.1 L115.5 234 L116.1 237 L116.7 238.8 L117.3 242.6 L117.9 245 L118.5 250.6 L119.1 255.5 L119.7 257.6 L120.3 261 L120.9 262.8 L121.5 268 L122.1 267 L122.7 269.8 L123.3 270.3 L123.9 270.1 L124.5 272.4 L125.1 271.7 L125.7 272.2 L126.3 272.8 L126.9 272.6 L127.5 272.6 L128.1 273.7 L128.7 273.1 L129.3 273.9 L129.9 273.4 L130.5 272.9 L131.1 274 L131.7 274.5 L132.3 275.1 L132.9 276.4 L133.5 273.7 L134.1 275.7 L134.7 273.4 L135.3 274 L135.9 274 L136.5 271.7 L137.1 271.5 L137.7 272.9 L138.3 272.1 L138.9 270.9 L139.5 269.2 L140.1 271.2 L140.7 267.8 L141.3 266.1 L141.9 267.7 L142.5 265.6 L143.1 263.6 L143.7 266.4 L144.3 266.6 L144.9 268.4 L145.5 269.2 L146.1 269.2 L146.7 272.8 L147.3 273.5 L147.9 273.9 L148.5 275.7 L149.1 278" fill="none" stroke="#222" stroke-width="0.7" stroke-linejoin="round"/>
<path d="M104.3 229.4V278.8H166.8" fill="none" stroke="#000" stroke-width="1.1"/>
<line x1="102.8" y1="230.7" x2="104.3" y2="230.7" stroke="#111" stroke-width="0.7"/>
<text x="100.7" y="232.4" font-size="4.8" font-weight="bold" fill="#222" text-anchor="end" >25</text>
<line x1="102.8" y1="242.7" x2="104.3" y2="242.7" stroke="#111" stroke-width="0.7"/>
<text x="100.7" y="244.4" font-size="4.8" font-weight="bold" fill="#222" text-anchor="end" >19</text>
<line x1="102.8" y1="254.8" x2="104.3" y2="254.8" stroke="#111" stroke-width="0.7"/>
<text x="100.7" y="256.5" font-size="4.8" font-weight="bold" fill="#222" text-anchor="end" >12</text>
<line x1="102.8" y1="266.8" x2="104.3" y2="266.8" stroke="#111" stroke-width="0.7"/>
<text x="100.7" y="268.5" font-size="4.8" font-weight="bold" fill="#222" text-anchor="end" >6</text>
<line x1="102.8" y1="278.8" x2="104.3" y2="278.8" stroke="#111" stroke-width="0.7"/>
<text x="100.7" y="280.5" font-size="4.8" font-weight="bold" fill="#222" text-anchor="end" >0</text>
<line x1="110.5" y1="278.8" x2="110.5" y2="280.3" stroke="#111" stroke-width="0.7"/>
<text x="110.5" y="286.4" font-size="4.6" font-weight="normal" fill="#000" stroke="#000" stroke-width="0.18" text-anchor="middle">-10<tspan font-size="2.9" dy="-1.7">2</tspan></text>
<line x1="120.5" y1="278.8" x2="120.5" y2="280.3" stroke="#111" stroke-width="0.7"/>
<text x="120.5" y="286.4" font-size="4.6" font-weight="normal" fill="#000" stroke="#000" stroke-width="0.18" text-anchor="middle">10<tspan font-size="2.9" dy="-1.7">2</tspan></text>
<line x1="133.7" y1="278.8" x2="133.7" y2="280.3" stroke="#111" stroke-width="0.7"/>
<text x="133.7" y="286.4" font-size="4.6" font-weight="normal" fill="#000" stroke="#000" stroke-width="0.18" text-anchor="middle">10<tspan font-size="2.9" dy="-1.7">3</tspan></text>
<line x1="148.7" y1="278.8" x2="148.7" y2="280.3" stroke="#111" stroke-width="0.7"/>
<text x="148.7" y="286.4" font-size="4.6" font-weight="normal" fill="#000" stroke="#000" stroke-width="0.18" text-anchor="middle">10<tspan font-size="2.9" dy="-1.7">4</tspan></text>
<line x1="162.4" y1="278.8" x2="162.4" y2="280.3" stroke="#111" stroke-width="0.7"/>
<text x="162.4" y="286.4" font-size="4.6" font-weight="normal" fill="#000" stroke="#000" stroke-width="0.18" text-anchor="middle">10<tspan font-size="2.9" dy="-1.7">5</tspan></text>
<path d="M128.4 261H167M128.4 258V264M167 258V264" stroke="#222" stroke-width="1.4" fill="none"/>
<text x="148.7" y="254.4" font-size="4.9" font-weight="normal" fill="#444" text-anchor="middle" >31.44</text>
<path d="M179.6 230.3H243.5V278.4" fill="none" stroke="#999" stroke-width="0.6"/>
<path d="M183.5 278.4 L184.1 275.8 L184.7 271.7 L185.3 267.7 L185.9 264.6 L186.5 265.1 L187.1 259.1 L187.7 256.3 L188.3 251.8 L188.9 248.7 L189.5 244.5 L190.1 240.8 L190.7 238.2 L191.3 236.2 L191.9 235.1 L192.5 234.3 L193.1 234.3 L193.7 234.9 L194.3 237.3 L194.9 237.6 L195.5 238.8 L196.1 240.4 L196.7 244.6 L197.3 245.3 L197.9 249.7 L198.5 253.5 L199.1 254.1 L199.7 256.9 L200.3 257.2 L200.9 257.8 L201.5 260.4 L202.1 262.1 L202.7 265.1 L203.3 267.1 L203.9 265.6 L204.5 267.3 L205.1 267.6 L205.7 267 L206.3 265.7 L206.9 266.6 L207.5 266.8 L208.1 266.8 L208.7 265.2 L209.3 266.3 L209.9 265.2 L210.5 268.4 L211.1 267.1 L211.7 268.5 L212.3 269.3 L212.9 270.2 L213.5 270.7 L214.1 271.1 L214.7 275.6 L215.3 274.8 L215.9 275.5 L216.5 278 L217.1 276.5 L217.7 277.9 L218.3 277.9 L218.3 277.9 L217.7 278.4 L217.1 278.4 L216.5 278 L215.9 277.8 L215.3 278.4 L214.7 275.6 L214.1 273.8 L213.5 274 L212.9 272.7 L212.3 270.9 L211.7 273.1 L211.1 269.7 L210.5 269.5 L209.9 272 L209.3 268.2 L208.7 272.8 L208.1 270.8 L207.5 269.5 L206.9 276.4 L206.3 272.1 L205.7 270 L205.1 271 L204.5 267.3 L203.9 265.6 L203.3 267.1 L202.7 265.1 L202.1 264.3 L201.5 260.5 L200.9 258 L200.3 257.2 L199.7 256.9 L199.1 254.1 L198.5 253.5 L197.9 249.7 L197.3 247.6 L196.7 244.6 L196.1 240.4 L195.5 238.8 L194.9 237.6 L194.3 237.3 L193.7 240.5 L193.1 239 L192.5 243.7 L191.9 242.7 L191.3 244.4 L190.7 249.6 L190.1 253.3 L189.5 260 L188.9 259.7 L188.3 263.2 L187.7 265.6 L187.1 273.4 L186.5 274.5 L185.9 275.5 L185.3 278.4 L184.7 278.4 L184.1 278.4 L183.5 278.4z" fill="#888" fill-opacity="0.75" stroke="#666" stroke-width="0.5"/>
<path d="M183.5 278.4 L184.1 275.8 L184.7 271.7 L185.3 267.7 L185.9 264.6 L186.5 265.1 L187.1 259.1 L187.7 256.3 L188.3 251.8 L188.9 248.7 L189.5 244.5 L190.1 240.8 L190.7 238.2 L191.3 236.2 L191.9 235.1 L192.5 234.3 L193.1 234.3 L193.7 234.9 L194.3 237.3 L194.9 237.6 L195.5 238.8 L196.1 240.4 L196.7 244.6 L197.3 245.3 L197.9 249.7 L198.5 253.5 L199.1 254.1 L199.7 256.9 L200.3 257.2 L200.9 257.8 L201.5 260.4 L202.1 262.1 L202.7 265.1 L203.3 267.1 L203.9 265.6 L204.5 267.3 L205.1 267.6 L205.7 267 L206.3 265.7 L206.9 266.6 L207.5 266.8 L208.1 266.8 L208.7 265.2 L209.3 266.3 L209.9 265.2 L210.5 268.4 L211.1 267.1 L211.7 268.5 L212.3 269.3 L212.9 270.2 L213.5 270.7 L214.1 271.1 L214.7 275.6 L215.3 274.8 L215.9 275.5 L216.5 278 L217.1 276.5 L217.7 277.9 L218.3 277.9" fill="none" stroke="#222" stroke-width="0.7" stroke-linejoin="round"/>
<path d="M179.6 230.3V278.4H243.5" fill="none" stroke="#000" stroke-width="1.1"/>
<line x1="178.1" y1="231.6" x2="179.6" y2="231.6" stroke="#111" stroke-width="0.7"/>
<text x="176" y="233.3" font-size="4.8" font-weight="bold" fill="#222" text-anchor="end" >26</text>
<line x1="178.1" y1="243.3" x2="179.6" y2="243.3" stroke="#111" stroke-width="0.7"/>
<text x="176" y="245" font-size="4.8" font-weight="bold" fill="#222" text-anchor="end" >19</text>
<line x1="178.1" y1="255" x2="179.6" y2="255" stroke="#111" stroke-width="0.7"/>
<text x="176" y="256.7" font-size="4.8" font-weight="bold" fill="#222" text-anchor="end" >13</text>
<line x1="178.1" y1="266.7" x2="179.6" y2="266.7" stroke="#111" stroke-width="0.7"/>
<text x="176" y="268.4" font-size="4.8" font-weight="bold" fill="#222" text-anchor="end" >6</text>
<line x1="178.1" y1="278.4" x2="179.6" y2="278.4" stroke="#111" stroke-width="0.7"/>
<text x="176" y="280.1" font-size="4.8" font-weight="bold" fill="#222" text-anchor="end" >0</text>
<line x1="186" y1="278.4" x2="186" y2="279.9" stroke="#111" stroke-width="0.7"/>
<text x="186" y="286" font-size="4.6" font-weight="normal" fill="#000" stroke="#000" stroke-width="0.18" text-anchor="middle">-10<tspan font-size="2.9" dy="-1.7">2</tspan></text>
<line x1="196.2" y1="278.4" x2="196.2" y2="279.9" stroke="#111" stroke-width="0.7"/>
<text x="196.2" y="286" font-size="4.6" font-weight="normal" fill="#000" stroke="#000" stroke-width="0.18" text-anchor="middle">10<tspan font-size="2.9" dy="-1.7">2</tspan></text>
<line x1="209.6" y1="278.4" x2="209.6" y2="279.9" stroke="#111" stroke-width="0.7"/>
<text x="209.6" y="286" font-size="4.6" font-weight="normal" fill="#000" stroke="#000" stroke-width="0.18" text-anchor="middle">10<tspan font-size="2.9" dy="-1.7">3</tspan></text>
<line x1="225" y1="278.4" x2="225" y2="279.9" stroke="#111" stroke-width="0.7"/>
<text x="225" y="286" font-size="4.6" font-weight="normal" fill="#000" stroke="#000" stroke-width="0.18" text-anchor="middle">10<tspan font-size="2.9" dy="-1.7">4</tspan></text>
<line x1="239" y1="278.4" x2="239" y2="279.9" stroke="#111" stroke-width="0.7"/>
<text x="239" y="286" font-size="4.6" font-weight="normal" fill="#000" stroke="#000" stroke-width="0.18" text-anchor="middle">10<tspan font-size="2.9" dy="-1.7">5</tspan></text>
<path d="M203.6 261.4H243.8M203.6 258.4V264.4M243.8 258.4V264.4" stroke="#222" stroke-width="1.4" fill="none"/>
<text x="224.7" y="254.8" font-size="4.9" font-weight="normal" fill="#444" text-anchor="middle" >22.48</text>
<path d="M28.3 293.9H94.3V344.3" fill="none" stroke="#999" stroke-width="0.6"/>
<path d="M33 344.3 L33.6 343.1 L34.2 341.4 L34.8 340.3 L35.4 335.8 L36 338.7 L36.6 337.1 L37.2 331.1 L37.8 324.8 L38.4 318.5 L39 313.1 L39.6 304.1 L40.2 301.2 L40.8 308.2 L41.4 314.5 L42 317.6 L42.6 319.2 L43.2 319.8 L43.8 324 L44.4 328.7 L45 329.9 L45.6 330.2 L46.2 331.3 L46.8 331.2 L47.4 332 L48 334.2 L48.6 332.4 L49.2 338.3 L49.8 334.2 L50.4 336.8 L51 335 L51.6 336 L52.2 335.3 L52.8 334.8 L53.4 338.8 L54 338.3 L54.6 337.7 L55.2 337 L55.8 337.8 L56.4 336.9 L57 335.4 L57.6 333.5 L58.2 336 L58.8 337.5 L59.4 340.8 L60 338.4 L60.6 337.5 L61.2 339.2 L61.8 337.1 L62.4 337 L63 337 L63.6 334.1 L64.2 337.2 L64.8 335.8 L65.4 334.2 L66 332.3 L66.6 334.3 L67.2 337.3 L67.8 335.4 L68.4 336 L69 339.4 L69.6 337.5 L70.2 337.5 L70.8 341 L71.4 341.6 L72 343.4 L72.6 344.3 L72.6 344.3 L72 343.4 L71.4 344.3 L70.8 344.3 L70.2 344.3 L69.6 340.6 L69 339.4 L68.4 337.2 L67.8 337.4 L67.2 340.3 L66.6 338.5 L66 344.3 L65.4 339 L64.8 341.8 L64.2 338.5 L63.6 342.6 L63 340.3 L62.4 343.6 L61.8 340.1 L61.2 342.1 L60.6 343.8 L60 344.3 L59.4 341.2 L58.8 339.5 L58.2 340.8 L57.6 338.3 L57 339.2 L56.4 338.8 L55.8 339.5 L55.2 341.5 L54.6 343.5 L54 344.3 L53.4 338.8 L52.8 340.2 L52.2 337.2 L51.6 341.8 L51 338.5 L50.4 340.6 L49.8 339.4 L49.2 341.1 L48.6 336.9 L48 337 L47.4 335.4 L46.8 331.3 L46.2 332.3 L45.6 332.8 L45 329.9 L44.4 328.7 L43.8 324 L43.2 320.5 L42.6 319.2 L42 317.6 L41.4 314.5 L40.8 312.7 L40.2 320.3 L39.6 322.8 L39 329.6 L38.4 338 L37.8 344.3 L37.2 341.9 L36.6 344.1 L36 344.3 L35.4 344.3 L34.8 344.3 L34.2 344.3 L33.6 344.3 L33 344.3z" fill="#888" fill-opacity="0.75" stroke="#666" stroke-width="0.5"/>
<path d="M33 344.3 L33.6 343.1 L34.2 341.4 L34.8 340.3 L35.4 335.8 L36 338.7 L36.6 337.1 L37.2 331.1 L37.8 324.8 L38.4 318.5 L39 313.1 L39.6 304.1 L40.2 301.2 L40.8 308.2 L41.4 314.5 L42 317.6 L42.6 319.2 L43.2 319.8 L43.8 324 L44.4 328.7 L45 329.9 L45.6 330.2 L46.2 331.3 L46.8 331.2 L47.4 332 L48 334.2 L48.6 332.4 L49.2 338.3 L49.8 334.2 L50.4 336.8 L51 335 L51.6 336 L52.2 335.3 L52.8 334.8 L53.4 338.8 L54 338.3 L54.6 337.7 L55.2 337 L55.8 337.8 L56.4 336.9 L57 335.4 L57.6 333.5 L58.2 336 L58.8 337.5 L59.4 340.8 L60 338.4 L60.6 337.5 L61.2 339.2 L61.8 337.1 L62.4 337 L63 337 L63.6 334.1 L64.2 337.2 L64.8 335.8 L65.4 334.2 L66 332.3 L66.6 334.3 L67.2 337.3 L67.8 335.4 L68.4 336 L69 339.4 L69.6 337.5 L70.2 337.5 L70.8 341 L71.4 341.6 L72 343.4 L72.6 344.3" fill="none" stroke="#222" stroke-width="0.7" stroke-linejoin="round"/>
<path d="M28.3 293.9V344.3H94.3" fill="none" stroke="#000" stroke-width="1.1"/>
<line x1="26.8" y1="295.2" x2="28.3" y2="295.2" stroke="#111" stroke-width="0.7"/>
<text x="24.7" y="296.9" font-size="4.8" font-weight="bold" fill="#222" text-anchor="end" >6</text>
<line x1="26.8" y1="307.5" x2="28.3" y2="307.5" stroke="#111" stroke-width="0.7"/>
<text x="24.7" y="309.2" font-size="4.8" font-weight="bold" fill="#222" text-anchor="end" >5</text>
<line x1="26.8" y1="319.8" x2="28.3" y2="319.8" stroke="#111" stroke-width="0.7"/>
<text x="24.7" y="321.4" font-size="4.8" font-weight="bold" fill="#222" text-anchor="end" >3</text>
<line x1="26.8" y1="332" x2="28.3" y2="332" stroke="#111" stroke-width="0.7"/>
<text x="24.7" y="333.7" font-size="4.8" font-weight="bold" fill="#222" text-anchor="end" >2</text>
<line x1="26.8" y1="344.3" x2="28.3" y2="344.3" stroke="#111" stroke-width="0.7"/>
<text x="24.7" y="346" font-size="4.8" font-weight="bold" fill="#222" text-anchor="end" >0</text>
<line x1="34.9" y1="344.3" x2="34.9" y2="345.8" stroke="#111" stroke-width="0.7"/>
<text x="34.9" y="351.9" font-size="4.6" font-weight="normal" fill="#000" stroke="#000" stroke-width="0.18" text-anchor="middle">-10<tspan font-size="2.9" dy="-1.7">2</tspan></text>
<line x1="45.5" y1="344.3" x2="45.5" y2="345.8" stroke="#111" stroke-width="0.7"/>
<text x="45.5" y="351.9" font-size="4.6" font-weight="normal" fill="#000" stroke="#000" stroke-width="0.18" text-anchor="middle">10<tspan font-size="2.9" dy="-1.7">2</tspan></text>
<line x1="59.3" y1="344.3" x2="59.3" y2="345.8" stroke="#111" stroke-width="0.7"/>
<text x="59.3" y="351.9" font-size="4.6" font-weight="normal" fill="#000" stroke="#000" stroke-width="0.18" text-anchor="middle">10<tspan font-size="2.9" dy="-1.7">3</tspan></text>
<line x1="75.2" y1="344.3" x2="75.2" y2="345.8" stroke="#111" stroke-width="0.7"/>
<text x="75.2" y="351.9" font-size="4.6" font-weight="normal" fill="#000" stroke="#000" stroke-width="0.18" text-anchor="middle">10<tspan font-size="2.9" dy="-1.7">4</tspan></text>
<line x1="89.7" y1="344.3" x2="89.7" y2="345.8" stroke="#111" stroke-width="0.7"/>
<text x="89.7" y="351.9" font-size="4.6" font-weight="normal" fill="#000" stroke="#000" stroke-width="0.18" text-anchor="middle">10<tspan font-size="2.9" dy="-1.7">5</tspan></text>
<path d="M53.6 326H94.3M53.6 323V329M94.3 323V329" stroke="#222" stroke-width="1.4" fill="none"/>
<text x="75" y="319.4" font-size="4.9" font-weight="normal" fill="#444" text-anchor="middle" >21.16</text>
<path d="M105.1 293.9H169.1V342.8" fill="none" stroke="#999" stroke-width="0.6"/>
<path d="M108.2 342.8 L108.8 341.1 L109.4 338.8 L110 337.2 L110.6 334.2 L111.2 332 L111.8 328.4 L112.4 325.7 L113 321.6 L113.6 317.6 L114.2 312.2 L114.8 307.8 L115.4 302.6 L116 302.3 L116.6 299.2 L117.2 294.3 L117.8 299.3 L118.4 303.3 L119 305.2 L119.6 310.3 L120.2 313.4 L120.8 314.8 L121.4 320.5 L122 322.6 L122.6 325.9 L123.2 326.1 L123.8 328.5 L124.4 328.9 L125 331.2 L125.6 332.4 L126.2 334.6 L126.8 335.4 L127.4 334.2 L128 333.9 L128.6 333.2 L129.2 332.8 L129.8 334.3 L130.4 328.7 L131 331.3 L131.6 331.7 L132.2 332.4 L132.8 329.2 L133.4 330.8 L134 331.1 L134.6 329.1 L135.2 326.9 L135.8 328.6 L136.4 327.3 L137 329.7 L137.6 327.8 L138.2 331.2 L138.8 329.1 L139.4 327.9 L140 328.2 L140.6 327.5 L141.2 329.4 L141.8 330.8 L142.4 328.6 L143 329.8 L143.6 327.1 L144.2 328.4 L144.8 330.7 L145.4 325.6 L146 330 L146.6 331.2 L147.2 328.4 L147.8 330.2 L148.4 332.4 L149 336.5 L149.6 336.2 L150.2 338 L150.8 339.7 L151.4 339.6 L152 340.4 L152.6 340.3 L153.2 342.8 L153.8 340.6 L154.4 341.8 L155 342.1 L155.6 342.4 L156.2 342.7 L156.2 342.7 L155.6 342.4 L155 342.1 L154.4 341.8 L153.8 342.8 L153.2 342.8 L152.6 342.8 L152 342.8 L151.4 342.8 L150.8 339.7 L150.2 342.8 L149.6 338.8 L149 336.5 L148.4 333.9 L147.8 331.2 L147.2 330.3 L146.6 331.2 L146 331.3 L145.4 331.7 L144.8 333.4 L144.2 330.4 L143.6 331.9 L143 332 L142.4 332.7 L141.8 330.8 L141.2 331 L140.6 330.7 L140 331.2 L139.4 331.2 L138.8 333.6 L138.2 333 L137.6 335.5 L137 331.4 L136.4 331.8 L135.8 334.9 L135.2 331.8 L134.6 335.8 L134 332.6 L133.4 335.8 L132.8 333.5 L132.2 335.9 L131.6 342.1 L131 337.2 L130.4 338.6 L129.8 339.1 L129.2 335.8 L128.6 340.1 L128 341.2 L127.4 337.8 L126.8 335.4 L126.2 334.6 L125.6 332.6 L125 337.5 L124.4 329.1 L123.8 328.5 L123.2 329.3 L122.6 325.9 L122 322.6 L121.4 320.5 L120.8 314.8 L120.2 313.4 L119.6 310.3 L119 305.2 L118.4 303.3 L117.8 304 L117.2 304.3 L116.6 308 L116 313.4 L115.4 317.8 L114.8 322.3 L114.2 323.1 L113.6 333.5 L113 332.3 L112.4 336 L111.8 339.2 L111.2 341.5 L110.6 342.8 L110 342.8 L109.4 342.8 L108.8 342.8 L108.2 342.8z" fill="#888" fill-opacity="0.75" stroke="#666" stroke-width="0.5"/>
<path d="M108.2 342.8 L108.8 341.1 L109.4 338.8 L110 337.2 L110.6 334.2 L111.2 332 L111.8 328.4 L112.4 325.7 L113 321.6 L113.6 317.6 L114.2 312.2 L114.8 307.8 L115.4 302.6 L116 302.3 L116.6 299.2 L117.2 294.3 L117.8 299.3 L118.4 303.3 L119 305.2 L119.6 310.3 L120.2 313.4 L120.8 314.8 L121.4 320.5 L122 322.6 L122.6 325.9 L123.2 326.1 L123.8 328.5 L124.4 328.9 L125 331.2 L125.6 332.4 L126.2 334.6 L126.8 335.4 L127.4 334.2 L128 333.9 L128.6 333.2 L129.2 332.8 L129.8 334.3 L130.4 328.7 L131 331.3 L131.6 331.7 L132.2 332.4 L132.8 329.2 L133.4 330.8 L134 331.1 L134.6 329.1 L135.2 326.9 L135.8 328.6 L136.4 327.3 L137 329.7 L137.6 327.8 L138.2 331.2 L138.8 329.1 L139.4 327.9 L140 328.2 L140.6 327.5 L141.2 329.4 L141.8 330.8 L142.4 328.6 L143 329.8 L143.6 327.1 L144.2 328.4 L144.8 330.7 L145.4 325.6 L146 330 L146.6 331.2 L147.2 328.4 L147.8 330.2 L148.4 332.4 L149 336.5 L149.6 336.2 L150.2 338 L150.8 339.7 L151.4 339.6 L152 340.4 L152.6 340.3 L153.2 342.8 L153.8 340.6 L154.4 341.8 L155 342.1 L155.6 342.4 L156.2 342.7" fill="none" stroke="#222" stroke-width="0.7" stroke-linejoin="round"/>
<path d="M105.1 293.9V342.8H169.1" fill="none" stroke="#000" stroke-width="1.1"/>
<line x1="103.6" y1="295.2" x2="105.1" y2="295.2" stroke="#111" stroke-width="0.7"/>
<text x="101.5" y="296.9" font-size="4.8" font-weight="bold" fill="#222" text-anchor="end" >11</text>
<line x1="103.6" y1="307.1" x2="105.1" y2="307.1" stroke="#111" stroke-width="0.7"/>
<text x="101.5" y="308.8" font-size="4.8" font-weight="bold" fill="#222" text-anchor="end" >8</text>
<line x1="103.6" y1="319" x2="105.1" y2="319" stroke="#111" stroke-width="0.7"/>
<text x="101.5" y="320.7" font-size="4.8" font-weight="bold" fill="#222" text-anchor="end" >5</text>
<line x1="103.6" y1="330.9" x2="105.1" y2="330.9" stroke="#111" stroke-width="0.7"/>
<text x="101.5" y="332.6" font-size="4.8" font-weight="bold" fill="#222" text-anchor="end" >3</text>
<line x1="103.6" y1="342.8" x2="105.1" y2="342.8" stroke="#111" stroke-width="0.7"/>
<text x="101.5" y="344.5" font-size="4.8" font-weight="bold" fill="#222" text-anchor="end" >0</text>
<line x1="111.5" y1="342.8" x2="111.5" y2="344.3" stroke="#111" stroke-width="0.7"/>
<text x="111.5" y="350.4" font-size="4.6" font-weight="normal" fill="#000" stroke="#000" stroke-width="0.18" text-anchor="middle">-10<tspan font-size="2.9" dy="-1.7">2</tspan></text>
<line x1="121.7" y1="342.8" x2="121.7" y2="344.3" stroke="#111" stroke-width="0.7"/>
<text x="121.7" y="350.4" font-size="4.6" font-weight="normal" fill="#000" stroke="#000" stroke-width="0.18" text-anchor="middle">10<tspan font-size="2.9" dy="-1.7">2</tspan></text>
<line x1="135.2" y1="342.8" x2="135.2" y2="344.3" stroke="#111" stroke-width="0.7"/>
<text x="135.2" y="350.4" font-size="4.6" font-weight="normal" fill="#000" stroke="#000" stroke-width="0.18" text-anchor="middle">10<tspan font-size="2.9" dy="-1.7">3</tspan></text>
<line x1="150.5" y1="342.8" x2="150.5" y2="344.3" stroke="#111" stroke-width="0.7"/>
<text x="150.5" y="350.4" font-size="4.6" font-weight="normal" fill="#000" stroke="#000" stroke-width="0.18" text-anchor="middle">10<tspan font-size="2.9" dy="-1.7">4</tspan></text>
<line x1="164.6" y1="342.8" x2="164.6" y2="344.3" stroke="#111" stroke-width="0.7"/>
<text x="164.6" y="350.4" font-size="4.6" font-weight="normal" fill="#000" stroke="#000" stroke-width="0.18" text-anchor="middle">10<tspan font-size="2.9" dy="-1.7">5</tspan></text>
<path d="M129.6 325H169.1M129.6 322V328M169.1 322V328" stroke="#222" stroke-width="1.4" fill="none"/>
<text x="150.3" y="318.4" font-size="4.9" font-weight="normal" fill="#444" text-anchor="middle" >37.08</text>
<path d="M180.3 293.9H244.8V342" fill="none" stroke="#999" stroke-width="0.6"/>
<path d="M181.1 342 L181.7 341.2 L182.3 341.7 L182.9 342 L183.5 339.4 L184.1 338.7 L184.7 338.6 L185.3 339.8 L185.9 339.9 L186.5 341.2 L187.1 341.1 L187.7 332.2 L188.3 332.3 L188.9 329.5 L189.5 322.8 L190.1 315 L190.7 311 L191.3 306.4 L191.9 301.3 L192.5 298.7 L193.1 294 L193.7 298.4 L194.3 306.5 L194.9 308.6 L195.5 315.5 L196.1 318.5 L196.7 324.4 L197.3 328.2 L197.9 330.2 L198.5 329.5 L199.1 331.2 L199.7 333.5 L200.3 337.5 L200.9 339.4 L201.5 340.4 L202.1 338.4 L202.7 339.7 L203.3 336.6 L203.9 334.9 L204.5 336.2 L205.1 335.7 L205.7 333.4 L206.3 332.1 L206.9 334.5 L207.5 331.5 L208.1 332.3 L208.7 340.4 L209.3 337.9 L209.9 336.4 L210.5 337.1 L211.1 334.2 L211.7 337.1 L212.3 331.8 L212.9 331.5 L213.5 332.7 L214.1 332.7 L214.7 337.8 L215.3 335.1 L215.9 338.3 L216.5 340 L217.1 340.5 L217.7 341.2 L218.3 340.2 L218.9 342 L219.5 338.2 L220.1 338 L220.7 337.8 L221.3 334.9 L221.9 333.8 L222.5 333.3 L223.1 334.6 L223.7 335.5 L224.3 338 L224.9 337.6 L225.5 340.9 L226.1 338.4 L226.7 341.3 L227.3 341.7 L227.3 341.7 L226.7 341.3 L226.1 342 L225.5 340.9 L224.9 339.8 L224.3 342 L223.7 339 L223.1 338.3 L222.5 341 L221.9 342 L221.3 340.6 L220.7 342 L220.1 342 L219.5 342 L218.9 342 L218.3 342 L217.7 342 L217.1 340.8 L216.5 342 L215.9 341 L215.3 340.2 L214.7 337.9 L214.1 338 L213.5 338.4 L212.9 340.1 L212.3 340.8 L211.7 339.1 L211.1 341.2 L210.5 340.6 L209.9 341.2 L209.3 339.3 L208.7 340.4 L208.1 336.7 L207.5 336.8 L206.9 342 L206.3 338.9 L205.7 342 L205.1 342 L204.5 342 L203.9 342 L203.3 342 L202.7 342 L202.1 339.5 L201.5 340.4 L200.9 342 L200.3 337.5 L199.7 335.9 L199.1 331.7 L198.5 331.5 L197.9 330.2 L197.3 328.2 L196.7 324.4 L196.1 318.5 L195.5 315.5 L194.9 308.6 L194.3 306.5 L193.7 307.5 L193.1 307.5 L192.5 311.9 L191.9 323.4 L191.3 324.3 L190.7 326.7 L190.1 334.1 L189.5 336.3 L188.9 339.4 L188.3 342 L187.7 342 L187.1 342 L186.5 341.2 L185.9 342 L185.3 342 L184.7 342 L184.1 342 L183.5 342 L182.9 342 L182.3 342 L181.7 342 L181.1 342z" fill="#888" fill-opacity="0.75" stroke="#666" stroke-width="0.5"/>
<path d="M181.1 342 L181.7 341.2 L182.3 341.7 L182.9 342 L183.5 339.4 L184.1 338.7 L184.7 338.6 L185.3 339.8 L185.9 339.9 L186.5 341.2 L187.1 341.1 L187.7 332.2 L188.3 332.3 L188.9 329.5 L189.5 322.8 L190.1 315 L190.7 311 L191.3 306.4 L191.9 301.3 L192.5 298.7 L193.1 294 L193.7 298.4 L194.3 306.5 L194.9 308.6 L195.5 315.5 L196.1 318.5 L196.7 324.4 L197.3 328.2 L197.9 330.2 L198.5 329.5 L199.1 331.2 L199.7 333.5 L200.3 337.5 L200.9 339.4 L201.5 340.4 L202.1 338.4 L202.7 339.7 L203.3 336.6 L203.9 334.9 L204.5 336.2 L205.1 335.7 L205.7 333.4 L206.3 332.1 L206.9 334.5 L207.5 331.5 L208.1 332.3 L208.7 340.4 L209.3 337.9 L209.9 336.4 L210.5 337.1 L211.1 334.2 L211.7 337.1 L212.3 331.8 L212.9 331.5 L213.5 332.7 L214.1 332.7 L214.7 337.8 L215.3 335.1 L215.9 338.3 L216.5 340 L217.1 340.5 L217.7 341.2 L218.3 340.2 L218.9 342 L219.5 338.2 L220.1 338 L220.7 337.8 L221.3 334.9 L221.9 333.8 L222.5 333.3 L223.1 334.6 L223.7 335.5 L224.3 338 L224.9 337.6 L225.5 340.9 L226.1 338.4 L226.7 341.3 L227.3 341.7" fill="none" stroke="#222" stroke-width="0.7" stroke-linejoin="round"/>
<path d="M180.3 293.9V342H244.8" fill="none" stroke="#000" stroke-width="1.1"/>
<line x1="178.8" y1="295.2" x2="180.3" y2="295.2" stroke="#111" stroke-width="0.7"/>
<text x="176.7" y="296.9" font-size="4.8" font-weight="bold" fill="#222" text-anchor="end" >6</text>
<line x1="178.8" y1="306.9" x2="180.3" y2="306.9" stroke="#111" stroke-width="0.7"/>
<text x="176.7" y="308.6" font-size="4.8" font-weight="bold" fill="#222" text-anchor="end" >5</text>
<line x1="178.8" y1="318.6" x2="180.3" y2="318.6" stroke="#111" stroke-width="0.7"/>
<text x="176.7" y="320.3" font-size="4.8" font-weight="bold" fill="#222" text-anchor="end" >3</text>
<line x1="178.8" y1="330.3" x2="180.3" y2="330.3" stroke="#111" stroke-width="0.7"/>
<text x="176.7" y="332" font-size="4.8" font-weight="bold" fill="#222" text-anchor="end" >2</text>
<line x1="178.8" y1="342" x2="180.3" y2="342" stroke="#111" stroke-width="0.7"/>
<text x="176.7" y="343.7" font-size="4.8" font-weight="bold" fill="#222" text-anchor="end" >0</text>
<line x1="186.8" y1="342" x2="186.8" y2="343.5" stroke="#111" stroke-width="0.7"/>
<text x="186.8" y="349.6" font-size="4.6" font-weight="normal" fill="#000" stroke="#000" stroke-width="0.18" text-anchor="middle">-10<tspan font-size="2.9" dy="-1.7">2</tspan></text>
<line x1="197.1" y1="342" x2="197.1" y2="343.5" stroke="#111" stroke-width="0.7"/>
<text x="197.1" y="349.6" font-size="4.6" font-weight="normal" fill="#000" stroke="#000" stroke-width="0.18" text-anchor="middle">10<tspan font-size="2.9" dy="-1.7">2</tspan></text>
<line x1="210.6" y1="342" x2="210.6" y2="343.5" stroke="#111" stroke-width="0.7"/>
<text x="210.6" y="349.6" font-size="4.6" font-weight="normal" fill="#000" stroke="#000" stroke-width="0.18" text-anchor="middle">10<tspan font-size="2.9" dy="-1.7">3</tspan></text>
<line x1="226.1" y1="342" x2="226.1" y2="343.5" stroke="#111" stroke-width="0.7"/>
<text x="226.1" y="349.6" font-size="4.6" font-weight="normal" fill="#000" stroke="#000" stroke-width="0.18" text-anchor="middle">10<tspan font-size="2.9" dy="-1.7">4</tspan></text>
<line x1="240.3" y1="342" x2="240.3" y2="343.5" stroke="#111" stroke-width="0.7"/>
<text x="240.3" y="349.6" font-size="4.6" font-weight="normal" fill="#000" stroke="#000" stroke-width="0.18" text-anchor="middle">10<tspan font-size="2.9" dy="-1.7">5</tspan></text>
<path d="M204.1 325.4H245M204.1 322.4V328.4M245 322.4V328.4" stroke="#222" stroke-width="1.4" fill="none"/>
<text x="225.6" y="318.8" font-size="4.9" font-weight="normal" fill="#444" text-anchor="middle" >22.33</text>
<path d="M306.6 59.5V155.5H489" stroke="#000" stroke-width="1.5" fill="none"/>
<line x1="303.8" y1="155.5" x2="306.6" y2="155.5" stroke="#000" stroke-width="1.3"/>
<text x="302.7" y="158.6" font-size="8.6" font-weight="bold" fill="#000" text-anchor="end" >0</text>
<line x1="303.8" y1="123.5" x2="306.6" y2="123.5" stroke="#000" stroke-width="1.3"/>
<text x="302.7" y="126.6" font-size="8.6" font-weight="bold" fill="#000" text-anchor="end" >10</text>
<line x1="303.8" y1="91.5" x2="306.6" y2="91.5" stroke="#000" stroke-width="1.3"/>
<text x="302.7" y="94.6" font-size="8.6" font-weight="bold" fill="#000" text-anchor="end" >20</text>
<line x1="303.8" y1="59.5" x2="306.6" y2="59.5" stroke="#000" stroke-width="1.3"/>
<text x="302.7" y="62.6" font-size="8.6" font-weight="bold" fill="#000" text-anchor="end" >30</text>
<text transform="translate(284.6 101.6) rotate(-90)" font-size="10" font-weight="bold" text-anchor="middle" textLength="104" lengthAdjust="spacingAndGlyphs">PDCA-1<tspan font-size="6.6" dy="-3.4">+</tspan><tspan dy="3.4"> / CD11c</tspan><tspan font-size="6.6" dy="-3.4">+</tspan><tspan dy="3.4"> (%)</tspan></text>
<text x="319" y="171" font-size="11" font-weight="bold" fill="#000" text-anchor="start" textLength="36.8" lengthAdjust="spacingAndGlyphs">Spleen</text>
<line x1="337.4" y1="155.5" x2="337.4" y2="158.3" stroke="#000" stroke-width="1.3"/>
<circle cx="318.5" cy="132.5" r="2.2" fill="#999"/>
<circle cx="321.1" cy="136.3" r="2.2" fill="#999"/>
<circle cx="320" cy="139.8" r="2.2" fill="#999"/>
<line x1="315.5" y1="136.3" x2="326.1" y2="136.3" stroke="#999" stroke-width="1.4"/>
<path d="M320.8 134.4V138.2M317.8 134.4H323.8M317.8 138.2H323.8" stroke="#999" stroke-width="1.3" fill="none"/>
<rect x="332.8" y="123" width="4.2" height="4.2" fill="#000"/>
<rect x="336.5" y="126.2" width="4.2" height="4.2" fill="#000"/>
<rect x="334.4" y="127.2" width="4.2" height="4.2" fill="#000"/>
<line x1="332.2" y1="127.5" x2="342.8" y2="127.5" stroke="#000" stroke-width="1.4"/>
<path d="M337.5 126.2V128.8M334.5 126.2H340.5M334.5 128.8H340.5" stroke="#000" stroke-width="1.3" fill="none"/>
<path d="M353.9 129.3L356.3 133.7L351.5 133.7z" fill="#000"/>
<path d="M352.9 133.2L355.3 137.6L350.5 137.6z" fill="#000"/>
<path d="M354.4 137.3L356.8 141.7L352 141.7z" fill="#000"/>
<line x1="348.6" y1="135.7" x2="359.2" y2="135.7" stroke="#000" stroke-width="1.4"/>
<path d="M353.9 133.4V137.9M350.9 133.4H356.9M350.9 137.9H356.9" stroke="#000" stroke-width="1.3" fill="none"/>
<text x="387.2" y="171" font-size="11" font-weight="bold" fill="#000" text-anchor="start" textLength="23.1" lengthAdjust="spacingAndGlyphs">MLN</text>
<line x1="398.8" y1="155.5" x2="398.8" y2="158.3" stroke="#000" stroke-width="1.3"/>
<circle cx="381.5" cy="119.7" r="2.2" fill="#999"/>
<circle cx="378.8" cy="129.3" r="2.2" fill="#999"/>
<circle cx="384.2" cy="129.3" r="2.2" fill="#999"/>
<line x1="376.2" y1="125.9" x2="386.8" y2="125.9" stroke="#999" stroke-width="1.4"/>
<path d="M381.5 123V128.8M378.5 123H384.5M378.5 128.8H384.5" stroke="#999" stroke-width="1.3" fill="none"/>
<rect x="396.7" y="66" width="4.2" height="4.2" fill="#000"/>
<rect x="399.2" y="71.8" width="4.2" height="4.2" fill="#000"/>
<rect x="392.7" y="75" width="4.2" height="4.2" fill="#000"/>
<line x1="393" y1="72.6" x2="403.6" y2="72.6" stroke="#000" stroke-width="1.4"/>
<path d="M398.3 70.7V74.5M395.3 70.7H401.3M395.3 74.5H401.3" stroke="#000" stroke-width="1.3" fill="none"/>
<path d="M414.2 104.4L416.6 108.8L411.8 108.8z" fill="#000"/>
<path d="M417.5 131.4L419.9 135.8L415.1 135.8z" fill="#000"/>
<path d="M412.7 137L415.1 141.4L410.3 141.4z" fill="#000"/>
<line x1="409.9" y1="127" x2="420.5" y2="127" stroke="#000" stroke-width="1.4"/>
<path d="M415.2 119.3V134.7M412.2 119.3H418.2M412.2 134.7H418.2" stroke="#000" stroke-width="1.3" fill="none"/>
<text x="452.3" y="171" font-size="11" font-weight="bold" fill="#000" text-anchor="start" textLength="13.8" lengthAdjust="spacingAndGlyphs">PP</text>
<line x1="459.2" y1="155.5" x2="459.2" y2="158.3" stroke="#000" stroke-width="1.3"/>
<circle cx="439.5" cy="127.7" r="2.2" fill="#999"/>
<circle cx="443.5" cy="129.3" r="2.2" fill="#999"/>
<circle cx="441.5" cy="132.3" r="2.2" fill="#999"/>
<line x1="436.2" y1="129.7" x2="446.8" y2="129.7" stroke="#999" stroke-width="1.4"/>
<path d="M441.5 128.8V130.7M438.5 128.8H444.5M438.5 130.7H444.5" stroke="#999" stroke-width="1.3" fill="none"/>
<rect x="454.7" y="73.4" width="4.2" height="4.2" fill="#000"/>
<rect x="457.4" y="76.6" width="4.2" height="4.2" fill="#000"/>
<rect x="456.9" y="93.9" width="4.2" height="4.2" fill="#000"/>
<line x1="453.7" y1="83.5" x2="464.3" y2="83.5" stroke="#000" stroke-width="1.4"/>
<path d="M459 78.7V88.3M456 78.7H462M456 88.3H462" stroke="#000" stroke-width="1.3" fill="none"/>
<path d="M476.6 109.2L479 113.6L474.2 113.6z" fill="#000"/>
<path d="M474.3 118.4L476.7 122.8L471.9 122.8z" fill="#000"/>
<path d="M477.7 123.4L480.1 127.8L475.3 127.8z" fill="#000"/>
<path d="M476.6 134.8L479 139.2L474.2 139.2z" fill="#000"/>
<line x1="470.7" y1="123.2" x2="481.3" y2="123.2" stroke="#000" stroke-width="1.4"/>
<path d="M476 118.7V127.7M473 118.7H479M473 127.7H479" stroke="#000" stroke-width="1.3" fill="none"/>
<text x="315.6" y="109.3" font-size="8.4" font-weight="bold" fill="#000" text-anchor="start" textLength="5.4" lengthAdjust="spacingAndGlyphs">P</text>
<text x="326.8" y="109.3" font-size="8.4" font-weight="bold" fill="#000" text-anchor="start" textLength="25" lengthAdjust="spacingAndGlyphs">&lt; 0.05</text>
<line x1="317.1" y1="115.3" x2="336.6" y2="115.3" stroke="#000" stroke-width="1.3"/>
<text x="361.5" y="58.4" font-size="8.4" font-weight="bold" fill="#000" text-anchor="start" textLength="5.4" lengthAdjust="spacingAndGlyphs">P</text>
<text x="372.6" y="58.4" font-size="8.4" font-weight="bold" fill="#000" text-anchor="start" textLength="29.6" lengthAdjust="spacingAndGlyphs">&lt; 0.001</text>
<line x1="377.7" y1="62.8" x2="397.9" y2="62.8" stroke="#000" stroke-width="1.3"/>
<text x="425.3" y="63.7" font-size="8.4" font-weight="bold" fill="#000" text-anchor="start" textLength="5.4" lengthAdjust="spacingAndGlyphs">P</text>
<text x="436.2" y="63.7" font-size="8.4" font-weight="bold" fill="#000" text-anchor="start" textLength="24.7" lengthAdjust="spacingAndGlyphs">&lt; 0.01</text>
<line x1="437.3" y1="69.3" x2="457.7" y2="69.3" stroke="#000" stroke-width="1.3"/>
<circle cx="305.2" cy="34.8" r="2.1" fill="#999"/>
<text x="313.4" y="37.5" font-size="8.5" font-weight="bold" fill="#000" text-anchor="start" textLength="24.5" lengthAdjust="spacingAndGlyphs">wt fed</text>
<rect x="357.5" y="32.6" width="4.3" height="4.3" fill="#000"/>
<text x="367.4" y="37.5" font-size="8.4" font-weight="bold" fill="#000" text-anchor="start" textLength="29.8" lengthAdjust="spacingAndGlyphs">F.IX fed</text>
<path d="M427.7 32.3L430 36.6L425.4 36.6z" fill="#000"/>
<text x="435.8" y="37.3" font-size="8.6" font-weight="bold" fill="#000" text-anchor="start" textLength="83.2" lengthAdjust="spacingAndGlyphs">F.IX fed no injection</text>
<path d="M305.3 249.2V347.7H483.8" stroke="#000" stroke-width="1.5" fill="none"/>
<line x1="302.5" y1="347.7" x2="305.3" y2="347.7" stroke="#000" stroke-width="1.3"/>
<text x="303" y="350.6" font-size="8.1" font-weight="bold" fill="#000" text-anchor="end" >0</text>
<line x1="302.5" y1="328" x2="305.3" y2="328" stroke="#000" stroke-width="1.3"/>
<text x="303" y="330.9" font-size="8.1" font-weight="bold" fill="#000" text-anchor="end" >10</text>
<line x1="302.5" y1="308.3" x2="305.3" y2="308.3" stroke="#000" stroke-width="1.3"/>
<text x="303" y="311.2" font-size="8.1" font-weight="bold" fill="#000" text-anchor="end" >20</text>
<line x1="302.5" y1="288.6" x2="305.3" y2="288.6" stroke="#000" stroke-width="1.3"/>
<text x="303" y="291.5" font-size="8.1" font-weight="bold" fill="#000" text-anchor="end" >30</text>
<line x1="302.5" y1="268.9" x2="305.3" y2="268.9" stroke="#000" stroke-width="1.3"/>
<text x="303" y="271.8" font-size="8.1" font-weight="bold" fill="#000" text-anchor="end" >40</text>
<line x1="302.5" y1="249.2" x2="305.3" y2="249.2" stroke="#000" stroke-width="1.3"/>
<text x="303" y="252.1" font-size="8.1" font-weight="bold" fill="#000" text-anchor="end" >50</text>
<text transform="translate(285.5 295.9) rotate(-90)" font-size="9.8" font-weight="bold" text-anchor="middle" textLength="94.2" lengthAdjust="spacingAndGlyphs">CD103<tspan font-size="6.5" dy="-3.3">+</tspan><tspan dy="3.3"> / CD11c</tspan><tspan font-size="6.5" dy="-3.3">+</tspan><tspan dy="3.3"> (%)</tspan></text>
<text x="340.4" y="362.7" font-size="10.5" font-weight="bold" fill="#000" text-anchor="start" textLength="22" lengthAdjust="spacingAndGlyphs">MLN</text>
<line x1="351.4" y1="347.7" x2="351.4" y2="350.5" stroke="#000" stroke-width="1.3"/>
<circle cx="326" cy="303.4" r="2.2" fill="#999"/>
<circle cx="324" cy="316.2" r="2.2" fill="#999"/>
<circle cx="330" cy="314.2" r="2.2" fill="#999"/>
<line x1="322.2" y1="311.3" x2="332.8" y2="311.3" stroke="#999" stroke-width="1.4"/>
<path d="M327.5 308.1V314.4M324.5 308.1H330.5M324.5 314.4H330.5" stroke="#999" stroke-width="1.3" fill="none"/>
<rect x="344.7" y="279.6" width="4.2" height="4.2" fill="#000"/>
<rect x="354.8" y="283" width="4.2" height="4.2" fill="#000"/>
<rect x="350.1" y="286.5" width="4.2" height="4.2" fill="#000"/>
<rect x="349.3" y="304.6" width="4.2" height="4.2" fill="#000"/>
<line x1="346.9" y1="291.8" x2="357.5" y2="291.8" stroke="#000" stroke-width="1.4"/>
<path d="M352.2 287.6V295.9M349.2 287.6H355.2M349.2 295.9H355.2" stroke="#000" stroke-width="1.3" fill="none"/>
<path d="M380.3 295L382.7 299.4L377.9 299.4z" fill="#000"/>
<path d="M373.6 300.3L376 304.7L371.2 304.7z" fill="#000"/>
<path d="M376.1 317L378.5 321.4L373.7 321.4z" fill="#000"/>
<line x1="370.8" y1="305.5" x2="381.4" y2="305.5" stroke="#000" stroke-width="1.4"/>
<path d="M376.1 301.8V309.3M373.1 301.8H379.1M373.1 309.3H379.1" stroke="#000" stroke-width="1.3" fill="none"/>
<text x="433.2" y="362.7" font-size="10.5" font-weight="bold" fill="#000" text-anchor="start" textLength="14" lengthAdjust="spacingAndGlyphs">PP</text>
<line x1="440.2" y1="347.7" x2="440.2" y2="350.5" stroke="#000" stroke-width="1.3"/>
<circle cx="415.7" cy="295.5" r="2.2" fill="#999"/>
<circle cx="412" cy="310.5" r="2.2" fill="#999"/>
<circle cx="418.8" cy="306.3" r="2.2" fill="#999"/>
<line x1="411" y1="303.8" x2="421.6" y2="303.8" stroke="#999" stroke-width="1.4"/>
<path d="M416.3 299.4V308.1M413.3 299.4H419.3M413.3 308.1H419.3" stroke="#999" stroke-width="1.3" fill="none"/>
<rect x="437.7" y="249.9" width="4.2" height="4.2" fill="#000"/>
<rect x="434.5" y="268.8" width="4.2" height="4.2" fill="#000"/>
<rect x="441.3" y="272.7" width="4.2" height="4.2" fill="#000"/>
<rect x="437.7" y="286.1" width="4.2" height="4.2" fill="#000"/>
<line x1="435" y1="271.3" x2="445.6" y2="271.3" stroke="#000" stroke-width="1.4"/>
<path d="M440.3 264V278.6M437.3 264H443.3M437.3 278.6H443.3" stroke="#000" stroke-width="1.3" fill="none"/>
<path d="M461.4 299.1L463.8 303.5L459 303.5z" fill="#000"/>
<path d="M467.5 303.2L469.9 307.6L465.1 307.6z" fill="#000"/>
<path d="M467.5 312.3L469.9 316.7L465.1 316.7z" fill="#000"/>
<path d="M461.4 317L463.8 321.4L459 321.4z" fill="#000"/>
<line x1="459.2" y1="310.5" x2="469.8" y2="310.5" stroke="#000" stroke-width="1.4"/>
<path d="M464.5 306.9V314M461.5 306.9H467.5M461.5 314H467.5" stroke="#000" stroke-width="1.3" fill="none"/>
<text x="316.7" y="271" font-size="8.1" font-weight="bold" fill="#000" text-anchor="start" textLength="5.2" lengthAdjust="spacingAndGlyphs">P</text>
<text x="327.3" y="271" font-size="8.1" font-weight="bold" fill="#000" text-anchor="start" textLength="24.1" lengthAdjust="spacingAndGlyphs">&lt; 0.05</text>
<line x1="328.3" y1="275.8" x2="345.2" y2="275.8" stroke="#000" stroke-width="1.3"/>
<text x="395.4" y="259.7" font-size="8.1" font-weight="bold" fill="#000" text-anchor="start" textLength="5.2" lengthAdjust="spacingAndGlyphs">P</text>
<text x="406" y="259.7" font-size="8.1" font-weight="bold" fill="#000" text-anchor="start" textLength="23.9" lengthAdjust="spacingAndGlyphs">&lt; 0.05</text>
<line x1="415.2" y1="265.3" x2="431.8" y2="265.3" stroke="#000" stroke-width="1.3"/>
<circle cx="302.7" cy="230" r="1.9" fill="#999"/>
<text x="311" y="232.2" font-size="8.3" font-weight="bold" fill="#000" text-anchor="start" textLength="24.4" lengthAdjust="spacingAndGlyphs">wt fed</text>
<rect x="343.6" y="228" width="3.8" height="3.8" fill="#000"/>
<text x="353.7" y="232.2" font-size="8.3" font-weight="bold" fill="#000" text-anchor="start" textLength="29.8" lengthAdjust="spacingAndGlyphs">F.IX fed</text>
<path d="M398.1 227.6L400.2 231.6L396 231.6z" fill="#000"/>
<text x="406.3" y="232.2" font-size="8.4" font-weight="bold" fill="#000" text-anchor="start" textLength="79.9" lengthAdjust="spacingAndGlyphs">F.IX fed no injection</text>
</svg>
</body></html>
